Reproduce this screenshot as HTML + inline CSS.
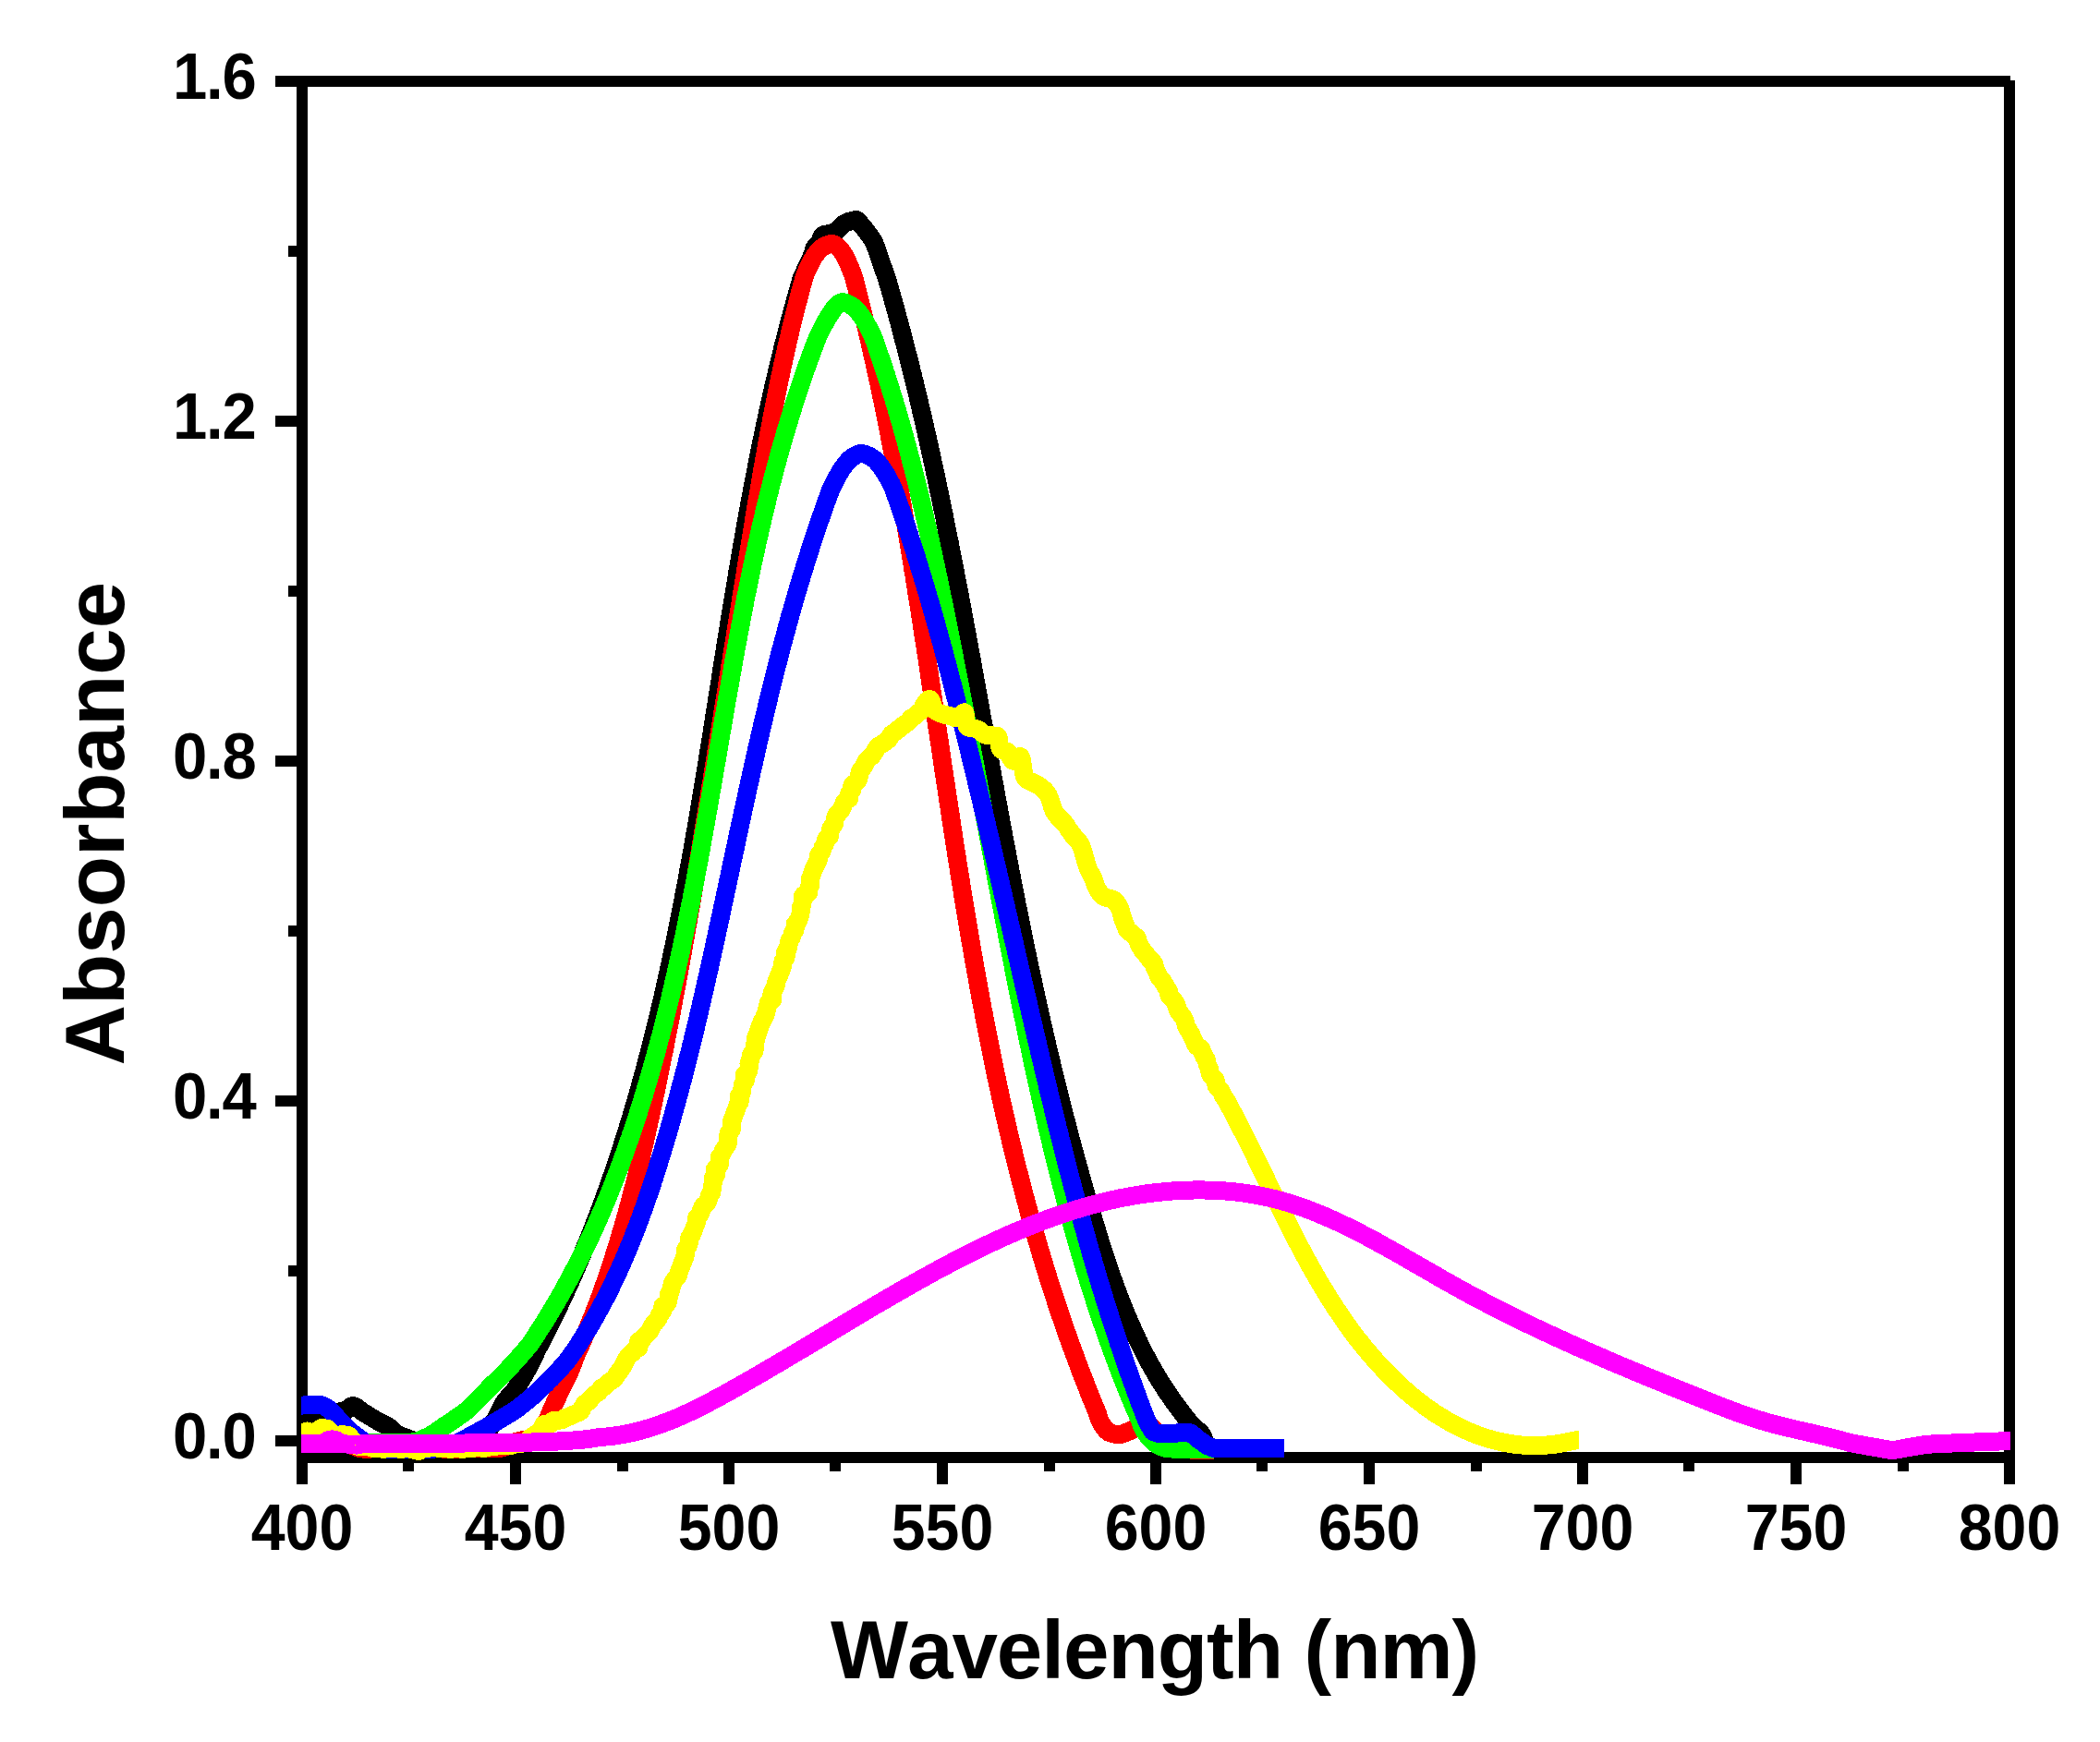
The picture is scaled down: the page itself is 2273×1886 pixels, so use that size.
<!DOCTYPE html>
<html><head><meta charset="utf-8"><title>Absorbance vs Wavelength</title>
<style>
html,body{margin:0;padding:0;background:#fff;}
body{width:2273px;height:1886px;overflow:hidden;}
svg{display:block;}
text{font-family:"Liberation Sans",Arial,Helvetica,sans-serif;font-weight:bold;fill:#000;}
</style></head><body>
<svg width="2273" height="1886" viewBox="0 0 2273 1886">
<rect width="2273" height="1886" fill="#fff"/>
<g fill="#000" shape-rendering="crispEdges">
<rect x="298.0" y="82.0" width="1878.0" height="12.0"/>
<rect x="321.0" y="82.0" width="12.0" height="1525.0"/>
<rect x="2169.0" y="87.0" width="12.0" height="1520.0"/>
<rect x="321.0" y="1572.0" width="1860.0" height="12.0"/>
<rect x="298.0" y="1554.0" width="23.0" height="12.0"/>
<rect x="312.0" y="1370.0" width="9.0" height="12.0"/>
<rect x="298.0" y="1186.0" width="23.0" height="12.0"/>
<rect x="312.0" y="1002.0" width="9.0" height="12.0"/>
<rect x="298.0" y="818.0" width="23.0" height="12.0"/>
<rect x="312.0" y="634.0" width="9.0" height="12.0"/>
<rect x="298.0" y="450.0" width="23.0" height="12.0"/>
<rect x="312.0" y="266.0" width="9.0" height="12.0"/>
<rect x="436.0" y="1584.0" width="12.0" height="9.0"/>
<rect x="552.0" y="1584.0" width="12.0" height="23.0"/>
<rect x="668.0" y="1584.0" width="12.0" height="9.0"/>
<rect x="783.0" y="1584.0" width="12.0" height="23.0"/>
<rect x="898.0" y="1584.0" width="12.0" height="9.0"/>
<rect x="1014.0" y="1584.0" width="12.0" height="23.0"/>
<rect x="1130.0" y="1584.0" width="12.0" height="9.0"/>
<rect x="1245.0" y="1584.0" width="12.0" height="23.0"/>
<rect x="1360.0" y="1584.0" width="12.0" height="9.0"/>
<rect x="1476.0" y="1584.0" width="12.0" height="23.0"/>
<rect x="1592.0" y="1584.0" width="12.0" height="9.0"/>
<rect x="1707.0" y="1584.0" width="12.0" height="23.0"/>
<rect x="1822.0" y="1584.0" width="12.0" height="9.0"/>
<rect x="1938.0" y="1584.0" width="12.0" height="23.0"/>
<rect x="2054.0" y="1584.0" width="12.0" height="9.0"/>
</g>
<clipPath id="plotclip"><rect x="326" y="80" width="1850" height="1505"/></clipPath>
<g shape-rendering="crispEdges" clip-path="url(#plotclip)">
<path d="M316.0,1534.0 L318.0,1534.0 L320.0,1534.0 L322.1,1534.0 L324.1,1534.0 L326.1,1534.0 L328.1,1534.0 L330.1,1533.9 L332.1,1533.7 L334.1,1533.5 L336.1,1533.2 L338.1,1532.9 L340.1,1532.6 L342.1,1532.3 L344.1,1531.9 L346.1,1531.6 L348.1,1531.3 L350.1,1531.0 L352.1,1530.7 L354.1,1530.3 L356.1,1530.0 L358.1,1529.6 L360.0,1529.3 L362.0,1529.0 L364.0,1528.7 L366.0,1528.5 L368.1,1528.4 L370.1,1528.2 L372.1,1528.0 L373.9,1527.3 L375.7,1526.1 L377.4,1524.7 L379.1,1523.3 L380.8,1522.4 L382.5,1522.1 L384.2,1522.6 L385.9,1523.6 L387.6,1524.9 L389.3,1526.3 L391.0,1527.7 L392.7,1528.8 L394.4,1529.9 L396.1,1530.9 L397.9,1532.0 L399.6,1533.0 L401.3,1534.1 L403.1,1535.1 L404.8,1536.1 L406.5,1537.2 L408.3,1538.2 L410.0,1539.2 L411.8,1540.1 L413.6,1541.0 L415.4,1541.9 L417.3,1542.8 L419.1,1543.7 L420.8,1544.8 L422.4,1546.0 L423.9,1547.3 L425.3,1548.8 L426.8,1550.2 L428.3,1551.6 L429.9,1552.7 L431.7,1553.6 L433.5,1554.4 L435.4,1555.1 L437.3,1555.8 L439.3,1556.5 L441.1,1557.2 L443.0,1557.9 L444.9,1558.7 L446.8,1559.4 L448.7,1560.0 L450.6,1560.7 L452.6,1561.2 L454.5,1561.8 L456.4,1562.3 L458.4,1562.8 L460.4,1563.3 L462.3,1563.8 L464.3,1564.2 L466.3,1564.6 L468.3,1564.8 L470.3,1565.0 L472.3,1565.2 L474.3,1565.3 L476.3,1565.4 L478.4,1565.5 L480.4,1565.6 L482.4,1565.7 L484.5,1565.8 L486.5,1565.9 L488.5,1565.9 L490.5,1566.0 L492.5,1566.0 L494.5,1566.0 L496.5,1566.0 L498.5,1565.7 L500.5,1565.4 L502.5,1564.9 L504.5,1564.3 L506.5,1563.7 L508.4,1562.9 L510.3,1562.1 L512.2,1561.3 L513.9,1560.5 L515.7,1559.7 L517.3,1558.7 L519.0,1557.5 L520.6,1556.3 L522.2,1554.9 L523.7,1553.5 L525.1,1552.0 L526.5,1550.5 L527.8,1549.0 L529.1,1547.5 L530.3,1545.9 L531.5,1544.2 L532.6,1542.5 L533.7,1540.8 L534.7,1539.1 L535.8,1537.3 L536.8,1535.6 L537.7,1533.8 L538.6,1532.0 L539.5,1530.2 L540.4,1528.3 L541.3,1526.5 L542.2,1524.7 L543.1,1522.9 L544.1,1521.1 L545.1,1519.4 L546.2,1517.7 L547.4,1516.2 L548.6,1514.6 L550.0,1513.1 L551.3,1511.6 L552.7,1510.1 L554.1,1508.6 L555.4,1507.0 L556.7,1505.5 L557.8,1503.8 L559.0,1502.2 L560.1,1500.5 L561.2,1498.8 L562.3,1497.1 L563.4,1495.4 L564.5,1493.7 L565.5,1492.0 L566.5,1490.2 L567.6,1488.5 L568.6,1486.7 L569.5,1485.0 L570.5,1483.2 L571.5,1481.5 L572.4,1479.7 L573.3,1477.9 L574.3,1476.1 L575.2,1474.3 L576.1,1472.5 L576.9,1470.7 L577.8,1468.8 L578.7,1467.0 L579.5,1465.2 L580.3,1463.3 L580.3,1463.3 L581.2,1461.5 L582.2,1459.7 L583.1,1457.9 L584.1,1456.1 L585.0,1454.3 L586.0,1452.5 L586.9,1450.7 L587.8,1448.9 L588.8,1447.1 L589.7,1445.3 L590.6,1443.5 L591.5,1441.7 L592.4,1439.9 L593.4,1438.1 L594.3,1436.3 L595.2,1434.5 L596.1,1432.6 L597.0,1430.8 L597.9,1429.0 L598.8,1427.2 L599.6,1425.4 L600.5,1423.6 L601.4,1421.8 L602.3,1419.9 L603.2,1418.1 L604.0,1416.3 L604.9,1414.5 L605.8,1412.7 L606.6,1410.8 L607.5,1409.0 L608.4,1407.2 L609.2,1405.4 L610.1,1403.5 L610.9,1401.7 L611.8,1399.9 L612.6,1398.0 L613.4,1396.2 L614.3,1394.4 L615.1,1392.5 L615.9,1390.7 L616.8,1388.9 L617.6,1387.0 L618.4,1385.2 L619.2,1383.4 L620.0,1381.5 L620.9,1379.7 L621.7,1377.8 L622.5,1376.0 L623.3,1374.2 L624.1,1372.3 L624.9,1370.5 L625.7,1368.6 L626.4,1366.8 L627.2,1364.9 L628.0,1363.1 L628.8,1361.2 L629.6,1359.4 L630.4,1357.5 L631.1,1355.7 L631.9,1353.8 L632.7,1352.0 L633.4,1350.1 L634.2,1348.3 L635.0,1346.4 L635.7,1344.6 L636.5,1342.7 L637.2,1340.8 L638.0,1339.0 L638.7,1337.1 L639.4,1335.3 L640.2,1333.4 L640.9,1331.5 L641.7,1329.7 L642.4,1327.8 L643.1,1325.9 L643.8,1324.1 L644.6,1322.2 L645.3,1320.3 L646.0,1318.5 L646.7,1316.6 L647.4,1314.7 L648.1,1312.9 L648.8,1311.0 L649.5,1309.1 L650.2,1307.3 L650.9,1305.4 L651.6,1303.5 L652.3,1301.6 L653.0,1299.7 L653.7,1297.9 L654.4,1296.0 L655.1,1294.1 L655.8,1292.2 L656.4,1290.4 L657.1,1288.5 L657.8,1286.6 L658.5,1284.7 L659.1,1282.8 L659.8,1280.9 L660.5,1279.1 L661.1,1277.2 L661.8,1275.3 L662.4,1273.4 L663.1,1271.5 L663.7,1269.6 L664.4,1267.7 L665.0,1265.8 L665.7,1263.9 L666.3,1262.1 L666.9,1260.2 L667.6,1258.3 L668.2,1256.4 L668.8,1254.5 L669.5,1252.6 L670.1,1250.7 L670.7,1248.8 L671.3,1246.9 L672.0,1245.0 L672.6,1243.1 L673.2,1241.2 L673.8,1239.3 L674.4,1237.4 L675.0,1235.5 L675.6,1233.6 L676.2,1231.7 L676.8,1229.8 L677.4,1227.9 L678.0,1226.0 L678.6,1224.1 L679.2,1222.2 L679.8,1220.2 L680.4,1218.3 L681.0,1216.4 L681.6,1214.5 L682.1,1212.6 L682.7,1210.7 L683.3,1208.8 L683.9,1206.9 L684.4,1205.0 L685.0,1203.0 L685.6,1201.1 L686.1,1199.2 L686.7,1197.3 L687.3,1195.4 L687.8,1193.5 L688.4,1191.5 L688.9,1189.6 L689.5,1187.7 L690.0,1185.8 L690.6,1183.9 L691.1,1182.0 L691.7,1180.0 L692.2,1178.1 L692.8,1176.2 L693.3,1174.3 L693.8,1172.3 L694.4,1170.4 L694.9,1168.5 L695.4,1166.6 L696.0,1164.6 L696.5,1162.7 L697.0,1160.8 L697.5,1158.9 L698.0,1156.9 L698.6,1155.0 L699.1,1153.1 L699.6,1151.1 L700.1,1149.2 L700.6,1147.3 L701.1,1145.3 L701.6,1143.4 L702.1,1141.5 L702.6,1139.5 L703.1,1137.6 L703.6,1135.7 L704.1,1133.7 L704.6,1131.8 L705.1,1129.9 L705.6,1127.9 L706.1,1126.0 L706.6,1124.1 L707.1,1122.1 L707.6,1120.2 L708.1,1118.2 L708.5,1116.3 L709.0,1114.4 L709.5,1112.4 L710.0,1110.5 L710.4,1108.5 L710.9,1106.6 L711.4,1104.7 L711.9,1102.7 L712.3,1100.8 L712.8,1098.8 L713.3,1096.9 L713.7,1094.9 L714.2,1093.0 L714.6,1091.0 L715.1,1089.1 L715.6,1087.1 L716.0,1085.2 L716.5,1083.3 L716.9,1081.3 L717.4,1079.4 L717.8,1077.4 L718.3,1075.5 L718.7,1073.5 L719.1,1071.6 L719.6,1069.6 L720.0,1067.7 L720.5,1065.7 L720.9,1063.7 L721.3,1061.8 L721.8,1059.8 L722.2,1057.9 L722.6,1055.9 L723.1,1054.0 L723.5,1052.0 L723.9,1050.1 L724.4,1048.1 L724.8,1046.2 L725.2,1044.2 L725.6,1042.2 L726.0,1040.3 L726.5,1038.3 L726.9,1036.4 L727.3,1034.4 L727.7,1032.4 L728.1,1030.5 L728.5,1028.5 L728.9,1026.6 L729.4,1024.6 L729.8,1022.6 L730.2,1020.7 L730.6,1018.7 L731.0,1016.8 L731.4,1014.8 L731.8,1012.8 L732.2,1010.9 L732.6,1008.9 L733.0,1006.9 L733.4,1005.0 L733.8,1003.0 L734.2,1001.0 L734.6,999.1 L734.9,997.1 L735.3,995.1 L735.7,993.2 L736.1,991.2 L736.5,989.2 L736.9,987.3 L737.3,985.3 L737.7,983.3 L738.0,981.4 L738.4,979.4 L738.8,977.4 L739.2,975.5 L739.5,973.5 L739.9,971.5 L740.3,969.6 L740.7,967.6 L741.0,965.6 L741.4,963.6 L741.8,961.7 L742.2,959.7 L742.5,957.7 L742.9,955.8 L743.3,953.8 L743.6,951.8 L744.0,949.8 L744.4,947.9 L744.7,945.9 L745.1,943.9 L745.4,941.9 L745.8,940.0 L746.2,938.0 L746.5,936.0 L746.9,934.0 L747.2,932.1 L747.6,930.1 L747.9,928.1 L748.3,926.1 L748.7,924.2 L749.0,922.2 L749.4,920.2 L749.7,918.2 L750.1,916.3 L750.4,914.3 L750.8,912.3 L751.1,910.3 L751.4,908.4 L751.8,906.4 L752.1,904.4 L752.5,902.4 L752.8,900.4 L753.2,898.5 L753.5,896.5 L753.8,894.5 L754.2,892.5 L754.5,890.5 L754.9,888.6 L755.2,886.6 L755.5,884.6 L755.9,882.6 L756.2,880.6 L756.5,878.7 L756.9,876.7 L757.2,874.7 L757.5,872.7 L757.9,870.7 L758.2,868.8 L758.5,866.8 L758.9,864.8 L759.2,862.8 L759.5,860.8 L759.9,858.8 L760.2,856.9 L760.5,854.9 L760.8,852.9 L761.2,850.9 L761.5,848.9 L761.8,846.9 L762.2,845.0 L762.5,843.0 L762.8,841.0 L763.1,839.0 L763.4,837.0 L763.8,835.0 L764.1,833.1 L764.4,831.1 L764.7,829.1 L765.1,827.1 L765.4,825.1 L765.7,823.1 L766.0,821.2 L766.3,819.2 L766.7,817.2 L767.0,815.2 L767.3,813.2 L767.6,811.2 L767.9,809.3 L768.3,807.3 L768.6,805.3 L768.9,803.3 L769.2,801.3 L769.5,799.3 L769.8,797.3 L770.2,795.4 L770.5,793.4 L770.8,791.4 L771.1,789.4 L771.4,787.4 L771.7,785.4 L772.0,783.4 L772.4,781.5 L772.7,779.5 L773.0,777.5 L773.3,775.5 L773.6,773.5 L773.9,771.5 L774.2,769.5 L774.6,767.6 L774.9,765.6 L775.2,763.6 L775.5,761.6 L775.8,759.6 L776.1,757.6 L776.4,755.6 L776.7,753.7 L777.1,751.7 L777.4,749.7 L777.7,747.7 L778.0,745.7 L778.3,743.7 L778.6,741.7 L778.9,739.8 L779.3,737.8 L779.6,735.8 L779.9,733.8 L780.2,731.8 L780.5,729.8 L780.8,727.8 L781.1,725.8 L781.4,723.9 L781.8,721.9 L782.1,719.9 L782.4,717.9 L782.7,715.9 L783.0,713.9 L783.3,712.0 L783.6,710.0 L784.0,708.0 L784.3,706.0 L784.6,704.0 L784.9,702.0 L785.2,700.0 L785.5,698.1 L785.8,696.1 L786.2,694.1 L786.5,692.1 L786.8,690.1 L787.1,688.1 L787.4,686.1 L787.7,684.2 L788.1,682.2 L788.4,680.2 L788.7,678.2 L789.0,676.2 L789.3,674.2 L789.7,672.3 L790.0,670.3 L790.3,668.3 L790.6,666.3 L790.9,664.3 L791.3,662.3 L791.6,660.4 L791.9,658.4 L792.2,656.4 L792.5,654.4 L792.9,652.4 L793.2,650.4 L793.5,648.5 L793.8,646.5 L794.2,644.5 L794.5,642.5 L794.8,640.5 L795.2,638.5 L795.5,636.6 L795.8,634.6 L796.1,632.6 L796.5,630.6 L796.8,628.6 L797.1,626.7 L797.5,624.7 L797.8,622.7 L798.1,620.7 L798.4,618.7 L798.8,616.7 L799.1,614.8 L799.5,612.8 L799.8,610.8 L800.1,608.8 L800.5,606.9 L800.8,604.9 L801.1,602.9 L801.5,600.9 L801.8,598.9 L802.2,597.0 L802.5,595.0 L802.8,593.0 L803.2,591.0 L803.5,589.0 L803.9,587.1 L804.2,585.1 L804.6,583.1 L804.9,581.1 L805.2,579.2 L805.6,577.2 L805.9,575.2 L806.3,573.2 L806.6,571.3 L807.0,569.3 L807.3,567.3 L807.7,565.3 L808.1,563.4 L808.4,561.4 L808.8,559.4 L809.1,557.4 L809.5,555.5 L809.8,553.5 L810.2,551.5 L810.6,549.5 L810.9,547.6 L811.3,545.6 L811.6,543.6 L812.0,541.6 L812.4,539.7 L812.7,537.7 L813.1,535.7 L813.5,533.8 L813.8,531.8 L814.2,529.8 L814.6,527.9 L815.0,525.9 L815.3,523.9 L815.7,521.9 L816.1,520.0 L816.5,518.0 L816.8,516.0 L817.2,514.1 L817.6,512.1 L818.0,510.1 L818.4,508.2 L818.7,506.2 L819.1,504.2 L819.5,502.3 L819.9,500.3 L820.3,498.3 L820.7,496.4 L821.1,494.4 L821.5,492.4 L821.9,490.5 L822.2,488.5 L822.6,486.6 L823.0,484.6 L823.4,482.6 L823.8,480.7 L824.2,478.7 L824.6,476.7 L825.0,474.8 L825.5,472.8 L825.9,470.9 L826.3,468.9 L826.7,466.9 L827.1,465.0 L827.5,463.0 L827.9,461.1 L828.3,459.1 L828.7,457.1 L829.2,455.2 L829.6,453.2 L830.0,451.3 L830.4,449.3 L830.8,447.4 L831.3,445.4 L831.7,443.4 L832.1,441.5 L832.6,439.5 L833.0,437.6 L833.4,435.6 L833.9,433.7 L834.3,431.7 L834.7,429.8 L835.2,427.8 L835.6,425.9 L836.0,423.9 L836.5,422.0 L836.9,420.0 L837.4,418.1 L837.8,416.1 L838.3,414.2 L838.7,412.2 L839.2,410.3 L839.6,408.3 L840.1,406.4 L840.6,404.4 L841.0,402.5 L841.5,400.5 L841.9,398.6 L842.4,396.6 L842.9,394.7 L843.3,392.7 L843.8,390.8 L844.3,388.9 L844.8,386.9 L845.2,385.0 L845.7,383.0 L846.2,381.1 L846.7,379.1 L847.1,377.2 L847.6,375.3 L848.1,373.3 L848.6,371.4 L849.1,369.4 L849.6,367.5 L850.1,365.6 L850.6,363.6 L851.1,361.7 L851.6,359.8 L852.1,357.8 L852.6,355.9 L853.1,354.0 L853.6,352.0 L854.1,350.1 L854.6,348.2 L855.1,346.2 L855.6,344.3 L856.2,342.4 L856.7,340.4 L857.2,338.5 L857.7,336.6 L858.2,334.6 L858.8,332.7 L859.3,330.8 L859.8,328.9 L860.4,326.9 L860.9,325.0 L861.4,323.1 L862.0,321.1 L862.5,319.2 L863.1,317.3 L863.6,315.4 L864.2,313.4 L864.7,311.5 L865.3,309.6 L865.8,307.7 L866.4,305.8 L866.9,303.8 L867.5,301.9 L868.1,300.0 L868.1,300.0 L868.9,298.2 L869.8,296.3 L870.7,294.5 L871.6,292.6 L872.4,290.8 L873.3,288.9 L874.1,287.1 L875.0,285.2 L875.8,283.4 L876.7,281.5 L877.6,279.7 L878.5,277.9 L879.3,276.0 L880.0,274.1 L880.5,272.1 L881.0,270.1 L881.7,268.3 L883.0,266.7 L884.6,265.3 L886.1,263.9 L887.2,262.2 L888.0,260.3 L888.6,258.3 L889.4,256.5 L890.7,254.9 L892.5,254.0 L894.4,253.5 L896.5,253.3 L898.6,253.0 L900.5,252.6 L902.4,251.8 L904.1,250.8 L905.8,249.5 L907.5,248.2 L909.0,246.9 L910.3,245.3 L911.7,243.7 L913.2,242.5 L915.0,241.5 L916.9,240.6 L918.8,239.9 L920.7,239.3 L922.8,238.7 L925.0,238.3 L926.9,238.0 L928.4,238.6 L929.7,240.5 L931.0,242.1 L932.3,243.7 L933.6,245.2 L935.0,246.8 L936.2,248.3 L937.5,249.9 L938.8,251.6 L940.0,253.2 L941.2,254.8 L942.4,256.5 L943.6,258.2 L944.6,259.9 L945.5,261.7 L946.4,263.5 L947.2,265.4 L947.9,267.3 L948.7,269.2 L949.4,271.2 L950.0,273.1 L950.7,275.0 L951.3,277.0 L951.9,278.9 L952.6,280.8 L953.2,282.8 L953.9,284.7 L954.6,286.6 L955.3,288.5 L956.0,290.4 L956.6,292.4 L957.3,294.3 L958.0,296.2 L958.8,298.1 L959.5,300.0 L960.0,301.9 L960.6,303.9 L961.1,305.8 L961.7,307.7 L962.3,309.6 L962.8,311.6 L963.4,313.5 L963.9,315.4 L964.5,317.4 L965.0,319.3 L965.5,321.2 L966.1,323.1 L966.6,325.1 L967.2,327.0 L967.7,328.9 L968.2,330.9 L968.8,332.8 L969.3,334.7 L969.8,336.7 L970.4,338.6 L970.9,340.5 L971.4,342.5 L971.9,344.4 L972.5,346.3 L973.0,348.3 L973.5,350.2 L974.0,352.2 L974.5,354.1 L975.1,356.0 L975.6,358.0 L976.1,359.9 L976.6,361.8 L977.1,363.8 L977.6,365.7 L978.1,367.7 L978.6,369.6 L979.1,371.5 L979.6,373.5 L980.1,375.4 L980.6,377.4 L981.1,379.3 L981.6,381.2 L982.1,383.2 L982.6,385.1 L983.1,387.1 L983.6,389.0 L984.1,390.9 L984.6,392.9 L985.1,394.8 L985.6,396.8 L986.0,398.7 L986.5,400.7 L987.0,402.6 L987.5,404.5 L988.0,406.5 L988.4,408.4 L988.9,410.4 L989.4,412.3 L989.9,414.3 L990.3,416.2 L990.8,418.2 L991.3,420.1 L991.8,422.1 L992.2,424.0 L992.7,425.9 L993.2,427.9 L993.6,429.8 L994.1,431.8 L994.6,433.7 L995.0,435.7 L995.5,437.6 L995.9,439.6 L996.4,441.5 L996.8,443.5 L997.3,445.4 L997.8,447.4 L998.2,449.3 L998.7,451.3 L999.1,453.2 L999.6,455.2 L1000.0,457.1 L1000.5,459.1 L1000.9,461.0 L1001.4,463.0 L1001.8,464.9 L1002.2,466.9 L1002.7,468.8 L1003.1,470.8 L1003.6,472.8 L1004.0,474.7 L1004.4,476.7 L1004.9,478.6 L1005.3,480.6 L1005.7,482.5 L1006.2,484.5 L1006.6,486.4 L1007.0,488.4 L1007.5,490.3 L1007.9,492.3 L1008.3,494.3 L1008.8,496.2 L1009.2,498.2 L1009.6,500.1 L1010.0,502.1 L1010.5,504.0 L1010.9,506.0 L1011.3,508.0 L1011.7,509.9 L1012.1,511.9 L1012.6,513.8 L1013.0,515.8 L1013.4,517.7 L1013.8,519.7 L1014.2,521.7 L1014.6,523.6 L1015.1,525.6 L1015.5,527.5 L1015.9,529.5 L1016.3,531.5 L1016.7,533.4 L1017.1,535.4 L1017.5,537.3 L1017.9,539.3 L1018.3,541.3 L1018.7,543.2 L1019.1,545.2 L1019.5,547.1 L1019.9,549.1 L1020.4,551.1 L1020.8,553.0 L1021.2,555.0 L1021.6,556.9 L1022.0,558.9 L1022.4,560.9 L1022.7,562.8 L1023.1,564.8 L1023.5,566.8 L1023.9,568.7 L1024.3,570.7 L1024.7,572.6 L1025.1,574.6 L1025.5,576.6 L1025.9,578.5 L1026.3,580.5 L1026.7,582.5 L1027.1,584.4 L1027.5,586.4 L1027.9,588.4 L1028.2,590.3 L1028.6,592.3 L1029.0,594.3 L1029.4,596.2 L1029.8,598.2 L1030.2,600.1 L1030.6,602.1 L1030.9,604.1 L1031.3,606.0 L1031.7,608.0 L1032.1,610.0 L1032.5,611.9 L1032.9,613.9 L1033.2,615.9 L1033.6,617.8 L1034.0,619.8 L1034.4,621.8 L1034.7,623.7 L1035.1,625.7 L1035.5,627.7 L1035.9,629.6 L1036.3,631.6 L1036.6,633.6 L1037.0,635.5 L1037.4,637.5 L1037.8,639.5 L1038.1,641.5 L1038.5,643.4 L1038.9,645.4 L1039.2,647.4 L1039.6,649.3 L1040.0,651.3 L1040.4,653.3 L1040.7,655.2 L1041.1,657.2 L1041.5,659.2 L1041.8,661.1 L1042.2,663.1 L1042.6,665.1 L1042.9,667.0 L1043.3,669.0 L1043.7,671.0 L1044.0,673.0 L1044.4,674.9 L1044.8,676.9 L1045.1,678.9 L1045.5,680.8 L1045.9,682.8 L1046.2,684.8 L1046.6,686.7 L1047.0,688.7 L1047.3,690.7 L1047.7,692.7 L1048.0,694.6 L1048.4,696.6 L1048.8,698.6 L1049.1,700.5 L1049.5,702.5 L1049.9,704.5 L1050.2,706.5 L1050.6,708.4 L1050.9,710.4 L1051.3,712.4 L1051.7,714.3 L1052.0,716.3 L1052.4,718.3 L1052.7,720.2 L1053.1,722.2 L1053.4,724.2 L1053.8,726.2 L1054.2,728.1 L1054.5,730.1 L1054.9,732.1 L1055.2,734.1 L1055.6,736.0 L1056.0,738.0 L1056.3,740.0 L1056.7,741.9 L1057.0,743.9 L1057.4,745.9 L1057.7,747.9 L1058.1,749.8 L1058.5,751.8 L1058.8,753.8 L1059.2,755.7 L1059.5,757.7 L1059.9,759.7 L1060.2,761.7 L1060.6,763.6 L1061.0,765.6 L1061.3,767.6 L1061.7,769.6 L1062.0,771.5 L1062.4,773.5 L1062.7,775.5 L1063.1,777.4 L1063.4,779.4 L1063.8,781.4 L1064.2,783.4 L1064.5,785.3 L1064.9,787.3 L1065.2,789.3 L1065.6,791.2 L1065.9,793.2 L1066.3,795.2 L1066.7,797.2 L1067.0,799.1 L1067.4,801.1 L1067.7,803.1 L1068.1,805.1 L1068.4,807.0 L1068.8,809.0 L1069.1,811.0 L1069.5,812.9 L1069.9,814.9 L1070.2,816.9 L1070.6,818.9 L1070.9,820.8 L1071.3,822.8 L1071.6,824.8 L1072.0,826.8 L1072.4,828.7 L1072.7,830.7 L1073.1,832.7 L1073.4,834.6 L1073.8,836.6 L1074.2,838.6 L1074.5,840.6 L1074.9,842.5 L1075.2,844.5 L1075.6,846.5 L1076.0,848.4 L1076.3,850.4 L1076.7,852.4 L1077.0,854.4 L1077.4,856.3 L1077.8,858.3 L1078.1,860.3 L1078.5,862.3 L1078.8,864.2 L1079.2,866.2 L1079.6,868.2 L1079.9,870.1 L1080.3,872.1 L1080.7,874.1 L1081.0,876.1 L1081.4,878.0 L1081.7,880.0 L1082.1,882.0 L1082.5,883.9 L1082.8,885.9 L1083.2,887.9 L1083.6,889.9 L1083.9,891.8 L1084.3,893.8 L1084.7,895.8 L1085.0,897.7 L1085.4,899.7 L1085.8,901.7 L1086.1,903.6 L1086.5,905.6 L1086.9,907.6 L1087.3,909.6 L1087.6,911.5 L1088.0,913.5 L1088.4,915.5 L1088.7,917.4 L1089.1,919.4 L1089.5,921.4 L1089.9,923.4 L1090.2,925.3 L1090.6,927.3 L1091.0,929.3 L1091.4,931.2 L1091.7,933.2 L1092.1,935.2 L1092.5,937.1 L1092.9,939.1 L1093.2,941.1 L1093.6,943.0 L1094.0,945.0 L1094.4,947.0 L1094.8,948.9 L1095.1,950.9 L1095.5,952.9 L1095.9,954.9 L1096.3,956.8 L1096.7,958.8 L1097.1,960.8 L1097.4,962.7 L1097.8,964.7 L1098.2,966.7 L1098.6,968.6 L1099.0,970.6 L1099.4,972.6 L1099.8,974.5 L1100.2,976.5 L1100.5,978.5 L1100.9,980.4 L1101.3,982.4 L1101.7,984.4 L1102.1,986.3 L1102.5,988.3 L1102.9,990.3 L1103.3,992.2 L1103.7,994.2 L1104.1,996.2 L1104.5,998.1 L1104.9,1000.1 L1105.3,1002.1 L1105.7,1004.0 L1106.1,1006.0 L1106.5,1007.9 L1106.9,1009.9 L1107.3,1011.9 L1107.7,1013.8 L1108.1,1015.8 L1108.5,1017.8 L1108.9,1019.7 L1109.3,1021.7 L1109.7,1023.7 L1110.1,1025.6 L1110.5,1027.6 L1110.9,1029.6 L1111.3,1031.5 L1111.8,1033.5 L1112.2,1035.4 L1112.6,1037.4 L1113.0,1039.4 L1113.4,1041.3 L1113.8,1043.3 L1114.2,1045.2 L1114.6,1047.2 L1115.1,1049.2 L1115.5,1051.1 L1115.9,1053.1 L1116.3,1055.1 L1116.7,1057.0 L1117.2,1059.0 L1117.6,1060.9 L1118.0,1062.9 L1118.4,1064.9 L1118.9,1066.8 L1119.3,1068.8 L1119.7,1070.7 L1120.1,1072.7 L1120.6,1074.7 L1121.0,1076.6 L1121.4,1078.6 L1121.9,1080.5 L1122.3,1082.5 L1122.7,1084.4 L1123.2,1086.4 L1123.6,1088.4 L1124.0,1090.3 L1124.5,1092.3 L1124.9,1094.2 L1125.3,1096.2 L1125.8,1098.1 L1126.2,1100.1 L1126.7,1102.1 L1127.1,1104.0 L1127.6,1106.0 L1128.0,1107.9 L1128.4,1109.9 L1128.9,1111.8 L1129.3,1113.8 L1129.8,1115.7 L1130.2,1117.7 L1130.7,1119.6 L1131.1,1121.6 L1131.6,1123.6 L1132.1,1125.5 L1132.5,1127.5 L1133.0,1129.4 L1133.4,1131.4 L1133.9,1133.3 L1134.3,1135.3 L1134.8,1137.2 L1135.3,1139.2 L1135.7,1141.1 L1136.2,1143.1 L1136.6,1145.0 L1137.1,1147.0 L1137.6,1148.9 L1138.0,1150.9 L1138.5,1152.8 L1139.0,1154.8 L1139.5,1156.7 L1139.9,1158.7 L1140.4,1160.6 L1140.9,1162.6 L1141.3,1164.5 L1141.8,1166.5 L1142.3,1168.4 L1142.8,1170.4 L1143.3,1172.3 L1143.7,1174.3 L1144.2,1176.2 L1144.7,1178.1 L1145.2,1180.1 L1145.7,1182.0 L1146.2,1184.0 L1146.6,1185.9 L1147.1,1187.9 L1147.6,1189.8 L1148.1,1191.8 L1148.6,1193.7 L1149.1,1195.7 L1149.6,1197.6 L1150.1,1199.5 L1150.6,1201.5 L1151.1,1203.4 L1151.6,1205.4 L1152.1,1207.3 L1152.6,1209.3 L1153.1,1211.2 L1153.6,1213.1 L1154.1,1215.1 L1154.6,1217.0 L1155.1,1219.0 L1155.6,1220.9 L1156.1,1222.8 L1156.6,1224.8 L1157.1,1226.7 L1157.7,1228.7 L1158.2,1230.6 L1158.7,1232.5 L1159.2,1234.5 L1159.7,1236.4 L1160.2,1238.3 L1160.8,1240.3 L1161.3,1242.2 L1161.8,1244.2 L1162.3,1246.1 L1162.9,1248.0 L1163.4,1250.0 L1163.9,1251.9 L1164.5,1253.8 L1165.0,1255.8 L1165.5,1257.7 L1166.1,1259.6 L1166.6,1261.6 L1167.1,1263.5 L1167.7,1265.4 L1168.2,1267.4 L1168.7,1269.3 L1169.3,1271.2 L1169.8,1273.2 L1170.4,1275.1 L1170.9,1277.0 L1171.5,1278.9 L1172.0,1280.9 L1172.6,1282.8 L1173.1,1284.7 L1173.7,1286.7 L1174.2,1288.6 L1174.8,1290.5 L1175.3,1292.4 L1175.9,1294.4 L1176.5,1296.3 L1177.0,1298.2 L1177.6,1300.2 L1178.1,1302.1 L1178.7,1304.0 L1179.3,1305.9 L1179.8,1307.9 L1180.4,1309.8 L1181.0,1311.7 L1181.6,1313.6 L1182.1,1315.6 L1182.7,1317.5 L1183.3,1319.4 L1183.9,1321.3 L1184.4,1323.2 L1185.0,1325.2 L1185.6,1327.1 L1186.2,1329.0 L1186.8,1330.9 L1187.4,1332.8 L1187.9,1334.8 L1188.5,1336.7 L1189.1,1338.6 L1189.7,1340.5 L1190.3,1342.4 L1190.9,1344.3 L1191.5,1346.3 L1192.1,1348.2 L1192.8,1350.1 L1193.4,1352.0 L1194.0,1353.9 L1194.6,1355.8 L1195.2,1357.7 L1195.8,1359.6 L1196.5,1361.5 L1197.1,1363.4 L1197.7,1365.3 L1198.4,1367.2 L1199.0,1369.1 L1199.6,1371.0 L1200.3,1372.9 L1200.9,1374.8 L1201.6,1376.7 L1202.2,1378.6 L1202.9,1380.5 L1203.6,1382.4 L1204.2,1384.3 L1204.9,1386.1 L1205.6,1388.0 L1206.3,1389.9 L1206.9,1391.8 L1207.6,1393.7 L1208.3,1395.5 L1209.0,1397.4 L1209.7,1399.3 L1210.4,1401.2 L1211.1,1403.0 L1211.8,1404.9 L1212.6,1406.7 L1213.3,1408.6 L1214.0,1410.5 L1214.7,1412.3 L1215.5,1414.2 L1216.2,1416.0 L1217.0,1417.9 L1217.7,1419.7 L1218.5,1421.6 L1219.3,1423.4 L1220.0,1425.2 L1220.8,1427.1 L1221.6,1428.9 L1222.4,1430.7 L1223.2,1432.6 L1224.0,1434.4 L1224.8,1436.2 L1225.6,1438.0 L1226.4,1439.8 L1227.2,1441.6 L1228.1,1443.4 L1228.9,1445.3 L1229.7,1447.1 L1230.6,1448.9 L1231.4,1450.7 L1232.3,1452.4 L1233.2,1454.2 L1234.0,1456.0 L1234.9,1457.8 L1235.8,1459.6 L1236.7,1461.4 L1237.6,1463.1 L1238.5,1464.9 L1239.4,1466.7 L1240.3,1468.4 L1241.3,1470.2 L1242.2,1471.9 L1243.2,1473.7 L1244.1,1475.4 L1245.1,1477.2 L1246.0,1478.9 L1247.0,1480.6 L1248.0,1482.4 L1249.0,1484.1 L1250.0,1485.8 L1251.0,1487.5 L1252.0,1489.3 L1253.0,1491.0 L1254.1,1492.7 L1255.1,1494.4 L1256.2,1496.1 L1257.2,1497.8 L1258.3,1499.5 L1259.4,1501.1 L1260.4,1502.8 L1261.5,1504.5 L1262.6,1506.2 L1263.7,1507.8 L1264.9,1509.5 L1266.0,1511.2 L1267.1,1512.8 L1268.3,1514.5 L1269.4,1516.1 L1270.6,1517.7 L1271.8,1519.4 L1272.9,1521.0 L1274.1,1522.6 L1275.3,1524.2 L1276.5,1525.9 L1277.8,1527.5 L1279.0,1529.1 L1280.2,1530.7 L1281.5,1532.3 L1282.7,1533.8 L1284.0,1535.4 L1285.3,1537.0 L1286.6,1538.8 L1287.9,1540.5 L1289.3,1542.1 L1290.8,1543.7 L1292.3,1545.3 L1293.9,1546.7 L1295.7,1548.0 L1297.5,1549.3 L1299.0,1550.8 L1300.3,1552.4 L1301.4,1554.3 L1302.3,1556.3 L1303.1,1558.3 L1303.7,1560.4 L1304.3,1562.5 L1305.1,1564.8 L1305.9,1567.0 L1307.1,1567.6 L1308.9,1567.8 L1311.3,1568.0 L1314.0,1568.0" fill="none" stroke="#000" stroke-width="20.0" stroke-linejoin="round" stroke-linecap="butt"/>
<path d="M316.0,1562.0 L318.0,1562.0 L320.0,1562.0 L322.0,1562.0 L324.1,1562.0 L326.1,1562.0 L328.1,1562.0 L330.1,1562.0 L332.1,1562.0 L334.2,1562.0 L336.2,1562.0 L338.2,1562.0 L340.3,1562.0 L342.3,1562.0 L344.3,1562.0 L346.4,1562.0 L348.4,1562.0 L350.4,1562.0 L352.5,1562.0 L354.5,1562.0 L356.5,1562.0 L358.5,1562.0 L360.5,1562.0 L362.5,1562.0 L364.5,1562.0 L366.5,1562.0 L368.5,1562.0 L370.4,1562.0 L372.4,1562.0 L374.3,1562.3 L376.2,1562.8 L378.2,1563.5 L380.1,1564.4 L382.0,1565.2 L383.9,1565.9 L385.7,1566.7 L387.6,1567.6 L389.5,1568.3 L391.5,1568.5 L393.4,1568.5 L395.5,1568.5 L397.5,1568.5 L399.5,1568.5 L401.5,1568.5 L403.5,1568.4 L405.5,1567.8 L407.4,1567.1 L409.4,1566.5 L411.3,1566.1 L413.3,1566.0 L415.3,1565.9 L417.3,1565.8 L419.3,1565.8 L421.3,1565.7 L423.3,1565.7 L425.3,1565.6 L427.4,1565.6 L429.4,1565.6 L431.4,1565.5 L433.4,1565.5 L435.5,1565.5 L437.5,1565.5 L439.5,1565.5 L441.5,1565.5 L443.5,1565.5 L445.6,1565.5 L447.6,1565.5 L449.6,1565.6 L451.6,1565.6 L453.7,1565.6 L455.7,1565.6 L457.7,1565.7 L459.7,1565.7 L461.7,1565.8 L463.7,1565.8 L465.7,1565.9 L467.7,1566.0 L469.7,1566.2 L471.6,1566.8 L473.6,1567.5 L475.5,1568.1 L477.5,1568.5 L479.5,1568.5 L481.4,1568.5 L483.4,1568.5 L485.4,1568.5 L487.5,1568.5 L489.5,1568.5 L491.5,1568.5 L493.5,1568.5 L495.6,1568.5 L497.6,1568.5 L499.6,1568.5 L501.7,1568.4 L503.7,1568.4 L505.8,1568.4 L507.8,1568.4 L509.8,1568.4 L511.9,1568.4 L513.9,1568.4 L516.0,1568.3 L518.0,1568.3 L520.0,1568.3 L522.0,1568.3 L524.1,1568.2 L526.1,1568.2 L528.1,1568.2 L530.1,1568.2 L532.1,1568.1 L534.0,1568.1 L536.0,1568.1 L538.0,1568.0 L539.9,1568.0 L541.8,1567.8 L543.7,1567.5 L545.6,1566.9 L547.5,1566.1 L549.4,1565.3 L551.2,1564.4 L553.1,1563.5 L555.0,1562.5 L556.9,1561.7 L558.8,1560.9 L560.7,1560.3 L562.6,1559.8 L564.7,1559.4 L566.7,1559.1 L568.7,1558.7 L570.7,1558.3 L572.5,1557.8 L574.3,1557.1 L576.0,1556.3 L577.8,1555.2 L579.5,1554.0 L581.1,1552.6 L582.7,1551.2 L584.2,1549.7 L585.6,1548.1 L586.8,1546.6 L588.0,1545.1 L589.1,1543.5 L590.1,1541.9 L591.1,1540.2 L592.0,1538.4 L592.8,1536.5 L593.7,1534.7 L594.5,1532.8 L595.3,1530.9 L596.1,1528.9 L596.8,1527.0 L597.6,1525.1 L598.5,1523.2 L599.3,1521.4 L600.2,1519.6 L601.0,1517.7 L601.8,1515.9 L602.6,1514.1 L603.5,1512.2 L604.3,1510.4 L605.1,1508.6 L606.0,1506.7 L606.8,1504.9 L607.7,1503.1 L608.7,1501.3 L609.6,1499.5 L610.6,1497.8 L611.5,1496.0 L612.4,1494.2 L613.3,1492.4 L614.1,1490.6 L615.0,1488.7 L615.8,1486.9 L616.6,1485.0 L617.4,1483.2 L618.1,1481.3 L618.9,1479.5 L619.6,1477.6 L620.4,1475.7 L621.1,1473.8 L621.8,1471.9 L622.4,1470.0 L623.1,1468.1 L623.1,1468.1 L623.9,1466.3 L624.8,1464.4 L625.6,1462.6 L626.4,1460.8 L627.2,1459.0 L628.1,1457.1 L628.9,1455.3 L629.7,1453.4 L630.5,1451.6 L631.3,1449.8 L632.1,1447.9 L632.9,1446.1 L633.6,1444.2 L634.4,1442.4 L635.2,1440.5 L636.0,1438.7 L636.7,1436.8 L637.5,1435.0 L638.2,1433.1 L639.0,1431.3 L639.7,1429.4 L640.5,1427.5 L641.2,1425.7 L642.0,1423.8 L642.7,1422.0 L643.4,1420.1 L644.1,1418.2 L644.9,1416.4 L645.6,1414.5 L646.3,1412.6 L647.0,1410.8 L647.7,1408.9 L648.4,1407.0 L649.1,1405.1 L649.8,1403.3 L650.5,1401.4 L651.1,1399.5 L651.8,1397.6 L652.5,1395.7 L653.2,1393.9 L653.8,1392.0 L654.5,1390.1 L655.2,1388.2 L655.8,1386.3 L656.5,1384.4 L657.1,1382.5 L657.8,1380.6 L658.4,1378.8 L659.0,1376.9 L659.7,1375.0 L660.3,1373.1 L660.9,1371.2 L661.6,1369.3 L662.2,1367.4 L662.8,1365.5 L663.4,1363.6 L664.0,1361.7 L664.6,1359.8 L665.2,1357.9 L665.8,1356.0 L666.4,1354.1 L667.0,1352.1 L667.6,1350.2 L668.2,1348.3 L668.8,1346.4 L669.4,1344.5 L670.0,1342.6 L670.5,1340.7 L671.1,1338.8 L671.7,1336.9 L672.2,1334.9 L672.8,1333.0 L673.4,1331.1 L673.9,1329.2 L674.5,1327.3 L675.0,1325.3 L675.6,1323.4 L676.1,1321.5 L676.7,1319.6 L677.2,1317.6 L677.8,1315.7 L678.3,1313.8 L678.8,1311.9 L679.4,1309.9 L679.9,1308.0 L680.4,1306.1 L680.9,1304.1 L681.5,1302.2 L682.0,1300.3 L682.5,1298.3 L683.0,1296.4 L683.5,1294.5 L684.0,1292.5 L684.5,1290.6 L685.0,1288.7 L685.5,1286.7 L686.0,1284.8 L686.5,1282.9 L687.0,1280.9 L687.5,1279.0 L688.0,1277.0 L688.5,1275.1 L689.0,1273.2 L689.4,1271.2 L689.9,1269.3 L690.4,1267.3 L690.9,1265.4 L691.4,1263.4 L691.8,1261.5 L692.3,1259.5 L692.8,1257.6 L693.2,1255.6 L693.7,1253.7 L694.2,1251.7 L694.6,1249.8 L695.1,1247.8 L695.5,1245.9 L696.0,1243.9 L696.4,1242.0 L696.9,1240.0 L697.3,1238.1 L697.8,1236.1 L698.2,1234.2 L698.7,1232.2 L699.1,1230.3 L699.6,1228.3 L700.0,1226.4 L700.4,1224.4 L700.9,1222.5 L701.3,1220.5 L701.8,1218.5 L702.2,1216.6 L702.6,1214.6 L703.1,1212.7 L703.5,1210.7 L703.9,1208.7 L704.3,1206.8 L704.8,1204.8 L705.2,1202.9 L705.6,1200.9 L706.0,1199.0 L706.4,1197.0 L706.9,1195.0 L707.3,1193.1 L707.7,1191.1 L708.1,1189.1 L708.5,1187.2 L708.9,1185.2 L709.4,1183.3 L709.8,1181.3 L710.2,1179.3 L710.6,1177.4 L711.0,1175.4 L711.4,1173.4 L711.8,1171.5 L712.2,1169.5 L712.6,1167.5 L713.0,1165.6 L713.4,1163.6 L713.8,1161.7 L714.2,1159.7 L714.6,1157.7 L715.0,1155.8 L715.4,1153.8 L715.8,1151.8 L716.2,1149.9 L716.6,1147.9 L717.0,1145.9 L717.4,1144.0 L717.8,1142.0 L718.2,1140.0 L718.6,1138.1 L719.0,1136.1 L719.4,1134.1 L719.8,1132.2 L720.2,1130.2 L720.5,1128.2 L720.9,1126.3 L721.3,1124.3 L721.7,1122.3 L722.1,1120.3 L722.5,1118.4 L722.9,1116.4 L723.2,1114.4 L723.6,1112.5 L724.0,1110.5 L724.4,1108.5 L724.8,1106.6 L725.1,1104.6 L725.5,1102.6 L725.9,1100.7 L726.3,1098.7 L726.7,1096.7 L727.0,1094.7 L727.4,1092.8 L727.8,1090.8 L728.2,1088.8 L728.5,1086.9 L728.9,1084.9 L729.3,1082.9 L729.6,1080.9 L730.0,1079.0 L730.4,1077.0 L730.8,1075.0 L731.1,1073.1 L731.5,1071.1 L731.9,1069.1 L732.2,1067.1 L732.6,1065.2 L732.9,1063.2 L733.3,1061.2 L733.7,1059.2 L734.0,1057.3 L734.4,1055.3 L734.8,1053.3 L735.1,1051.3 L735.5,1049.4 L735.8,1047.4 L736.2,1045.4 L736.6,1043.5 L736.9,1041.5 L737.3,1039.5 L737.6,1037.5 L738.0,1035.6 L738.3,1033.6 L738.7,1031.6 L739.1,1029.6 L739.4,1027.7 L739.8,1025.7 L740.1,1023.7 L740.5,1021.7 L740.8,1019.8 L741.2,1017.8 L741.5,1015.8 L741.9,1013.8 L742.2,1011.9 L742.6,1009.9 L742.9,1007.9 L743.3,1005.9 L743.6,1003.9 L744.0,1002.0 L744.3,1000.0 L744.7,998.0 L745.0,996.0 L745.4,994.1 L745.7,992.1 L746.0,990.1 L746.4,988.1 L746.7,986.2 L747.1,984.2 L747.4,982.2 L747.8,980.2 L748.1,978.3 L748.4,976.3 L748.8,974.3 L749.1,972.3 L749.5,970.3 L749.8,968.4 L750.1,966.4 L750.5,964.4 L750.8,962.4 L751.2,960.5 L751.5,958.5 L751.8,956.5 L752.2,954.5 L752.5,952.5 L752.8,950.6 L753.2,948.6 L753.5,946.6 L753.8,944.6 L754.2,942.7 L754.5,940.7 L754.9,938.7 L755.2,936.7 L755.5,934.7 L755.9,932.8 L756.2,930.8 L756.5,928.8 L756.8,926.8 L757.2,924.9 L757.5,922.9 L757.8,920.9 L758.2,918.9 L758.5,916.9 L758.8,915.0 L759.2,913.0 L759.5,911.0 L759.8,909.0 L760.2,907.0 L760.5,905.1 L760.8,903.1 L761.1,901.1 L761.5,899.1 L761.8,897.2 L762.1,895.2 L762.5,893.2 L762.8,891.2 L763.1,889.2 L763.4,887.3 L763.8,885.3 L764.1,883.3 L764.4,881.3 L764.7,879.3 L765.1,877.4 L765.4,875.4 L765.7,873.4 L766.1,871.4 L766.4,869.5 L766.7,867.5 L767.0,865.5 L767.4,863.5 L767.7,861.5 L768.0,859.6 L768.3,857.6 L768.6,855.6 L769.0,853.6 L769.3,851.6 L769.6,849.7 L769.9,847.7 L770.3,845.7 L770.6,843.7 L770.9,841.8 L771.2,839.8 L771.6,837.8 L771.9,835.8 L772.2,833.8 L772.5,831.9 L772.8,829.9 L773.2,827.9 L773.5,825.9 L773.8,823.9 L774.1,822.0 L774.5,820.0 L774.8,818.0 L775.1,816.0 L775.4,814.0 L775.7,812.1 L776.1,810.1 L776.4,808.1 L776.7,806.1 L777.0,804.2 L777.3,802.2 L777.7,800.2 L778.0,798.2 L778.3,796.2 L778.6,794.3 L778.9,792.3 L779.3,790.3 L779.6,788.3 L779.9,786.3 L780.2,784.4 L780.5,782.4 L780.9,780.4 L781.2,778.4 L781.5,776.5 L781.8,774.5 L782.1,772.5 L782.5,770.5 L782.8,768.5 L783.1,766.6 L783.4,764.6 L783.7,762.6 L784.0,760.6 L784.4,758.6 L784.7,756.7 L785.0,754.7 L785.3,752.7 L785.6,750.7 L786.0,748.7 L786.3,746.8 L786.6,744.8 L786.9,742.8 L787.2,740.8 L787.6,738.9 L787.9,736.9 L788.2,734.9 L788.5,732.9 L788.8,730.9 L789.1,729.0 L789.5,727.0 L789.8,725.0 L790.1,723.0 L790.4,721.0 L790.7,719.1 L791.1,717.1 L791.4,715.1 L791.7,713.1 L792.0,711.2 L792.3,709.2 L792.6,707.2 L793.0,705.2 L793.3,703.2 L793.6,701.3 L793.9,699.3 L794.2,697.3 L794.6,695.3 L794.9,693.3 L795.2,691.4 L795.5,689.4 L795.8,687.4 L796.1,685.4 L796.5,683.5 L796.8,681.5 L797.1,679.5 L797.4,677.5 L797.7,675.5 L798.1,673.6 L798.4,671.6 L798.7,669.6 L799.0,667.6 L799.3,665.6 L799.7,663.7 L800.0,661.7 L800.3,659.7 L800.6,657.7 L800.9,655.8 L801.3,653.8 L801.6,651.8 L801.9,649.8 L802.2,647.8 L802.5,645.9 L802.9,643.9 L803.2,641.9 L803.5,639.9 L803.8,637.9 L804.1,636.0 L804.5,634.0 L804.8,632.0 L805.1,630.0 L805.4,628.1 L805.7,626.1 L806.1,624.1 L806.4,622.1 L806.7,620.1 L807.0,618.2 L807.3,616.2 L807.7,614.2 L808.0,612.2 L808.3,610.3 L808.6,608.3 L809.0,606.3 L809.3,604.3 L809.6,602.3 L809.9,600.4 L810.3,598.4 L810.6,596.4 L810.9,594.4 L811.2,592.4 L811.5,590.5 L811.9,588.5 L812.2,586.5 L812.5,584.5 L812.8,582.6 L813.2,580.6 L813.5,578.6 L813.8,576.6 L814.1,574.6 L814.5,572.7 L814.8,570.7 L815.1,568.7 L815.5,566.7 L815.8,564.8 L816.1,562.8 L816.4,560.8 L816.8,558.8 L817.1,556.8 L817.4,554.9 L817.7,552.9 L818.1,550.9 L818.4,548.9 L818.7,547.0 L819.1,545.0 L819.4,543.0 L819.7,541.0 L820.1,539.1 L820.4,537.1 L820.7,535.1 L821.1,533.1 L821.4,531.1 L821.7,529.2 L822.1,527.2 L822.4,525.2 L822.8,523.2 L823.1,521.3 L823.4,519.3 L823.8,517.3 L824.1,515.3 L824.5,513.4 L824.8,511.4 L825.1,509.4 L825.5,507.4 L825.8,505.5 L826.2,503.5 L826.5,501.5 L826.9,499.5 L827.2,497.6 L827.6,495.6 L827.9,493.6 L828.3,491.7 L828.6,489.7 L829.0,487.7 L829.3,485.7 L829.7,483.8 L830.0,481.8 L830.4,479.8 L830.8,477.8 L831.1,475.9 L831.5,473.9 L831.8,471.9 L832.2,470.0 L832.6,468.0 L832.9,466.0 L833.3,464.1 L833.7,462.1 L834.0,460.1 L834.4,458.1 L834.8,456.2 L835.2,454.2 L835.5,452.2 L835.9,450.3 L836.3,448.3 L836.7,446.3 L837.1,444.4 L837.4,442.4 L837.8,440.4 L838.2,438.5 L838.6,436.5 L839.0,434.5 L839.4,432.6 L839.8,430.6 L840.2,428.7 L840.6,426.7 L840.9,424.7 L841.3,422.8 L841.7,420.8 L842.1,418.8 L842.5,416.9 L843.0,414.9 L843.4,413.0 L843.8,411.0 L844.2,409.0 L844.6,407.1 L845.0,405.1 L845.4,403.1 L845.8,401.2 L846.3,399.2 L846.7,397.3 L847.1,395.3 L847.5,393.4 L848.0,391.4 L848.4,389.4 L848.8,387.5 L849.2,385.5 L849.7,383.6 L850.1,381.6 L850.6,379.7 L851.0,377.7 L851.4,375.8 L851.9,373.8 L852.3,371.9 L852.8,369.9 L853.2,368.0 L853.7,366.0 L854.2,364.1 L854.6,362.1 L855.1,360.2 L855.5,358.2 L856.0,356.3 L856.5,354.3 L856.9,352.4 L857.4,350.4 L857.9,348.5 L858.4,346.5 L858.8,344.6 L859.3,342.6 L859.8,340.7 L860.3,338.7 L860.8,336.8 L861.3,334.9 L861.8,332.9 L862.3,331.0 L862.8,329.0 L863.3,327.1 L863.8,325.2 L864.3,323.2 L864.8,321.3 L865.3,319.3 L865.8,317.4 L866.3,315.5 L866.8,313.5 L867.4,311.6 L867.9,309.7 L868.4,307.7 L869.0,305.8 L869.5,303.9 L870.0,301.9 L870.6,300.0 L871.3,298.1 L872.1,296.1 L872.9,294.2 L873.7,292.3 L874.5,290.4 L875.4,288.5 L876.3,286.6 L877.2,284.8 L878.2,282.9 L879.2,281.1 L880.3,279.3 L881.4,277.6 L882.5,275.9 L883.8,274.2 L885.1,272.5 L886.4,270.9 L887.9,269.5 L889.5,268.3 L891.4,267.2 L893.3,266.2 L895.3,265.2 L897.3,264.5 L899.3,264.1 L901.2,264.1 L903.1,264.7 L904.9,265.8 L906.7,267.2 L908.3,268.6 L909.7,270.1 L911.0,271.8 L912.1,273.6 L913.2,275.3 L914.2,277.1 L915.2,279.0 L916.1,280.8 L917.0,282.7 L917.9,284.6 L918.8,286.5 L919.6,288.4 L920.4,290.3 L921.2,292.2 L921.9,294.2 L922.6,296.1 L923.4,298.0 L924.1,300.0 L924.1,300.0 L924.6,301.9 L925.1,303.9 L925.6,305.8 L926.1,307.7 L926.6,309.7 L927.1,311.6 L927.6,313.6 L928.1,315.5 L928.6,317.4 L929.0,319.4 L929.5,321.3 L930.0,323.3 L930.5,325.2 L931.0,327.1 L931.5,329.1 L931.9,331.0 L932.4,333.0 L932.9,334.9 L933.4,336.8 L933.8,338.8 L934.3,340.7 L934.8,342.7 L935.3,344.6 L935.7,346.6 L936.2,348.5 L936.7,350.4 L937.1,352.4 L937.6,354.3 L938.0,356.3 L938.5,358.2 L939.0,360.2 L939.4,362.1 L939.9,364.1 L940.3,366.0 L940.8,368.0 L941.2,369.9 L941.7,371.9 L942.1,373.8 L942.6,375.8 L943.0,377.7 L943.4,379.7 L943.9,381.6 L944.3,383.6 L944.8,385.5 L945.2,387.5 L945.6,389.4 L946.1,391.4 L946.5,393.3 L946.9,395.3 L947.4,397.2 L947.8,399.2 L948.2,401.2 L948.6,403.1 L949.1,405.1 L949.5,407.0 L949.9,409.0 L950.3,410.9 L950.7,412.9 L951.2,414.8 L951.6,416.8 L952.0,418.8 L952.4,420.7 L952.8,422.7 L953.2,424.6 L953.6,426.6 L954.1,428.5 L954.5,430.5 L954.9,432.5 L955.3,434.4 L955.7,436.4 L956.1,438.3 L956.5,440.3 L956.9,442.3 L957.3,444.2 L957.7,446.2 L958.1,448.1 L958.5,450.1 L958.9,452.1 L959.3,454.0 L959.6,456.0 L960.0,458.0 L960.4,459.9 L960.8,461.9 L961.2,463.9 L961.6,465.8 L962.0,467.8 L962.4,469.7 L962.7,471.7 L963.1,473.7 L963.5,475.6 L963.9,477.6 L964.3,479.6 L964.6,481.5 L965.0,483.5 L965.4,485.5 L965.8,487.4 L966.1,489.4 L966.5,491.4 L966.9,493.3 L967.3,495.3 L967.6,497.3 L968.0,499.3 L968.4,501.2 L968.7,503.2 L969.1,505.2 L969.5,507.1 L969.8,509.1 L970.2,511.1 L970.6,513.0 L970.9,515.0 L971.3,517.0 L971.6,519.0 L972.0,520.9 L972.3,522.9 L972.7,524.9 L973.1,526.8 L973.4,528.8 L973.8,530.8 L974.1,532.8 L974.5,534.7 L974.8,536.7 L975.2,538.7 L975.5,540.7 L975.9,542.6 L976.2,544.6 L976.6,546.6 L976.9,548.5 L977.3,550.5 L977.6,552.5 L977.9,554.5 L978.3,556.4 L978.6,558.4 L979.0,560.4 L979.3,562.4 L979.6,564.3 L980.0,566.3 L980.3,568.3 L980.7,570.3 L981.0,572.3 L981.3,574.2 L981.7,576.2 L982.0,578.2 L982.3,580.2 L982.7,582.1 L983.0,584.1 L983.3,586.1 L983.7,588.1 L984.0,590.1 L984.3,592.0 L984.6,594.0 L985.0,596.0 L985.3,598.0 L985.6,599.9 L986.0,601.9 L986.3,603.9 L986.6,605.9 L986.9,607.9 L987.3,609.8 L987.6,611.8 L987.9,613.8 L988.2,615.8 L988.5,617.8 L988.9,619.7 L989.2,621.7 L989.5,623.7 L989.8,625.7 L990.1,627.7 L990.5,629.7 L990.8,631.6 L991.1,633.6 L991.4,635.6 L991.7,637.6 L992.0,639.6 L992.3,641.5 L992.7,643.5 L993.0,645.5 L993.3,647.5 L993.6,649.5 L993.9,651.5 L994.2,653.4 L994.5,655.4 L994.8,657.4 L995.1,659.4 L995.5,661.4 L995.8,663.4 L996.1,665.3 L996.4,667.3 L996.7,669.3 L997.0,671.3 L997.3,673.3 L997.6,675.3 L997.9,677.2 L998.2,679.2 L998.5,681.2 L998.8,683.2 L999.1,685.2 L999.4,687.2 L999.7,689.1 L1000.0,691.1 L1000.4,693.1 L1000.7,695.1 L1001.0,697.1 L1001.3,699.1 L1001.6,701.1 L1001.9,703.0 L1002.2,705.0 L1002.5,707.0 L1002.8,709.0 L1003.1,711.0 L1003.4,713.0 L1003.7,715.0 L1004.0,716.9 L1004.3,718.9 L1004.6,720.9 L1004.9,722.9 L1005.2,724.9 L1005.5,726.9 L1005.8,728.9 L1006.1,730.8 L1006.3,732.8 L1006.6,734.8 L1006.9,736.8 L1007.2,738.8 L1007.5,740.8 L1007.8,742.8 L1008.1,744.7 L1008.4,746.7 L1008.7,748.7 L1009.0,750.7 L1009.3,752.7 L1009.6,754.7 L1009.9,756.7 L1010.2,758.7 L1010.5,760.6 L1010.8,762.6 L1011.1,764.6 L1011.4,766.6 L1011.7,768.6 L1012.0,770.6 L1012.3,772.6 L1012.6,774.5 L1012.9,776.5 L1013.2,778.5 L1013.4,780.5 L1013.7,782.5 L1014.0,784.5 L1014.3,786.5 L1014.6,788.5 L1014.9,790.4 L1015.2,792.4 L1015.5,794.4 L1015.8,796.4 L1016.1,798.4 L1016.4,800.4 L1016.7,802.4 L1017.0,804.4 L1017.3,806.3 L1017.6,808.3 L1017.9,810.3 L1018.2,812.3 L1018.5,814.3 L1018.7,816.3 L1019.0,818.3 L1019.3,820.2 L1019.6,822.2 L1019.9,824.2 L1020.2,826.2 L1020.5,828.2 L1020.8,830.2 L1021.1,832.2 L1021.4,834.2 L1021.7,836.1 L1022.0,838.1 L1022.3,840.1 L1022.6,842.1 L1022.9,844.1 L1023.2,846.1 L1023.5,848.1 L1023.8,850.0 L1024.1,852.0 L1024.4,854.0 L1024.7,856.0 L1025.0,858.0 L1025.3,860.0 L1025.6,862.0 L1025.9,863.9 L1026.2,865.9 L1026.5,867.9 L1026.8,869.9 L1027.1,871.9 L1027.4,873.9 L1027.7,875.9 L1028.0,877.8 L1028.3,879.8 L1028.6,881.8 L1028.9,883.8 L1029.2,885.8 L1029.5,887.8 L1029.8,889.8 L1030.1,891.7 L1030.4,893.7 L1030.7,895.7 L1031.0,897.7 L1031.3,899.7 L1031.6,901.7 L1031.9,903.6 L1032.2,905.6 L1032.5,907.6 L1032.8,909.6 L1033.1,911.6 L1033.4,913.6 L1033.7,915.5 L1034.0,917.5 L1034.4,919.5 L1034.7,921.5 L1035.0,923.5 L1035.3,925.5 L1035.6,927.4 L1035.9,929.4 L1036.2,931.4 L1036.5,933.4 L1036.8,935.4 L1037.1,937.4 L1037.5,939.3 L1037.8,941.3 L1038.1,943.3 L1038.4,945.3 L1038.7,947.3 L1039.0,949.2 L1039.3,951.2 L1039.7,953.2 L1040.0,955.2 L1040.3,957.2 L1040.6,959.2 L1040.9,961.1 L1041.3,963.1 L1041.6,965.1 L1041.9,967.1 L1042.2,969.1 L1042.5,971.0 L1042.9,973.0 L1043.2,975.0 L1043.5,977.0 L1043.8,979.0 L1044.1,980.9 L1044.5,982.9 L1044.8,984.9 L1045.1,986.9 L1045.5,988.8 L1045.8,990.8 L1046.1,992.8 L1046.4,994.8 L1046.8,996.8 L1047.1,998.7 L1047.4,1000.7 L1047.8,1002.7 L1048.1,1004.7 L1048.4,1006.6 L1048.8,1008.6 L1049.1,1010.6 L1049.4,1012.6 L1049.8,1014.6 L1050.1,1016.5 L1050.4,1018.5 L1050.8,1020.5 L1051.1,1022.5 L1051.5,1024.4 L1051.8,1026.4 L1052.1,1028.4 L1052.5,1030.4 L1052.8,1032.3 L1053.2,1034.3 L1053.5,1036.3 L1053.9,1038.3 L1054.2,1040.2 L1054.6,1042.2 L1054.9,1044.2 L1055.3,1046.1 L1055.6,1048.1 L1056.0,1050.1 L1056.3,1052.1 L1056.7,1054.0 L1057.0,1056.0 L1057.4,1058.0 L1057.7,1060.0 L1058.1,1061.9 L1058.4,1063.9 L1058.8,1065.9 L1059.2,1067.8 L1059.5,1069.8 L1059.9,1071.8 L1060.2,1073.7 L1060.6,1075.7 L1061.0,1077.7 L1061.3,1079.7 L1061.7,1081.6 L1062.1,1083.6 L1062.4,1085.6 L1062.8,1087.5 L1063.2,1089.5 L1063.5,1091.5 L1063.9,1093.4 L1064.3,1095.4 L1064.7,1097.4 L1065.0,1099.3 L1065.4,1101.3 L1065.8,1103.3 L1066.2,1105.2 L1066.5,1107.2 L1066.9,1109.2 L1067.3,1111.1 L1067.7,1113.1 L1068.1,1115.1 L1068.5,1117.0 L1068.8,1119.0 L1069.2,1120.9 L1069.6,1122.9 L1070.0,1124.9 L1070.4,1126.8 L1070.8,1128.8 L1071.2,1130.8 L1071.6,1132.7 L1072.0,1134.7 L1072.4,1136.6 L1072.8,1138.6 L1073.2,1140.6 L1073.6,1142.5 L1074.0,1144.5 L1074.4,1146.4 L1074.8,1148.4 L1075.2,1150.4 L1075.6,1152.3 L1076.0,1154.3 L1076.4,1156.2 L1076.8,1158.2 L1077.2,1160.2 L1077.6,1162.1 L1078.0,1164.1 L1078.4,1166.0 L1078.9,1168.0 L1079.3,1169.9 L1079.7,1171.9 L1080.1,1173.8 L1080.5,1175.8 L1081.0,1177.8 L1081.4,1179.7 L1081.8,1181.7 L1082.2,1183.6 L1082.7,1185.6 L1083.1,1187.5 L1083.5,1189.5 L1083.9,1191.4 L1084.4,1193.4 L1084.8,1195.3 L1085.2,1197.3 L1085.7,1199.2 L1086.1,1201.2 L1086.6,1203.1 L1087.0,1205.1 L1087.4,1207.0 L1087.9,1209.0 L1088.3,1210.9 L1088.8,1212.9 L1089.2,1214.8 L1089.7,1216.8 L1090.1,1218.7 L1090.6,1220.7 L1091.0,1222.6 L1091.5,1224.6 L1091.9,1226.5 L1092.4,1228.5 L1092.9,1230.4 L1093.3,1232.4 L1093.8,1234.3 L1094.2,1236.2 L1094.7,1238.2 L1095.2,1240.1 L1095.7,1242.1 L1096.1,1244.0 L1096.6,1246.0 L1097.1,1247.9 L1097.5,1249.8 L1098.0,1251.8 L1098.5,1253.7 L1099.0,1255.7 L1099.5,1257.6 L1099.9,1259.5 L1100.4,1261.5 L1100.9,1263.4 L1101.4,1265.4 L1101.9,1267.3 L1102.4,1269.2 L1102.9,1271.2 L1103.4,1273.1 L1103.9,1275.0 L1104.4,1277.0 L1104.9,1278.9 L1105.4,1280.9 L1105.9,1282.8 L1106.4,1284.7 L1106.9,1286.7 L1107.4,1288.6 L1107.9,1290.5 L1108.4,1292.5 L1108.9,1294.4 L1109.4,1296.3 L1109.9,1298.2 L1110.5,1300.2 L1111.0,1302.1 L1111.5,1304.0 L1112.0,1306.0 L1112.5,1307.9 L1113.1,1309.8 L1113.6,1311.8 L1114.1,1313.7 L1114.7,1315.6 L1115.2,1317.5 L1115.7,1319.5 L1116.3,1321.4 L1116.8,1323.3 L1117.3,1325.2 L1117.9,1327.2 L1118.4,1329.1 L1119.0,1331.0 L1119.5,1332.9 L1120.1,1334.9 L1120.6,1336.8 L1121.2,1338.7 L1121.7,1340.6 L1122.3,1342.5 L1122.9,1344.5 L1123.4,1346.4 L1124.0,1348.3 L1124.5,1350.2 L1125.1,1352.1 L1125.7,1354.1 L1126.3,1356.0 L1126.8,1357.9 L1127.4,1359.8 L1128.0,1361.7 L1128.6,1363.6 L1129.1,1365.6 L1129.7,1367.5 L1130.3,1369.4 L1130.9,1371.3 L1131.5,1373.2 L1132.1,1375.1 L1132.7,1377.0 L1133.3,1378.9 L1133.8,1380.9 L1134.4,1382.8 L1135.0,1384.7 L1135.6,1386.6 L1136.3,1388.5 L1136.9,1390.4 L1137.5,1392.3 L1138.1,1394.2 L1138.7,1396.1 L1139.3,1398.0 L1139.9,1399.9 L1140.5,1401.8 L1141.2,1403.8 L1141.8,1405.7 L1142.4,1407.6 L1143.0,1409.5 L1143.7,1411.4 L1144.3,1413.3 L1144.9,1415.2 L1145.6,1417.1 L1146.2,1419.0 L1146.8,1420.9 L1147.5,1422.8 L1148.1,1424.7 L1148.8,1426.6 L1149.4,1428.5 L1150.1,1430.4 L1150.7,1432.3 L1151.4,1434.2 L1152.0,1436.1 L1152.7,1437.9 L1153.4,1439.8 L1154.0,1441.7 L1154.7,1443.6 L1155.4,1445.5 L1156.0,1447.4 L1156.7,1449.3 L1157.4,1451.2 L1158.1,1453.1 L1158.7,1455.0 L1159.4,1456.9 L1160.1,1458.8 L1160.8,1460.6 L1161.5,1462.5 L1162.2,1464.4 L1162.9,1466.3 L1163.6,1468.2 L1164.3,1470.1 L1165.0,1472.0 L1165.7,1473.9 L1166.4,1475.7 L1167.1,1477.6 L1167.8,1479.5 L1168.5,1481.4 L1169.2,1483.3 L1169.9,1485.1 L1170.7,1487.0 L1171.4,1488.9 L1172.1,1490.8 L1172.8,1492.7 L1173.6,1494.5 L1174.3,1496.4 L1175.0,1498.3 L1175.8,1500.2 L1176.5,1502.0 L1177.3,1503.9 L1178.0,1505.8 L1178.7,1507.7 L1179.5,1509.5 L1180.2,1511.4 L1181.0,1513.3 L1181.8,1515.2 L1182.5,1517.0 L1183.3,1518.9 L1184.0,1520.8 L1184.8,1522.6 L1185.6,1524.5 L1186.3,1526.4 L1187.1,1528.2 L1187.9,1530.1 L1188.4,1532.2 L1189.0,1534.3 L1189.7,1536.2 L1190.5,1538.1 L1191.4,1539.9 L1192.4,1541.7 L1193.5,1543.3 L1194.5,1544.9 L1195.7,1546.5 L1197.2,1548.1 L1198.7,1549.6 L1200.4,1550.8 L1202.1,1551.5 L1204.0,1552.1 L1206.0,1552.6 L1208.1,1552.9 L1210.2,1553.1 L1212.1,1553.0 L1214.1,1552.7 L1216.0,1552.1 L1218.0,1551.3 L1219.9,1550.5 L1221.8,1549.7 L1223.7,1548.9 L1225.5,1547.9 L1227.3,1546.7 L1229.0,1545.4 L1230.7,1544.1 L1232.5,1543.0 L1234.3,1542.3 L1236.1,1542.0 L1238.0,1542.2 L1240.1,1542.6 L1242.1,1543.3 L1244.1,1544.1 L1245.9,1544.9 L1247.4,1546.0 L1248.8,1547.5 L1250.2,1549.1 L1251.6,1550.5 L1253.0,1552.0 L1254.4,1553.5 L1255.8,1555.0 L1257.2,1556.5 L1258.6,1557.9 L1260.1,1559.3 L1261.6,1560.7 L1263.2,1562.0 L1264.7,1563.4 L1266.4,1564.9 L1268.0,1566.2 L1269.7,1567.2 L1271.5,1567.9 L1273.3,1568.2 L1275.3,1568.5 L1277.2,1568.7 L1279.3,1569.0 L1281.3,1569.1 L1283.4,1569.3 L1285.5,1569.4 L1287.6,1569.5 L1289.6,1569.5 L1291.7,1569.5 L1293.7,1569.5 L1295.7,1569.5 L1297.8,1569.5 L1299.8,1569.5 L1301.8,1569.5 L1303.8,1569.5 L1305.9,1569.5 L1307.9,1569.5 L1309.9,1569.5 L1312.0,1569.5 L1314.0,1569.5" fill="none" stroke="#f00" stroke-width="20.0" stroke-linejoin="round" stroke-linecap="butt"/>
<path d="M316.0,1561.5 L318.0,1561.5 L320.1,1561.5 L322.1,1561.5 L324.1,1561.5 L326.1,1561.5 L328.2,1561.5 L330.2,1561.5 L332.2,1561.5 L334.2,1561.5 L336.3,1561.5 L338.3,1561.5 L340.3,1561.5 L342.3,1561.5 L344.4,1561.5 L346.4,1561.5 L348.4,1561.5 L350.4,1561.5 L352.5,1561.5 L354.5,1561.5 L356.5,1561.5 L358.6,1561.5 L360.6,1561.5 L362.6,1561.5 L364.6,1561.5 L366.7,1561.5 L368.7,1561.5 L370.7,1561.5 L372.7,1561.5 L374.8,1561.5 L376.8,1561.5 L378.8,1561.5 L380.8,1561.5 L382.9,1561.5 L384.9,1561.5 L386.9,1561.5 L389.0,1561.5 L391.0,1561.5 L393.0,1561.5 L395.0,1561.5 L397.1,1561.5 L399.1,1561.5 L401.1,1561.5 L403.1,1561.5 L405.2,1561.5 L407.2,1561.5 L409.3,1561.5 L411.3,1561.5 L413.4,1561.5 L415.4,1561.5 L417.4,1561.5 L419.5,1561.5 L421.5,1561.5 L423.6,1561.5 L425.6,1561.5 L427.7,1561.5 L429.7,1561.5 L431.7,1561.5 L433.7,1561.5 L435.7,1561.5 L437.7,1561.5 L439.7,1561.5 L441.7,1561.5 L443.7,1561.5 L445.7,1561.5 L447.6,1561.3 L449.6,1560.9 L451.6,1560.4 L453.5,1559.7 L455.5,1559.0 L457.4,1558.1 L459.3,1557.2 L461.1,1556.4 L463.0,1555.5 L464.8,1554.6 L466.5,1553.7 L468.3,1552.7 L470.0,1551.6 L471.7,1550.5 L473.3,1549.3 L475.0,1548.1 L476.6,1546.9 L478.3,1545.7 L480.0,1544.5 L481.7,1543.4 L483.4,1542.3 L485.1,1541.1 L486.8,1540.0 L488.5,1538.9 L490.2,1537.8 L491.9,1536.7 L493.5,1535.5 L495.2,1534.4 L496.9,1533.2 L498.5,1532.1 L500.2,1530.9 L501.8,1529.6 L503.4,1528.4 L504.9,1527.2 L506.5,1525.9 L508.0,1524.6 L509.5,1523.2 L510.9,1521.8 L512.4,1520.4 L513.8,1519.0 L515.3,1517.5 L516.7,1516.1 L518.1,1514.6 L519.5,1513.1 L520.9,1511.6 L522.3,1510.2 L523.7,1508.7 L525.1,1507.2 L526.5,1505.7 L527.9,1504.3 L529.3,1502.8 L530.7,1501.4 L532.2,1499.9 L533.6,1498.5 L535.1,1497.1 L536.5,1495.7 L538.0,1494.3 L539.4,1492.8 L540.8,1491.4 L542.3,1490.0 L543.7,1488.6 L545.2,1487.1 L546.6,1485.7 L548.0,1484.2 L549.4,1482.8 L550.8,1481.3 L552.2,1479.9 L553.6,1478.4 L554.9,1476.9 L556.3,1475.4 L557.7,1473.9 L559.0,1472.4 L560.4,1470.9 L561.7,1469.4 L563.1,1467.9 L564.4,1466.3 L565.7,1464.8 L567.1,1463.3 L568.4,1461.7 L569.7,1460.2 L571.0,1458.6 L572.3,1457.1 L573.6,1455.5 L574.7,1453.8 L575.9,1452.2 L577.0,1450.5 L578.1,1448.8 L579.2,1447.1 L580.3,1445.4 L581.4,1443.7 L582.5,1442.0 L583.6,1440.3 L584.7,1438.6 L585.8,1436.9 L586.9,1435.2 L587.9,1433.5 L589.0,1431.8 L590.1,1430.1 L591.1,1428.4 L592.2,1426.7 L593.2,1425.0 L594.3,1423.3 L595.3,1421.5 L596.4,1419.8 L597.4,1418.1 L598.4,1416.4 L599.5,1414.6 L600.5,1412.9 L601.5,1411.2 L602.5,1409.4 L603.5,1407.7 L604.5,1406.0 L605.5,1404.2 L606.5,1402.5 L607.5,1400.7 L608.5,1399.0 L609.4,1397.2 L610.4,1395.5 L611.4,1393.7 L612.3,1392.0 L613.3,1390.2 L614.3,1388.5 L615.2,1386.7 L616.2,1384.9 L617.1,1383.2 L618.1,1381.4 L619.0,1379.6 L619.9,1377.9 L620.8,1376.1 L621.8,1374.3 L622.7,1372.5 L623.6,1370.8 L624.5,1369.0 L625.4,1367.2 L626.3,1365.4 L627.2,1363.6 L628.1,1361.8 L629.0,1360.0 L629.9,1358.2 L630.8,1356.4 L631.7,1354.7 L632.5,1352.9 L633.4,1351.1 L634.3,1349.3 L635.1,1347.4 L636.0,1345.6 L636.8,1343.8 L637.7,1342.0 L638.5,1340.2 L639.4,1338.4 L640.2,1336.6 L641.1,1334.8 L641.9,1333.0 L642.7,1331.1 L643.5,1329.3 L644.4,1327.5 L645.2,1325.7 L646.0,1323.9 L646.8,1322.0 L647.6,1320.2 L648.4,1318.4 L649.2,1316.5 L650.0,1314.7 L650.8,1312.9 L651.6,1311.0 L652.4,1309.2 L653.2,1307.4 L653.9,1305.5 L654.7,1303.7 L655.5,1301.8 L656.2,1300.0 L657.0,1298.1 L657.8,1296.3 L658.5,1294.4 L659.3,1292.6 L660.0,1290.7 L660.8,1288.9 L661.5,1287.0 L662.2,1285.2 L663.0,1283.3 L663.7,1281.5 L664.4,1279.6 L665.2,1277.7 L665.9,1275.9 L666.6,1274.0 L667.3,1272.1 L668.0,1270.3 L668.8,1268.4 L669.5,1266.5 L670.2,1264.7 L670.9,1262.8 L671.6,1260.9 L672.3,1259.0 L672.9,1257.2 L673.6,1255.3 L674.3,1253.4 L675.0,1251.5 L675.7,1249.6 L676.4,1247.8 L677.0,1245.9 L677.7,1244.0 L678.4,1242.1 L679.0,1240.2 L679.7,1238.3 L680.3,1236.4 L681.0,1234.6 L681.7,1232.7 L682.3,1230.8 L682.9,1228.9 L683.6,1227.0 L684.2,1225.1 L684.9,1223.2 L685.5,1221.3 L686.1,1219.4 L686.8,1217.5 L687.4,1215.6 L688.0,1213.7 L688.6,1211.8 L689.3,1209.9 L689.9,1208.0 L690.5,1206.1 L691.1,1204.2 L691.7,1202.3 L692.3,1200.4 L692.9,1198.5 L693.5,1196.5 L694.1,1194.6 L694.7,1192.7 L695.3,1190.8 L695.9,1188.9 L696.5,1187.0 L697.1,1185.1 L697.6,1183.2 L698.2,1181.2 L698.8,1179.3 L699.4,1177.4 L699.9,1175.5 L700.5,1173.6 L701.1,1171.6 L701.7,1169.7 L702.2,1167.8 L702.8,1165.9 L703.3,1164.0 L703.9,1162.0 L704.4,1160.1 L705.0,1158.2 L705.5,1156.3 L706.1,1154.3 L706.6,1152.4 L707.2,1150.5 L707.7,1148.5 L708.3,1146.6 L708.8,1144.7 L709.3,1142.8 L709.9,1140.8 L710.4,1138.9 L710.9,1137.0 L711.4,1135.0 L712.0,1133.1 L712.5,1131.2 L713.0,1129.2 L713.5,1127.3 L714.0,1125.3 L714.5,1123.4 L715.1,1121.5 L715.6,1119.5 L716.1,1117.6 L716.6,1115.7 L717.1,1113.7 L717.6,1111.8 L718.1,1109.8 L718.6,1107.9 L719.1,1105.9 L719.6,1104.0 L720.0,1102.1 L720.5,1100.1 L721.0,1098.2 L721.5,1096.2 L722.0,1094.3 L722.5,1092.3 L722.9,1090.4 L723.4,1088.4 L723.9,1086.5 L724.4,1084.5 L724.8,1082.6 L725.3,1080.6 L725.8,1078.7 L726.2,1076.7 L726.7,1074.8 L727.2,1072.8 L727.6,1070.9 L728.1,1068.9 L728.5,1067.0 L729.0,1065.0 L729.4,1063.0 L729.9,1061.1 L730.3,1059.1 L730.8,1057.2 L731.2,1055.2 L731.7,1053.3 L732.1,1051.3 L732.6,1049.3 L733.0,1047.4 L733.5,1045.4 L733.9,1043.5 L734.3,1041.5 L734.8,1039.5 L735.2,1037.6 L735.6,1035.6 L736.0,1033.7 L736.5,1031.7 L736.9,1029.7 L737.3,1027.8 L737.8,1025.8 L738.2,1023.8 L738.6,1021.9 L739.0,1019.9 L739.4,1017.9 L739.8,1016.0 L740.3,1014.0 L740.7,1012.0 L741.1,1010.1 L741.5,1008.1 L741.9,1006.1 L742.3,1004.2 L742.7,1002.2 L743.1,1000.2 L743.5,998.3 L743.9,996.3 L744.3,994.3 L744.7,992.4 L745.1,990.4 L745.5,988.4 L745.9,986.4 L746.3,984.5 L746.7,982.5 L747.1,980.5 L747.5,978.6 L747.9,976.6 L748.3,974.6 L748.7,972.6 L749.1,970.7 L749.4,968.7 L749.8,966.7 L750.2,964.7 L750.6,962.8 L751.0,960.8 L751.3,958.8 L751.7,956.8 L752.1,954.9 L752.5,952.9 L752.9,950.9 L753.2,948.9 L753.6,947.0 L754.0,945.0 L754.4,943.0 L754.7,941.0 L755.1,939.1 L755.5,937.1 L755.8,935.1 L756.2,933.1 L756.6,931.2 L756.9,929.2 L757.3,927.2 L757.7,925.2 L758.0,923.2 L758.4,921.3 L758.8,919.3 L759.1,917.3 L759.5,915.3 L759.8,913.3 L760.2,911.4 L760.5,909.4 L760.9,907.4 L761.3,905.4 L761.6,903.5 L762.0,901.5 L762.3,899.5 L762.7,897.5 L763.0,895.5 L763.4,893.6 L763.7,891.6 L764.1,889.6 L764.4,887.6 L764.8,885.6 L765.1,883.7 L765.5,881.7 L765.8,879.7 L766.2,877.7 L766.5,875.7 L766.9,873.8 L767.2,871.8 L767.6,869.8 L767.9,867.8 L768.3,865.8 L768.6,863.9 L768.9,861.9 L769.3,859.9 L769.6,857.9 L770.0,855.9 L770.3,854.0 L770.7,852.0 L771.0,850.0 L771.3,848.0 L771.7,846.0 L772.0,844.0 L772.4,842.1 L772.7,840.1 L773.1,838.1 L773.4,836.1 L773.7,834.1 L774.1,832.2 L774.4,830.2 L774.7,828.2 L775.1,826.2 L775.4,824.2 L775.8,822.3 L776.1,820.3 L776.4,818.3 L776.8,816.3 L777.1,814.3 L777.5,812.4 L777.8,810.4 L778.1,808.4 L778.5,806.4 L778.8,804.4 L779.2,802.5 L779.5,800.5 L779.8,798.5 L780.2,796.5 L780.5,794.5 L780.9,792.6 L781.2,790.6 L781.5,788.6 L781.9,786.6 L782.2,784.7 L782.5,782.7 L782.9,780.7 L783.2,778.7 L783.6,776.7 L783.9,774.8 L784.3,772.8 L784.6,770.8 L784.9,768.8 L785.3,766.9 L785.6,764.9 L786.0,762.9 L786.3,760.9 L786.6,758.9 L787.0,757.0 L787.3,755.0 L787.7,753.0 L788.0,751.0 L788.4,749.1 L788.7,747.1 L789.1,745.1 L789.4,743.1 L789.8,741.2 L790.1,739.2 L790.5,737.2 L790.8,735.2 L791.2,733.3 L791.5,731.3 L791.9,729.3 L792.2,727.3 L792.6,725.4 L792.9,723.4 L793.3,721.4 L793.6,719.4 L794.0,717.5 L794.3,715.5 L794.7,713.5 L795.0,711.5 L795.4,709.6 L795.8,707.6 L796.1,705.6 L796.5,703.6 L796.8,701.7 L797.2,699.7 L797.6,697.7 L797.9,695.8 L798.3,693.8 L798.7,691.8 L799.0,689.9 L799.4,687.9 L799.8,685.9 L800.1,683.9 L800.5,682.0 L800.9,680.0 L801.2,678.0 L801.6,676.1 L802.0,674.1 L802.4,672.1 L802.7,670.2 L803.1,668.2 L803.5,666.2 L803.9,664.3 L804.2,662.3 L804.6,660.3 L805.0,658.4 L805.4,656.4 L805.8,654.4 L806.2,652.5 L806.5,650.5 L806.9,648.5 L807.3,646.6 L807.7,644.6 L808.1,642.7 L808.5,640.7 L808.9,638.7 L809.3,636.8 L809.7,634.8 L810.1,632.8 L810.5,630.9 L810.9,628.9 L811.3,627.0 L811.7,625.0 L812.1,623.0 L812.5,621.1 L812.9,619.1 L813.3,617.2 L813.7,615.2 L814.1,613.2 L814.5,611.3 L815.0,609.3 L815.4,607.4 L815.8,605.4 L816.2,603.5 L816.6,601.5 L817.1,599.5 L817.5,597.6 L817.9,595.6 L818.3,593.7 L818.8,591.7 L819.2,589.8 L819.6,587.8 L820.1,585.9 L820.5,583.9 L820.9,582.0 L821.4,580.0 L821.8,578.1 L822.3,576.1 L822.7,574.2 L823.1,572.2 L823.6,570.3 L824.0,568.3 L824.5,566.4 L825.0,564.4 L825.4,562.5 L825.9,560.5 L826.3,558.6 L826.8,556.6 L827.2,554.7 L827.7,552.8 L828.2,550.8 L828.6,548.9 L829.1,546.9 L829.6,545.0 L830.1,543.0 L830.5,541.1 L831.0,539.2 L831.5,537.2 L832.0,535.3 L832.5,533.3 L833.0,531.4 L833.4,529.5 L833.9,527.5 L834.4,525.6 L834.9,523.6 L835.4,521.7 L835.9,519.8 L836.4,517.8 L836.9,515.9 L837.4,514.0 L838.0,512.0 L838.5,510.1 L839.0,508.2 L839.5,506.2 L840.0,504.3 L840.5,502.4 L841.1,500.4 L841.6,498.5 L842.1,496.6 L842.6,494.7 L843.2,492.7 L843.7,490.8 L844.2,488.9 L844.8,486.9 L845.3,485.0 L845.9,483.1 L846.4,481.2 L847.0,479.2 L847.5,477.3 L848.1,475.4 L848.6,473.5 L849.2,471.6 L849.7,469.6 L850.3,467.7 L850.9,465.8 L851.4,463.9 L852.0,462.0 L852.6,460.0 L853.2,458.1 L853.8,456.2 L854.3,454.3 L854.9,452.4 L855.5,450.5 L856.1,448.5 L856.7,446.6 L857.3,444.7 L857.9,442.8 L858.5,440.9 L859.1,439.0 L859.7,437.1 L860.3,435.2 L860.9,433.2 L861.6,431.3 L862.2,429.4 L862.8,427.5 L863.4,425.6 L864.0,423.7 L864.7,421.8 L865.3,419.9 L865.9,418.0 L866.6,416.1 L867.2,414.2 L867.9,412.3 L868.5,410.4 L869.2,408.5 L869.8,406.6 L870.5,404.7 L871.2,402.8 L871.8,400.9 L872.5,399.0 L873.2,397.1 L873.8,395.2 L874.5,393.3 L875.2,391.4 L875.9,389.5 L876.6,387.6 L877.3,385.7 L877.9,383.9 L878.6,382.0 L879.3,380.1 L880.0,378.2 L880.7,376.3 L881.5,374.4 L882.2,372.5 L882.9,370.6 L883.6,368.8 L884.3,366.9 L885.1,365.0 L885.9,363.1 L886.8,361.3 L887.8,359.4 L888.7,357.5 L889.6,355.7 L890.6,353.8 L891.5,352.0 L892.5,350.2 L893.5,348.4 L894.6,346.6 L895.6,344.8 L896.7,343.0 L897.8,341.3 L898.9,339.5 L900.1,337.8 L901.3,336.1 L902.5,334.4 L903.8,332.8 L905.3,331.3 L906.9,329.7 L908.6,328.2 L910.4,327.3 L912.2,327.1 L914.1,327.5 L916.0,328.1 L918.0,329.0 L920.0,330.1 L921.9,331.2 L923.7,332.3 L925.2,333.6 L926.7,335.0 L928.1,336.6 L929.4,338.2 L930.7,339.9 L932.0,341.5 L933.2,343.2 L934.3,345.0 L935.4,346.7 L936.5,348.5 L937.6,350.3 L938.6,352.1 L939.6,353.9 L940.6,355.7 L941.5,357.5 L942.5,359.4 L943.4,361.3 L944.3,363.1 L945.1,365.0 L945.8,366.9 L946.5,368.8 L947.2,370.7 L947.8,372.6 L948.5,374.5 L949.2,376.4 L949.8,378.3 L950.5,380.2 L951.1,382.1 L951.8,384.0 L952.4,385.9 L953.1,387.8 L953.7,389.7 L954.4,391.6 L955.0,393.5 L955.6,395.4 L956.3,397.3 L956.9,399.2 L957.5,401.1 L958.1,403.0 L958.8,404.9 L959.4,406.8 L960.0,408.7 L960.6,410.6 L961.2,412.5 L961.8,414.4 L962.4,416.4 L963.0,418.3 L963.6,420.2 L964.2,422.1 L964.8,424.0 L965.4,425.9 L966.0,427.8 L966.6,429.8 L967.2,431.7 L967.8,433.6 L968.3,435.5 L968.9,437.4 L969.5,439.4 L970.1,441.3 L970.6,443.2 L971.2,445.1 L971.8,447.0 L972.3,449.0 L972.9,450.9 L973.4,452.8 L974.0,454.7 L974.5,456.7 L975.1,458.6 L975.6,460.5 L976.2,462.4 L976.7,464.4 L977.3,466.3 L977.8,468.2 L978.4,470.2 L978.9,472.1 L979.4,474.0 L980.0,476.0 L980.5,477.9 L981.0,479.8 L981.5,481.8 L982.1,483.7 L982.6,485.6 L983.1,487.6 L983.6,489.5 L984.1,491.4 L984.6,493.4 L985.2,495.3 L985.7,497.2 L986.2,499.2 L986.7,501.1 L987.2,503.1 L987.7,505.0 L988.2,506.9 L988.7,508.9 L989.2,510.8 L989.7,512.8 L990.2,514.7 L990.6,516.7 L991.1,518.6 L991.6,520.5 L992.1,522.5 L992.6,524.4 L993.1,526.4 L993.5,528.3 L994.0,530.3 L994.5,532.2 L995.0,534.2 L995.4,536.1 L995.9,538.1 L996.4,540.0 L996.9,542.0 L997.3,543.9 L997.8,545.8 L998.2,547.8 L998.7,549.7 L999.2,551.7 L999.6,553.7 L1000.1,555.6 L1000.5,557.6 L1001.0,559.5 L1001.4,561.5 L1001.9,563.4 L1002.3,565.4 L1002.8,567.3 L1003.2,569.3 L1003.7,571.2 L1004.1,573.2 L1004.6,575.1 L1005.0,577.1 L1005.5,579.1 L1005.9,581.0 L1006.3,583.0 L1006.8,584.9 L1007.2,586.9 L1007.6,588.8 L1008.1,590.8 L1008.5,592.8 L1008.9,594.7 L1009.4,596.7 L1009.8,598.6 L1010.2,600.6 L1010.6,602.5 L1011.1,604.5 L1011.5,606.5 L1011.9,608.4 L1012.3,610.4 L1012.7,612.3 L1013.2,614.3 L1013.6,616.3 L1014.0,618.2 L1014.4,620.2 L1014.8,622.2 L1015.2,624.1 L1015.7,626.1 L1016.1,628.0 L1016.5,630.0 L1016.9,632.0 L1017.3,633.9 L1017.7,635.9 L1018.1,637.9 L1018.5,639.8 L1018.9,641.8 L1019.3,643.8 L1019.7,645.7 L1020.1,647.7 L1020.5,649.6 L1021.0,651.6 L1021.4,653.6 L1021.8,655.5 L1022.2,657.5 L1022.6,659.5 L1023.0,661.4 L1023.3,663.4 L1023.7,665.4 L1024.1,667.3 L1024.5,669.3 L1024.9,671.3 L1025.3,673.2 L1025.7,675.2 L1026.1,677.2 L1026.5,679.1 L1026.9,681.1 L1027.3,683.1 L1027.7,685.0 L1028.1,687.0 L1028.5,689.0 L1028.9,690.9 L1029.3,692.9 L1029.6,694.9 L1030.0,696.9 L1030.4,698.8 L1030.8,700.8 L1031.2,702.8 L1031.6,704.7 L1032.0,706.7 L1032.4,708.7 L1032.8,710.6 L1033.1,712.6 L1033.5,714.6 L1033.9,716.5 L1034.3,718.5 L1034.7,720.5 L1035.1,722.4 L1035.4,724.4 L1035.8,726.4 L1036.2,728.3 L1036.6,730.3 L1037.0,732.3 L1037.4,734.3 L1037.7,736.2 L1038.1,738.2 L1038.5,740.2 L1038.9,742.1 L1039.3,744.1 L1039.7,746.1 L1040.0,748.0 L1040.4,750.0 L1040.8,752.0 L1041.2,753.9 L1041.6,755.9 L1041.9,757.9 L1042.3,759.9 L1042.7,761.8 L1043.1,763.8 L1043.4,765.8 L1043.8,767.7 L1044.2,769.7 L1044.6,771.7 L1045.0,773.7 L1045.3,775.6 L1045.7,777.6 L1046.1,779.6 L1046.5,781.5 L1046.8,783.5 L1047.2,785.5 L1047.6,787.4 L1048.0,789.4 L1048.3,791.4 L1048.7,793.4 L1049.1,795.3 L1049.5,797.3 L1049.8,799.3 L1050.2,801.2 L1050.6,803.2 L1051.0,805.2 L1051.3,807.2 L1051.7,809.1 L1052.1,811.1 L1052.4,813.1 L1052.8,815.0 L1053.2,817.0 L1053.6,819.0 L1053.9,821.0 L1054.3,822.9 L1054.7,824.9 L1055.0,826.9 L1055.4,828.8 L1055.8,830.8 L1056.2,832.8 L1056.5,834.8 L1056.9,836.7 L1057.3,838.7 L1057.6,840.7 L1058.0,842.6 L1058.4,844.6 L1058.8,846.6 L1059.1,848.6 L1059.5,850.5 L1059.9,852.5 L1060.2,854.5 L1060.6,856.4 L1061.0,858.4 L1061.4,860.4 L1061.7,862.4 L1062.1,864.3 L1062.5,866.3 L1062.8,868.3 L1063.2,870.3 L1063.6,872.2 L1063.9,874.2 L1064.3,876.2 L1064.7,878.1 L1065.1,880.1 L1065.4,882.1 L1065.8,884.1 L1066.2,886.0 L1066.5,888.0 L1066.9,890.0 L1067.3,891.9 L1067.6,893.9 L1068.0,895.9 L1068.4,897.9 L1068.8,899.8 L1069.1,901.8 L1069.5,903.8 L1069.9,905.8 L1070.2,907.7 L1070.6,909.7 L1071.0,911.7 L1071.4,913.6 L1071.7,915.6 L1072.1,917.6 L1072.5,919.6 L1072.8,921.5 L1073.2,923.5 L1073.6,925.5 L1073.9,927.5 L1074.3,929.4 L1074.7,931.4 L1075.1,933.4 L1075.4,935.3 L1075.8,937.3 L1076.2,939.3 L1076.5,941.3 L1076.9,943.2 L1077.3,945.2 L1077.7,947.2 L1078.0,949.2 L1078.4,951.1 L1078.8,953.1 L1079.2,955.1 L1079.5,957.0 L1079.9,959.0 L1080.3,961.0 L1080.7,963.0 L1081.0,964.9 L1081.4,966.9 L1081.8,968.9 L1082.1,970.8 L1082.5,972.8 L1082.9,974.8 L1083.3,976.8 L1083.6,978.7 L1084.0,980.7 L1084.4,982.7 L1084.8,984.7 L1085.2,986.6 L1085.5,988.6 L1085.9,990.6 L1086.3,992.5 L1086.7,994.5 L1087.0,996.5 L1087.4,998.5 L1087.8,1000.4 L1088.2,1002.4 L1088.5,1004.4 L1088.9,1006.4 L1089.3,1008.3 L1089.7,1010.3 L1090.1,1012.3 L1090.4,1014.2 L1090.8,1016.2 L1091.2,1018.2 L1091.6,1020.2 L1092.0,1022.1 L1092.3,1024.1 L1092.7,1026.1 L1093.1,1028.0 L1093.5,1030.0 L1093.9,1032.0 L1094.3,1034.0 L1094.6,1035.9 L1095.0,1037.9 L1095.4,1039.9 L1095.8,1041.8 L1096.2,1043.8 L1096.6,1045.8 L1096.9,1047.8 L1097.3,1049.7 L1097.7,1051.7 L1098.1,1053.7 L1098.5,1055.6 L1098.9,1057.6 L1099.3,1059.6 L1099.7,1061.6 L1100.1,1063.5 L1100.4,1065.5 L1100.8,1067.5 L1101.2,1069.4 L1101.6,1071.4 L1102.0,1073.4 L1102.4,1075.4 L1102.8,1077.3 L1103.2,1079.3 L1103.6,1081.3 L1104.0,1083.2 L1104.4,1085.2 L1104.8,1087.2 L1105.2,1089.1 L1105.6,1091.1 L1106.0,1093.1 L1106.4,1095.0 L1106.8,1097.0 L1107.2,1099.0 L1107.6,1101.0 L1108.0,1102.9 L1108.4,1104.9 L1108.8,1106.9 L1109.2,1108.8 L1109.6,1110.8 L1110.0,1112.8 L1110.4,1114.7 L1110.8,1116.7 L1111.2,1118.7 L1111.6,1120.6 L1112.0,1122.6 L1112.4,1124.6 L1112.8,1126.5 L1113.2,1128.5 L1113.7,1130.5 L1114.1,1132.4 L1114.5,1134.4 L1114.9,1136.4 L1115.3,1138.3 L1115.7,1140.3 L1116.1,1142.2 L1116.6,1144.2 L1117.0,1146.2 L1117.4,1148.1 L1117.8,1150.1 L1118.2,1152.1 L1118.7,1154.0 L1119.1,1156.0 L1119.5,1158.0 L1119.9,1159.9 L1120.4,1161.9 L1120.8,1163.8 L1121.2,1165.8 L1121.6,1167.8 L1122.1,1169.7 L1122.5,1171.7 L1122.9,1173.6 L1123.4,1175.6 L1123.8,1177.6 L1124.2,1179.5 L1124.7,1181.5 L1125.1,1183.4 L1125.5,1185.4 L1126.0,1187.4 L1126.4,1189.3 L1126.8,1191.3 L1127.3,1193.2 L1127.7,1195.2 L1128.2,1197.2 L1128.6,1199.1 L1129.1,1201.1 L1129.5,1203.0 L1130.0,1205.0 L1130.4,1206.9 L1130.9,1208.9 L1131.3,1210.8 L1131.8,1212.8 L1132.2,1214.8 L1132.7,1216.7 L1133.1,1218.7 L1133.6,1220.6 L1134.0,1222.6 L1134.5,1224.5 L1135.0,1226.5 L1135.4,1228.4 L1135.9,1230.4 L1136.3,1232.3 L1136.8,1234.3 L1137.3,1236.2 L1137.7,1238.2 L1138.2,1240.1 L1138.7,1242.1 L1139.2,1244.0 L1139.6,1246.0 L1140.1,1247.9 L1140.6,1249.9 L1141.1,1251.8 L1141.5,1253.8 L1142.0,1255.7 L1142.5,1257.7 L1143.0,1259.6 L1143.5,1261.6 L1143.9,1263.5 L1144.4,1265.5 L1144.9,1267.4 L1145.4,1269.3 L1145.9,1271.3 L1146.4,1273.2 L1146.9,1275.2 L1147.4,1277.1 L1147.9,1279.1 L1148.4,1281.0 L1148.9,1282.9 L1149.4,1284.9 L1149.9,1286.8 L1150.4,1288.8 L1150.9,1290.7 L1151.4,1292.6 L1151.9,1294.6 L1152.4,1296.5 L1152.9,1298.5 L1153.4,1300.4 L1153.9,1302.3 L1154.5,1304.3 L1155.0,1306.2 L1155.5,1308.1 L1156.0,1310.1 L1156.5,1312.0 L1157.1,1313.9 L1157.6,1315.9 L1158.1,1317.8 L1158.6,1319.7 L1159.2,1321.7 L1159.7,1323.6 L1160.2,1325.5 L1160.8,1327.5 L1161.3,1329.4 L1161.9,1331.3 L1162.4,1333.3 L1162.9,1335.2 L1163.5,1337.1 L1164.0,1339.1 L1164.6,1341.0 L1165.1,1342.9 L1165.7,1344.8 L1166.2,1346.8 L1166.8,1348.7 L1167.3,1350.6 L1167.9,1352.5 L1168.4,1354.5 L1169.0,1356.4 L1169.6,1358.3 L1170.1,1360.2 L1170.7,1362.1 L1171.3,1364.1 L1171.8,1366.0 L1172.4,1367.9 L1173.0,1369.8 L1173.6,1371.7 L1174.1,1373.7 L1174.7,1375.6 L1175.3,1377.5 L1175.9,1379.4 L1176.5,1381.3 L1177.1,1383.2 L1177.6,1385.2 L1178.2,1387.1 L1178.8,1389.0 L1179.4,1390.9 L1180.0,1392.8 L1180.6,1394.7 L1181.2,1396.6 L1181.8,1398.5 L1182.4,1400.4 L1183.1,1402.3 L1183.7,1404.3 L1184.3,1406.2 L1184.9,1408.1 L1185.5,1410.0 L1186.1,1411.9 L1186.8,1413.8 L1187.4,1415.7 L1188.0,1417.6 L1188.6,1419.5 L1189.3,1421.4 L1189.9,1423.3 L1190.5,1425.2 L1191.2,1427.1 L1191.8,1429.0 L1192.5,1430.9 L1193.1,1432.8 L1193.8,1434.7 L1194.4,1436.6 L1195.1,1438.5 L1195.7,1440.3 L1196.4,1442.2 L1197.0,1444.1 L1197.7,1446.0 L1198.4,1447.9 L1199.0,1449.8 L1199.7,1451.7 L1200.4,1453.6 L1201.1,1455.5 L1201.8,1457.3 L1202.4,1459.2 L1203.1,1461.1 L1203.8,1463.0 L1204.5,1464.9 L1205.2,1466.8 L1205.9,1468.6 L1206.6,1470.5 L1207.3,1472.4 L1208.0,1474.3 L1208.7,1476.1 L1209.4,1478.0 L1210.1,1479.9 L1210.8,1481.8 L1211.5,1483.6 L1212.3,1485.5 L1213.0,1487.4 L1213.7,1489.2 L1214.5,1491.1 L1215.2,1493.0 L1215.9,1494.8 L1216.7,1496.7 L1217.4,1498.6 L1218.1,1500.4 L1218.9,1502.3 L1219.6,1504.2 L1220.4,1506.0 L1221.2,1507.9 L1221.9,1509.7 L1222.7,1511.6 L1223.4,1513.4 L1224.2,1515.3 L1225.0,1517.2 L1225.8,1519.0 L1226.5,1520.9 L1227.3,1522.7 L1228.1,1524.6 L1228.9,1526.4 L1229.7,1528.2 L1230.5,1530.1 L1231.3,1531.9 L1232.1,1533.8 L1232.9,1535.6 L1233.7,1537.5 L1234.5,1539.3 L1235.2,1541.4 L1236.0,1543.4 L1236.9,1545.3 L1237.8,1547.2 L1238.8,1549.0 L1239.9,1550.8 L1241.0,1552.5 L1242.2,1554.1 L1243.4,1555.7 L1244.7,1557.2 L1246.1,1558.7 L1247.7,1560.2 L1249.3,1561.6 L1251.0,1562.9 L1252.7,1564.0 L1254.5,1565.0 L1256.3,1565.9 L1258.3,1566.8 L1260.3,1567.5 L1262.3,1568.1 L1264.3,1568.3 L1266.3,1568.4 L1268.3,1568.5 L1270.4,1568.6 L1272.5,1568.6 L1274.5,1568.7 L1276.6,1568.8 L1278.7,1568.8 L1280.8,1568.8 L1282.9,1568.9 L1285.0,1568.9 L1287.1,1568.9 L1289.1,1568.9 L1291.2,1568.9 L1293.3,1568.9 L1295.4,1568.9 L1297.4,1568.9 L1299.5,1568.9 L1301.6,1568.9 L1303.6,1568.9 L1305.7,1568.9 L1307.8,1568.9 L1309.9,1568.9 L1311.9,1568.9 L1314.0,1568.9" fill="none" stroke="#0f0" stroke-width="20.0" stroke-linejoin="round" stroke-linecap="butt"/>
<path d="M316.0,1521.5 L318.0,1521.5 L320.0,1521.5 L322.0,1521.5 L324.1,1521.5 L326.1,1521.5 L328.1,1521.5 L330.1,1521.4 L332.1,1521.3 L334.1,1521.1 L336.1,1521.0 L338.2,1521.0 L340.2,1521.0 L342.2,1521.0 L344.2,1521.0 L346.2,1521.0 L348.1,1521.3 L350.1,1522.1 L351.9,1523.0 L353.7,1524.2 L355.4,1525.2 L356.9,1526.5 L358.3,1527.9 L359.7,1529.4 L361.1,1530.9 L362.4,1532.4 L363.8,1533.9 L365.2,1535.4 L366.5,1536.9 L367.9,1538.4 L369.2,1539.9 L370.6,1541.4 L371.9,1542.9 L373.3,1544.4 L374.7,1545.8 L376.2,1547.1 L377.7,1548.5 L379.2,1549.8 L380.8,1551.1 L382.4,1552.3 L384.0,1553.6 L385.6,1554.8 L387.2,1556.0 L388.8,1557.2 L390.4,1558.4 L392.0,1559.7 L393.7,1560.9 L395.3,1562.2 L396.9,1563.3 L398.7,1564.4 L400.4,1565.2 L402.3,1566.0 L404.2,1566.7 L406.1,1567.4 L408.1,1568.0 L410.1,1568.4 L412.1,1568.5 L414.0,1568.5 L416.0,1568.5 L418.0,1568.5 L420.0,1568.5 L422.0,1568.5 L424.0,1568.5 L426.0,1568.5 L428.0,1568.5 L430.0,1568.5 L432.0,1568.5 L434.1,1568.5 L436.1,1568.5 L438.1,1568.5 L440.2,1568.5 L442.2,1568.5 L444.2,1568.5 L446.2,1568.5 L448.3,1568.5 L450.3,1568.5 L452.3,1568.5 L454.4,1568.5 L456.4,1568.5 L458.4,1568.5 L460.5,1568.5 L462.5,1568.5 L464.5,1568.5 L466.5,1568.5 L468.5,1568.5 L470.5,1568.5 L472.5,1568.4 L474.5,1568.2 L476.5,1567.9 L478.5,1567.5 L480.5,1567.1 L482.5,1566.6 L484.4,1566.1 L486.4,1565.6 L488.2,1565.0 L490.1,1564.3 L492.0,1563.4 L493.8,1562.6 L495.7,1561.7 L497.5,1560.9 L499.3,1560.0 L501.1,1559.1 L502.9,1558.2 L504.7,1557.3 L506.5,1556.3 L508.2,1555.3 L510.0,1554.4 L511.8,1553.4 L513.5,1552.4 L515.3,1551.5 L517.1,1550.5 L518.9,1549.5 L520.6,1548.5 L522.4,1547.6 L524.1,1546.6 L525.9,1545.6 L527.7,1544.6 L529.4,1543.6 L531.2,1542.6 L532.9,1541.6 L534.6,1540.6 L536.4,1539.6 L538.1,1538.5 L539.8,1537.5 L541.6,1536.5 L543.3,1535.5 L545.1,1534.4 L546.8,1533.4 L548.5,1532.3 L550.3,1531.3 L552.0,1530.2 L553.7,1529.2 L555.4,1528.1 L557.0,1526.9 L558.7,1525.8 L560.3,1524.7 L561.9,1523.5 L563.5,1522.3 L565.1,1521.0 L566.7,1519.8 L568.3,1518.5 L569.8,1517.2 L571.4,1515.9 L572.9,1514.6 L574.5,1513.3 L576.0,1512.0 L577.5,1510.6 L579.0,1509.2 L580.5,1507.9 L581.9,1506.5 L583.4,1505.1 L584.9,1503.7 L586.3,1502.4 L587.8,1501.0 L589.2,1499.6 L590.7,1498.2 L592.1,1496.8 L593.5,1495.3 L594.9,1493.9 L596.4,1492.5 L597.8,1491.0 L599.2,1489.6 L600.5,1488.1 L601.9,1486.7 L603.3,1485.2 L604.7,1483.7 L606.0,1482.2 L607.4,1480.7 L608.7,1479.2 L610.0,1477.7 L611.4,1476.1 L612.7,1474.6 L614.0,1473.1 L615.3,1471.5 L616.5,1469.8 L617.6,1468.2 L618.8,1466.5 L619.9,1464.9 L621.1,1463.2 L622.2,1461.5 L623.3,1459.9 L624.4,1458.2 L625.6,1456.5 L626.7,1454.8 L627.8,1453.1 L628.8,1451.4 L629.9,1449.7 L631.0,1448.0 L632.1,1446.3 L633.1,1444.6 L634.2,1442.9 L635.2,1441.2 L636.3,1439.5 L637.3,1437.8 L638.3,1436.1 L639.4,1434.3 L640.4,1432.6 L641.4,1430.9 L642.4,1429.1 L643.4,1427.4 L644.4,1425.7 L645.4,1423.9 L646.3,1422.2 L647.3,1420.4 L648.3,1418.7 L649.2,1416.9 L650.2,1415.2 L651.1,1413.4 L652.1,1411.6 L653.0,1409.9 L653.9,1408.1 L654.9,1406.3 L655.8,1404.6 L656.7,1402.8 L657.6,1401.0 L658.5,1399.2 L659.4,1397.4 L660.3,1395.7 L661.2,1393.9 L662.0,1392.1 L662.9,1390.3 L663.8,1388.5 L664.6,1386.7 L665.5,1384.9 L666.3,1383.1 L667.2,1381.3 L668.0,1379.5 L668.9,1377.7 L669.7,1375.8 L670.5,1374.0 L671.3,1372.2 L672.1,1370.4 L673.0,1368.6 L673.8,1366.7 L674.6,1364.9 L675.3,1363.1 L676.1,1361.2 L676.9,1359.4 L677.7,1357.6 L678.5,1355.7 L679.3,1353.9 L680.0,1352.1 L680.8,1350.2 L681.5,1348.4 L682.3,1346.5 L683.0,1344.7 L683.8,1342.8 L684.5,1341.0 L685.3,1339.1 L686.0,1337.2 L686.7,1335.4 L687.4,1333.5 L688.2,1331.7 L688.9,1329.8 L689.6,1327.9 L690.3,1326.1 L691.0,1324.2 L691.7,1322.3 L692.4,1320.4 L693.1,1318.6 L693.8,1316.7 L694.5,1314.8 L695.1,1312.9 L695.8,1311.1 L696.5,1309.2 L697.2,1307.3 L697.8,1305.4 L698.5,1303.5 L699.2,1301.6 L699.8,1299.7 L700.5,1297.9 L701.1,1296.0 L701.8,1294.1 L702.4,1292.2 L703.1,1290.3 L703.7,1288.4 L704.3,1286.5 L705.0,1284.6 L705.6,1282.7 L706.2,1280.8 L706.8,1278.9 L707.5,1277.0 L708.1,1275.1 L708.7,1273.2 L709.3,1271.3 L709.9,1269.4 L710.5,1267.4 L711.1,1265.5 L711.7,1263.6 L712.3,1261.7 L712.9,1259.8 L713.5,1257.9 L714.1,1256.0 L714.7,1254.1 L715.3,1252.1 L715.9,1250.2 L716.5,1248.3 L717.1,1246.4 L717.6,1244.5 L718.2,1242.6 L718.8,1240.6 L719.4,1238.7 L719.9,1236.8 L720.5,1234.9 L721.1,1233.0 L721.6,1231.0 L722.2,1229.1 L722.8,1227.2 L723.3,1225.3 L723.9,1223.3 L724.4,1221.4 L725.0,1219.5 L725.5,1217.6 L726.1,1215.6 L726.6,1213.7 L727.2,1211.8 L727.7,1209.9 L728.3,1207.9 L728.8,1206.0 L729.4,1204.1 L729.9,1202.1 L730.4,1200.2 L731.0,1198.3 L731.5,1196.3 L732.0,1194.4 L732.5,1192.5 L733.1,1190.5 L733.6,1188.6 L734.1,1186.7 L734.6,1184.7 L735.2,1182.8 L735.7,1180.8 L736.2,1178.9 L736.7,1177.0 L737.2,1175.0 L737.7,1173.1 L738.2,1171.2 L738.8,1169.2 L739.3,1167.3 L739.8,1165.3 L740.3,1163.4 L740.8,1161.4 L741.3,1159.5 L741.8,1157.6 L742.3,1155.6 L742.8,1153.7 L743.3,1151.7 L743.8,1149.8 L744.2,1147.8 L744.7,1145.9 L745.2,1143.9 L745.7,1142.0 L746.2,1140.1 L746.7,1138.1 L747.2,1136.2 L747.7,1134.2 L748.1,1132.3 L748.6,1130.3 L749.1,1128.4 L749.6,1126.4 L750.0,1124.5 L750.5,1122.5 L751.0,1120.6 L751.5,1118.6 L751.9,1116.7 L752.4,1114.7 L752.9,1112.8 L753.3,1110.8 L753.8,1108.8 L754.3,1106.9 L754.7,1104.9 L755.2,1103.0 L755.7,1101.0 L756.1,1099.1 L756.6,1097.1 L757.0,1095.2 L757.5,1093.2 L758.0,1091.3 L758.4,1089.3 L758.9,1087.4 L759.3,1085.4 L759.8,1083.4 L760.2,1081.5 L760.7,1079.5 L761.1,1077.6 L761.6,1075.6 L762.0,1073.7 L762.5,1071.7 L762.9,1069.7 L763.4,1067.8 L763.8,1065.8 L764.2,1063.9 L764.7,1061.9 L765.1,1059.9 L765.6,1058.0 L766.0,1056.0 L766.5,1054.1 L766.9,1052.1 L767.3,1050.1 L767.8,1048.2 L768.2,1046.2 L768.6,1044.3 L769.1,1042.3 L769.5,1040.3 L769.9,1038.4 L770.4,1036.4 L770.8,1034.5 L771.2,1032.5 L771.7,1030.5 L772.1,1028.6 L772.5,1026.6 L773.0,1024.7 L773.4,1022.7 L773.8,1020.7 L774.2,1018.8 L774.7,1016.8 L775.1,1014.8 L775.5,1012.9 L776.0,1010.9 L776.4,1009.0 L776.8,1007.0 L777.2,1005.0 L777.6,1003.1 L778.1,1001.1 L778.5,999.1 L778.9,997.2 L779.3,995.2 L779.8,993.3 L780.2,991.3 L780.6,989.3 L781.0,987.4 L781.4,985.4 L781.9,983.4 L782.3,981.5 L782.7,979.5 L783.1,977.6 L783.6,975.6 L784.0,973.6 L784.4,971.7 L784.8,969.7 L785.2,967.7 L785.6,965.8 L786.1,963.8 L786.5,961.9 L786.9,959.9 L787.3,957.9 L787.7,956.0 L788.2,954.0 L788.6,952.0 L789.0,950.1 L789.4,948.1 L789.8,946.2 L790.2,944.2 L790.7,942.2 L791.1,940.3 L791.5,938.3 L791.9,936.3 L792.3,934.4 L792.7,932.4 L793.2,930.5 L793.6,928.5 L794.0,926.5 L794.4,924.6 L794.8,922.6 L795.2,920.6 L795.7,918.7 L796.1,916.7 L796.5,914.8 L796.9,912.8 L797.3,910.8 L797.8,908.9 L798.2,906.9 L798.6,904.9 L799.0,903.0 L799.4,901.0 L799.9,899.1 L800.3,897.1 L800.7,895.1 L801.1,893.2 L801.5,891.2 L802.0,889.3 L802.4,887.3 L802.8,885.3 L803.2,883.4 L803.6,881.4 L804.1,879.5 L804.5,877.5 L804.9,875.5 L805.3,873.6 L805.8,871.6 L806.2,869.7 L806.6,867.7 L807.0,865.8 L807.5,863.8 L807.9,861.8 L808.3,859.9 L808.7,857.9 L809.2,856.0 L809.6,854.0 L810.0,852.0 L810.5,850.1 L810.9,848.1 L811.3,846.2 L811.8,844.2 L812.2,842.3 L812.6,840.3 L813.1,838.4 L813.5,836.4 L813.9,834.4 L814.4,832.5 L814.8,830.5 L815.2,828.6 L815.7,826.6 L816.1,824.7 L816.5,822.7 L817.0,820.8 L817.4,818.8 L817.9,816.8 L818.3,814.9 L818.8,812.9 L819.2,811.0 L819.6,809.0 L820.1,807.1 L820.5,805.1 L821.0,803.2 L821.4,801.2 L821.9,799.3 L822.3,797.3 L822.8,795.4 L823.2,793.4 L823.7,791.5 L824.1,789.5 L824.6,787.6 L825.0,785.6 L825.5,783.7 L826.0,781.7 L826.4,779.8 L826.9,777.8 L827.3,775.9 L827.8,773.9 L828.3,772.0 L828.7,770.0 L829.2,768.1 L829.6,766.1 L830.1,764.2 L830.6,762.3 L831.1,760.3 L831.5,758.4 L832.0,756.4 L832.5,754.5 L832.9,752.5 L833.4,750.6 L833.9,748.6 L834.4,746.7 L834.8,744.8 L835.3,742.8 L835.8,740.9 L836.3,738.9 L836.8,737.0 L837.3,735.0 L837.7,733.1 L838.2,731.2 L838.7,729.2 L839.2,727.3 L839.7,725.3 L840.2,723.4 L840.7,721.5 L841.2,719.5 L841.7,717.6 L842.2,715.6 L842.7,713.7 L843.2,711.8 L843.7,709.8 L844.2,707.9 L844.7,706.0 L845.2,704.0 L845.7,702.1 L846.2,700.2 L846.7,698.2 L847.2,696.3 L847.8,694.4 L848.3,692.4 L848.8,690.5 L849.3,688.6 L849.8,686.6 L850.4,684.7 L850.9,682.8 L851.4,680.8 L851.9,678.9 L852.5,677.0 L853.0,675.1 L853.5,673.1 L854.1,671.2 L854.6,669.3 L855.1,667.3 L855.7,665.4 L856.2,663.5 L856.8,661.6 L857.3,659.6 L857.9,657.7 L858.4,655.8 L859.0,653.9 L859.5,651.9 L860.1,650.0 L860.6,648.1 L861.2,646.2 L861.7,644.3 L862.3,642.3 L862.9,640.4 L863.4,638.5 L864.0,636.6 L864.6,634.7 L865.1,632.7 L865.7,630.8 L866.3,628.9 L866.9,627.0 L867.4,625.1 L868.0,623.2 L868.6,621.2 L869.2,619.3 L869.8,617.4 L870.4,615.5 L871.0,613.6 L871.5,611.7 L872.1,609.8 L872.7,607.9 L873.3,605.9 L873.9,604.0 L874.5,602.1 L875.2,600.2 L875.8,598.3 L876.4,596.4 L877.0,594.5 L877.6,592.6 L878.2,590.7 L878.8,588.8 L879.5,586.9 L880.1,585.0 L880.7,583.1 L881.3,581.2 L882.0,579.2 L882.6,577.3 L883.2,575.4 L883.9,573.5 L884.5,571.6 L885.2,569.7 L885.8,567.8 L886.5,565.9 L887.1,564.0 L887.8,562.2 L888.4,560.3 L889.1,558.4 L889.7,556.5 L890.4,554.6 L891.1,552.7 L891.7,550.8 L892.4,548.9 L893.1,547.0 L893.7,545.1 L894.4,543.2 L895.1,541.3 L895.8,539.4 L896.5,537.5 L897.2,535.7 L897.9,533.8 L898.5,531.9 L899.2,530.0 L900.1,528.1 L901.0,526.3 L901.9,524.4 L902.9,522.6 L903.8,520.7 L904.8,518.9 L905.7,517.1 L906.8,515.3 L907.8,513.5 L908.8,511.7 L909.9,509.9 L911.0,508.2 L912.2,506.5 L913.4,504.8 L914.6,503.1 L915.9,501.5 L917.2,499.9 L918.6,498.3 L920.1,496.9 L921.7,495.7 L923.5,494.5 L925.3,493.3 L927.3,492.3 L929.2,491.5 L931.1,491.0 L933.1,491.1 L935.0,491.4 L937.0,492.0 L939.0,492.9 L941.0,493.8 L942.9,494.9 L944.7,496.0 L946.3,497.1 L947.8,498.5 L949.2,500.0 L950.6,501.6 L951.9,503.2 L953.2,504.9 L954.4,506.5 L955.6,508.2 L956.7,510.0 L957.8,511.7 L958.9,513.5 L959.9,515.3 L961.0,517.1 L961.9,518.9 L962.9,520.7 L963.8,522.5 L964.8,524.4 L965.7,526.3 L966.6,528.1 L967.4,530.0 L968.1,531.9 L968.8,533.8 L969.4,535.7 L970.1,537.6 L970.8,539.5 L971.4,541.4 L972.1,543.3 L972.8,545.1 L973.4,547.0 L974.1,548.9 L974.7,550.8 L975.4,552.7 L976.0,554.6 L976.7,556.5 L977.3,558.4 L977.9,560.3 L978.6,562.2 L979.2,564.1 L979.9,566.0 L980.5,567.9 L981.1,569.9 L981.8,571.8 L982.4,573.7 L983.0,575.6 L983.6,577.5 L984.3,579.4 L984.9,581.3 L985.5,583.2 L986.1,585.1 L986.7,587.0 L987.3,588.9 L988.0,590.8 L988.6,592.7 L989.2,594.7 L989.8,596.6 L990.4,598.5 L991.0,600.4 L991.6,602.3 L992.2,604.2 L992.8,606.1 L993.4,608.0 L994.0,610.0 L994.6,611.9 L995.1,613.8 L995.7,615.7 L996.3,617.6 L996.9,619.5 L997.5,621.5 L998.1,623.4 L998.7,625.3 L999.2,627.2 L999.8,629.1 L1000.4,631.1 L1001.0,633.0 L1001.5,634.9 L1002.1,636.8 L1002.7,638.7 L1003.2,640.7 L1003.8,642.6 L1004.4,644.5 L1004.9,646.4 L1005.5,648.4 L1006.1,650.3 L1006.6,652.2 L1007.2,654.1 L1007.7,656.1 L1008.3,658.0 L1008.8,659.9 L1009.4,661.9 L1009.9,663.8 L1010.5,665.7 L1011.0,667.6 L1011.6,669.6 L1012.1,671.5 L1012.7,673.4 L1013.2,675.4 L1013.7,677.3 L1014.3,679.2 L1014.8,681.2 L1015.4,683.1 L1015.9,685.0 L1016.4,686.9 L1017.0,688.9 L1017.5,690.8 L1018.0,692.7 L1018.5,694.7 L1019.1,696.6 L1019.6,698.6 L1020.1,700.5 L1020.7,702.4 L1021.2,704.4 L1021.7,706.3 L1022.2,708.2 L1022.7,710.2 L1023.3,712.1 L1023.8,714.0 L1024.3,716.0 L1024.8,717.9 L1025.3,719.9 L1025.8,721.8 L1026.3,723.7 L1026.9,725.7 L1027.4,727.6 L1027.9,729.6 L1028.4,731.5 L1028.9,733.4 L1029.4,735.4 L1029.9,737.3 L1030.4,739.3 L1030.9,741.2 L1031.4,743.1 L1031.9,745.1 L1032.4,747.0 L1032.9,749.0 L1033.4,750.9 L1033.9,752.9 L1034.4,754.8 L1034.9,756.7 L1035.4,758.7 L1035.9,760.6 L1036.4,762.6 L1036.9,764.5 L1037.4,766.5 L1037.9,768.4 L1038.4,770.3 L1038.9,772.3 L1039.3,774.2 L1039.8,776.2 L1040.3,778.1 L1040.8,780.1 L1041.3,782.0 L1041.8,784.0 L1042.3,785.9 L1042.8,787.9 L1043.2,789.8 L1043.7,791.8 L1044.2,793.7 L1044.7,795.7 L1045.2,797.6 L1045.6,799.5 L1046.1,801.5 L1046.6,803.4 L1047.1,805.4 L1047.6,807.3 L1048.0,809.3 L1048.5,811.2 L1049.0,813.2 L1049.5,815.1 L1049.9,817.1 L1050.4,819.0 L1050.9,821.0 L1051.4,822.9 L1051.8,824.9 L1052.3,826.8 L1052.8,828.8 L1053.3,830.7 L1053.7,832.7 L1054.2,834.6 L1054.7,836.6 L1055.2,838.5 L1055.6,840.5 L1056.1,842.4 L1056.6,844.4 L1057.0,846.3 L1057.5,848.3 L1058.0,850.2 L1058.4,852.2 L1058.9,854.1 L1059.4,856.1 L1059.8,858.1 L1060.3,860.0 L1060.8,862.0 L1061.2,863.9 L1061.7,865.9 L1062.2,867.8 L1062.6,869.8 L1063.1,871.7 L1063.6,873.7 L1064.0,875.6 L1064.5,877.6 L1065.0,879.5 L1065.4,881.5 L1065.9,883.4 L1066.3,885.4 L1066.8,887.3 L1067.3,889.3 L1067.7,891.2 L1068.2,893.2 L1068.6,895.2 L1069.1,897.1 L1069.6,899.1 L1070.0,901.0 L1070.5,903.0 L1070.9,904.9 L1071.4,906.9 L1071.9,908.8 L1072.3,910.8 L1072.8,912.7 L1073.2,914.7 L1073.7,916.7 L1074.1,918.6 L1074.6,920.6 L1075.1,922.5 L1075.5,924.5 L1076.0,926.4 L1076.4,928.4 L1076.9,930.3 L1077.3,932.3 L1077.8,934.2 L1078.2,936.2 L1078.7,938.2 L1079.2,940.1 L1079.6,942.1 L1080.1,944.0 L1080.5,946.0 L1081.0,947.9 L1081.4,949.9 L1081.9,951.8 L1082.3,953.8 L1082.8,955.8 L1083.2,957.7 L1083.7,959.7 L1084.1,961.6 L1084.6,963.6 L1085.0,965.5 L1085.5,967.5 L1086.0,969.5 L1086.4,971.4 L1086.9,973.4 L1087.3,975.3 L1087.8,977.3 L1088.2,979.2 L1088.7,981.2 L1089.1,983.1 L1089.6,985.1 L1090.0,987.1 L1090.5,989.0 L1090.9,991.0 L1091.4,992.9 L1091.8,994.9 L1092.3,996.8 L1092.7,998.8 L1093.2,1000.8 L1093.6,1002.7 L1094.1,1004.7 L1094.5,1006.6 L1095.0,1008.6 L1095.4,1010.5 L1095.9,1012.5 L1096.3,1014.5 L1096.8,1016.4 L1097.2,1018.4 L1097.7,1020.3 L1098.1,1022.3 L1098.6,1024.2 L1099.0,1026.2 L1099.5,1028.2 L1099.9,1030.1 L1100.4,1032.1 L1100.8,1034.0 L1101.3,1036.0 L1101.7,1037.9 L1102.2,1039.9 L1102.6,1041.9 L1103.1,1043.8 L1103.5,1045.8 L1104.0,1047.7 L1104.4,1049.7 L1104.9,1051.6 L1105.3,1053.6 L1105.8,1055.5 L1106.2,1057.5 L1106.7,1059.5 L1107.1,1061.4 L1107.6,1063.4 L1108.0,1065.3 L1108.5,1067.3 L1108.9,1069.2 L1109.4,1071.2 L1109.8,1073.2 L1110.3,1075.1 L1110.7,1077.1 L1111.2,1079.0 L1111.7,1081.0 L1112.1,1082.9 L1112.6,1084.9 L1113.0,1086.9 L1113.5,1088.8 L1113.9,1090.8 L1114.4,1092.7 L1114.8,1094.7 L1115.3,1096.6 L1115.7,1098.6 L1116.2,1100.6 L1116.6,1102.5 L1117.1,1104.5 L1117.5,1106.4 L1118.0,1108.4 L1118.5,1110.3 L1118.9,1112.3 L1119.4,1114.2 L1119.8,1116.2 L1120.3,1118.2 L1120.7,1120.1 L1121.2,1122.1 L1121.6,1124.0 L1122.1,1126.0 L1122.6,1127.9 L1123.0,1129.9 L1123.5,1131.8 L1123.9,1133.8 L1124.4,1135.8 L1124.8,1137.7 L1125.3,1139.7 L1125.8,1141.6 L1126.2,1143.6 L1126.7,1145.5 L1127.1,1147.5 L1127.6,1149.4 L1128.1,1151.4 L1128.5,1153.4 L1129.0,1155.3 L1129.5,1157.3 L1129.9,1159.2 L1130.4,1161.2 L1130.8,1163.1 L1131.3,1165.1 L1131.8,1167.0 L1132.2,1169.0 L1132.7,1170.9 L1133.2,1172.9 L1133.6,1174.8 L1134.1,1176.8 L1134.6,1178.7 L1135.0,1180.7 L1135.5,1182.7 L1136.0,1184.6 L1136.5,1186.6 L1136.9,1188.5 L1137.4,1190.5 L1137.9,1192.4 L1138.3,1194.4 L1138.8,1196.3 L1139.3,1198.3 L1139.8,1200.2 L1140.2,1202.2 L1140.7,1204.1 L1141.2,1206.1 L1141.7,1208.0 L1142.1,1210.0 L1142.6,1211.9 L1143.1,1213.9 L1143.6,1215.8 L1144.1,1217.8 L1144.5,1219.7 L1145.0,1221.7 L1145.5,1223.6 L1146.0,1225.6 L1146.5,1227.5 L1147.0,1229.5 L1147.4,1231.4 L1147.9,1233.4 L1148.4,1235.3 L1148.9,1237.2 L1149.4,1239.2 L1149.9,1241.1 L1150.4,1243.1 L1150.9,1245.0 L1151.4,1247.0 L1151.9,1248.9 L1152.3,1250.9 L1152.8,1252.8 L1153.3,1254.8 L1153.8,1256.7 L1154.3,1258.6 L1154.8,1260.6 L1155.3,1262.5 L1155.8,1264.5 L1156.3,1266.4 L1156.8,1268.4 L1157.3,1270.3 L1157.8,1272.2 L1158.3,1274.2 L1158.8,1276.1 L1159.4,1278.1 L1159.9,1280.0 L1160.4,1282.0 L1160.9,1283.9 L1161.4,1285.8 L1161.9,1287.8 L1162.4,1289.7 L1162.9,1291.7 L1163.4,1293.6 L1164.0,1295.5 L1164.5,1297.5 L1165.0,1299.4 L1165.5,1301.3 L1166.0,1303.3 L1166.5,1305.2 L1167.1,1307.2 L1167.6,1309.1 L1168.1,1311.0 L1168.6,1313.0 L1169.2,1314.9 L1169.7,1316.8 L1170.2,1318.8 L1170.8,1320.7 L1171.3,1322.6 L1171.8,1324.6 L1172.3,1326.5 L1172.9,1328.4 L1173.4,1330.4 L1174.0,1332.3 L1174.5,1334.2 L1175.0,1336.2 L1175.6,1338.1 L1176.1,1340.0 L1176.7,1342.0 L1177.2,1343.9 L1177.7,1345.8 L1178.3,1347.7 L1178.8,1349.7 L1179.4,1351.6 L1179.9,1353.5 L1180.5,1355.5 L1181.0,1357.4 L1181.6,1359.3 L1182.2,1361.2 L1182.7,1363.2 L1183.3,1365.1 L1183.8,1367.0 L1184.4,1368.9 L1185.0,1370.9 L1185.5,1372.8 L1186.1,1374.7 L1186.7,1376.6 L1187.2,1378.6 L1187.8,1380.5 L1188.4,1382.4 L1188.9,1384.3 L1189.5,1386.2 L1190.1,1388.2 L1190.7,1390.1 L1191.2,1392.0 L1191.8,1393.9 L1192.4,1395.8 L1193.0,1397.8 L1193.6,1399.7 L1194.2,1401.6 L1194.7,1403.5 L1195.3,1405.4 L1195.9,1407.3 L1196.5,1409.3 L1197.1,1411.2 L1197.7,1413.1 L1198.3,1415.0 L1198.9,1416.9 L1199.5,1418.8 L1200.1,1420.7 L1200.7,1422.6 L1201.3,1424.6 L1201.9,1426.5 L1202.5,1428.4 L1203.1,1430.3 L1203.8,1432.2 L1204.4,1434.1 L1205.0,1436.0 L1205.6,1437.9 L1206.2,1439.8 L1206.8,1441.7 L1207.5,1443.6 L1208.1,1445.5 L1208.7,1447.4 L1209.4,1449.4 L1210.0,1451.3 L1210.6,1453.2 L1211.2,1455.1 L1211.9,1457.0 L1212.5,1458.9 L1213.2,1460.8 L1213.8,1462.7 L1214.4,1464.6 L1215.1,1466.5 L1215.7,1468.4 L1216.4,1470.3 L1217.0,1472.2 L1217.7,1474.0 L1218.4,1475.9 L1219.0,1477.8 L1219.7,1479.7 L1220.3,1481.6 L1221.0,1483.5 L1221.7,1485.4 L1222.3,1487.3 L1223.0,1489.2 L1223.7,1491.1 L1224.3,1493.0 L1225.0,1494.9 L1225.7,1496.7 L1226.4,1498.6 L1227.1,1500.5 L1227.8,1502.4 L1228.4,1504.3 L1229.1,1506.2 L1229.8,1508.1 L1230.5,1509.9 L1231.2,1511.8 L1231.9,1513.7 L1232.6,1515.6 L1233.3,1517.5 L1234.0,1519.3 L1234.7,1521.2 L1235.4,1523.1 L1236.1,1525.0 L1236.9,1526.9 L1237.6,1528.7 L1238.3,1530.6 L1239.0,1532.5 L1239.7,1534.4 L1240.5,1536.2 L1241.2,1538.1 L1247.5,1549.6 L1249.5,1550.4 L1251.4,1551.1 L1253.4,1551.7 L1255.4,1552.2 L1257.4,1552.4 L1259.4,1552.4 L1261.5,1552.4 L1263.5,1552.3 L1265.6,1552.3 L1267.7,1552.2 L1269.7,1552.2 L1271.7,1552.0 L1273.8,1551.6 L1275.8,1551.1 L1277.8,1550.8 L1279.9,1550.5 L1281.9,1550.5 L1284.0,1550.6 L1286.0,1550.8 L1287.8,1551.3 L1289.6,1552.2 L1291.3,1553.4 L1292.9,1554.8 L1294.5,1556.2 L1296.2,1557.7 L1297.9,1558.9 L1299.6,1560.1 L1301.3,1561.3 L1303.0,1562.5 L1304.7,1563.7 L1306.4,1564.8 L1308.2,1565.7 L1310.0,1566.5 L1312.0,1567.2 L1314.0,1567.9 L1316.0,1568.1 L1318.0,1568.1 L1320.0,1568.1 L1322.0,1568.1 L1324.0,1568.1 L1326.1,1568.1 L1328.1,1568.1 L1330.1,1568.1 L1332.1,1568.1 L1334.1,1568.1 L1336.1,1568.1 L1338.2,1568.1 L1340.2,1568.1 L1342.2,1568.1 L1344.3,1568.1 L1346.3,1568.1 L1348.3,1568.1 L1350.4,1568.1 L1352.4,1568.1 L1354.5,1568.1 L1356.5,1568.1 L1358.6,1568.1 L1360.6,1568.1 L1362.7,1568.1 L1364.8,1568.1 L1366.8,1568.1 L1368.9,1568.1 L1371.0,1568.1 L1373.1,1568.1 L1375.2,1568.1 L1377.3,1568.1 L1379.4,1568.1 L1381.5,1568.1 L1383.6,1568.1 L1385.7,1568.1 L1387.8,1568.1 L1389.9,1568.1" fill="none" stroke="#00f" stroke-width="20.0" stroke-linejoin="round" stroke-linecap="butt"/>
<path d="M316.0,1552.0 L327.0,1551.4 L332.2,1549.5 L337.0,1551.5 L340.3,1555.0 L344.0,1548.5 L348.4,1545.9 L354.1,1546.7 L358.0,1551.0 L361.7,1558.0 L366.0,1554.0 L370.3,1553.0 L377.9,1554.3 L382.0,1560.0 L386.5,1565.7 L388.5,1565.6 L390.6,1565.5 L392.6,1565.6 L394.6,1566.1 L396.6,1566.3 L398.6,1566.5 L400.6,1566.6 L402.6,1567.3 L404.4,1568.2 L406.3,1568.2 L408.1,1567.0 L409.9,1565.9 L411.6,1566.4 L413.2,1568.1 L414.9,1569.0 L416.7,1568.3 L418.6,1567.3 L420.6,1567.1 L422.6,1567.7 L424.6,1568.0 L426.6,1567.9 L428.6,1567.7 L430.6,1567.9 L432.6,1568.8 L434.4,1569.1 L436.3,1568.0 L438.0,1566.8 L439.9,1566.8 L441.7,1567.8 L443.6,1568.7 L445.5,1569.1 L447.6,1569.4 L449.5,1570.0 L451.5,1570.7 L453.4,1570.9 L455.2,1570.0 L457.0,1568.8 L458.9,1568.3 L460.9,1568.1 L462.9,1567.9 L464.9,1567.2 L466.8,1566.6 L468.8,1566.6 L470.8,1567.0 L472.8,1567.5 L474.8,1568.0 L476.8,1568.4 L478.7,1568.1 L480.7,1567.5 L482.7,1567.5 L484.6,1568.3 L486.5,1568.8 L488.5,1568.7 L490.6,1568.4 L492.6,1568.3 L494.6,1568.2 L496.7,1568.2 L498.7,1568.6 L500.7,1569.0 L502.6,1568.7 L504.6,1568.2 L506.7,1568.2 L508.7,1568.3 L510.7,1568.4 L512.7,1567.9 L514.6,1567.3 L516.7,1567.3 L518.7,1567.4 L520.7,1567.5 L522.8,1567.7 L524.8,1567.8 L526.7,1567.3 L528.7,1566.6 L530.7,1566.4 L532.7,1566.3 L534.7,1566.1 L536.7,1565.7 L538.7,1565.3 L540.7,1565.0 L542.7,1564.7 L544.8,1564.6 L546.8,1564.5 L548.8,1564.5 L550.9,1564.7 L552.9,1564.9 L554.8,1564.5 L556.7,1563.7 L558.7,1563.4 L560.8,1563.3 L562.8,1563.1 L564.8,1562.8 L566.8,1562.3 L568.5,1561.5 L570.1,1560.1 L571.7,1558.8 L573.2,1557.5 L574.8,1556.2 L576.5,1555.0 L578.2,1554.0 L579.9,1552.9 L581.7,1551.8 L583.4,1550.8 L584.7,1549.3 L585.9,1547.7 L587.0,1545.9 L587.8,1543.6 L588.8,1542.1 L590.4,1542.1 L592.6,1542.3 L594.7,1542.4 L596.0,1541.3 L597.2,1539.2 L598.6,1538.1 L600.6,1537.8 L602.7,1537.6 L604.7,1537.5 L606.7,1537.5 L608.6,1537.3 L610.2,1536.1 L611.9,1534.9 L613.8,1534.3 L615.8,1533.7 L617.6,1532.9 L619.4,1532.1 L621.2,1531.2 L623.1,1530.5 L624.9,1529.6 L626.9,1528.8 L628.6,1527.8 L629.6,1526.3 L630.3,1524.3 L631.2,1522.5 L632.3,1520.7 L633.5,1519.2 L635.2,1518.2 L637.1,1517.3 L638.5,1516.1 L639.5,1514.3 L640.6,1512.6 L642.1,1511.2 L643.7,1509.9 L645.3,1508.8 L647.1,1507.8 L648.5,1506.5 L649.5,1504.7 L650.6,1503.0 L652.3,1502.0 L654.2,1501.2 L655.7,1500.0 L657.1,1498.5 L658.5,1497.1 L660.2,1496.0 L661.9,1494.9 L663.5,1493.7 L665.0,1492.3 L666.2,1490.8 L667.1,1488.9 L668.1,1487.2 L669.4,1485.7 L670.8,1484.3 L672.0,1482.7 L673.1,1481.0 L674.1,1479.3 L675.0,1477.5 L675.9,1475.7 L676.8,1473.9 L677.7,1472.1 L678.7,1470.3 L679.8,1468.6 L681.1,1467.2 L682.7,1466.0 L684.3,1464.8 L685.6,1463.2 L686.8,1461.6 L688.6,1460.4 L690.8,1459.5 L691.6,1458.4 L691.5,1456.4 L691.3,1454.1 L691.2,1452.3 L692.5,1451.2 L694.6,1450.2 L696.1,1448.8 L697.3,1447.2 L698.6,1445.7 L700.2,1444.4 L701.7,1443.1 L702.9,1441.5 L703.9,1439.8 L704.8,1438.0 L705.6,1436.1 L706.6,1434.4 L707.9,1432.9 L709.4,1431.5 L710.7,1430.0 L711.9,1428.4 L712.8,1426.6 L713.5,1424.7 L714.3,1422.9 L715.8,1421.3 L717.0,1419.8 L717.2,1417.8 L717.2,1415.7 L717.4,1414.0 L719.1,1413.0 L721.2,1412.0 L722.4,1410.6 L723.2,1408.6 L723.5,1406.6 L723.6,1404.6 L723.6,1402.6 L724.1,1400.7 L725.2,1399.0 L726.0,1397.1 L726.5,1395.2 L726.9,1393.2 L727.4,1391.2 L727.9,1389.3 L728.7,1387.6 L730.0,1386.0 L731.3,1384.4 L732.7,1382.9 L733.8,1381.3 L734.4,1379.4 L734.8,1377.4 L735.4,1375.5 L736.2,1373.7 L737.0,1371.8 L737.7,1369.9 L738.5,1368.1 L739.1,1366.2 L739.8,1364.3 L740.5,1362.4 L741.5,1360.6 L741.8,1358.7 L741.7,1356.6 L741.7,1354.6 L742.1,1352.8 L743.4,1351.1 L744.4,1349.4 L745.2,1347.5 L745.7,1345.6 L745.9,1343.6 L745.9,1341.5 L746.4,1339.7 L747.7,1338.1 L748.9,1336.5 L749.7,1334.6 L750.3,1332.7 L751.0,1330.8 L751.6,1328.9 L752.4,1327.1 L753.4,1325.2 L753.8,1323.4 L753.8,1321.3 L753.8,1319.3 L754.4,1317.7 L756.2,1316.3 L757.5,1314.8 L758.2,1312.9 L758.8,1311.0 L759.5,1309.0 L760.2,1307.2 L761.2,1305.6 L762.9,1304.3 L764.4,1303.0 L765.6,1301.4 L766.6,1299.6 L767.2,1297.7 L767.5,1295.7 L768.0,1293.8 L769.4,1292.2 L770.5,1290.5 L770.6,1288.6 L770.6,1286.6 L770.8,1284.6 L771.4,1282.6 L771.8,1280.7 L771.8,1278.6 L771.8,1276.6 L772.2,1274.9 L774.1,1273.5 L775.1,1271.9 L774.7,1270.0 L773.9,1268.0 L773.6,1266.2 L774.9,1264.8 L776.8,1263.5 L778.0,1261.9 L779.1,1260.1 L779.4,1258.2 L779.0,1256.2 L778.6,1254.2 L778.9,1252.4 L780.3,1250.8 L781.5,1249.2 L782.3,1247.3 L783.0,1245.4 L784.1,1243.7 L785.2,1242.1 L786.3,1240.4 L787.5,1238.6 L788.1,1236.8 L788.2,1234.9 L788.2,1232.8 L788.3,1230.8 L788.4,1228.7 L788.6,1226.9 L789.9,1225.3 L791.4,1223.7 L791.9,1221.9 L792.3,1219.9 L792.3,1217.9 L792.2,1215.8 L792.1,1213.9 L792.6,1212.0 L793.6,1210.2 L794.3,1208.3 L794.9,1206.4 L795.6,1204.5 L796.4,1202.6 L797.1,1200.8 L797.7,1198.9 L798.3,1196.9 L799.2,1195.1 L800.5,1193.4 L800.9,1191.6 L800.3,1189.6 L799.7,1187.7 L800.0,1186.0 L801.6,1184.5 L802.8,1182.9 L803.1,1180.9 L803.3,1178.9 L803.6,1176.9 L803.9,1174.9 L804.5,1173.0 L805.8,1171.4 L806.8,1169.7 L806.4,1167.7 L805.8,1165.6 L805.7,1163.9 L807.3,1162.7 L809.3,1161.4 L810.1,1159.8 L810.5,1157.8 L810.6,1155.7 L810.6,1153.7 L810.5,1151.7 L810.9,1149.9 L812.1,1148.1 L812.6,1146.2 L812.7,1144.1 L812.8,1142.2 L813.9,1140.6 L815.6,1139.2 L816.4,1137.5 L816.8,1135.5 L817.0,1133.5 L817.2,1131.5 L817.4,1129.5 L817.6,1127.5 L817.8,1125.5 L818.2,1123.5 L818.9,1121.7 L819.6,1119.8 L820.4,1117.9 L821.1,1116.0 L821.7,1114.1 L822.3,1112.2 L823.0,1110.3 L823.7,1108.5 L824.5,1106.6 L825.5,1104.9 L826.4,1103.1 L827.3,1101.3 L828.2,1099.5 L828.8,1097.6 L829.3,1095.7 L829.8,1093.7 L830.3,1091.8 L830.8,1089.8 L831.3,1087.8 L831.8,1085.8 L832.7,1084.2 L834.7,1083.1 L836.4,1081.9 L836.5,1080.3 L835.9,1078.3 L835.4,1076.3 L835.8,1074.4 L836.8,1072.6 L837.8,1070.8 L839.0,1069.1 L839.7,1067.3 L840.0,1065.4 L840.3,1063.3 L840.8,1061.5 L841.7,1059.6 L842.5,1057.8 L843.2,1055.9 L843.9,1054.0 L844.7,1052.2 L845.5,1050.4 L846.2,1048.5 L846.8,1046.5 L847.1,1044.5 L847.2,1042.5 L847.5,1040.6 L848.8,1039.0 L850.4,1037.6 L850.6,1035.8 L850.2,1033.7 L849.9,1031.7 L850.7,1030.0 L852.2,1028.4 L852.9,1026.6 L853.3,1024.6 L853.6,1022.6 L854.0,1020.6 L854.3,1018.7 L855.2,1016.9 L856.5,1015.3 L857.3,1013.5 L857.6,1011.5 L858.1,1009.6 L859.5,1007.9 L860.7,1006.3 L860.7,1004.4 L860.7,1002.3 L860.7,1000.4 L862.1,999.0 L863.8,997.6 L864.6,995.8 L865.1,993.9 L865.6,991.9 L866.3,990.0 L866.6,988.0 L866.6,986.0 L866.6,984.0 L866.9,982.1 L868.0,980.3 L868.5,978.4 L868.5,976.4 L868.5,974.4 L868.7,972.3 L869.1,970.2 L870.0,968.8 L872.2,968.0 L874.4,967.2 L875.2,966.1 L875.2,964.1 L875.3,961.9 L875.9,960.1 L877.1,958.3 L877.3,956.4 L877.0,954.4 L876.8,952.4 L877.2,950.5 L878.2,948.7 L878.8,946.8 L879.3,944.9 L879.9,943.0 L880.7,941.1 L881.6,939.3 L882.4,937.5 L883.3,935.7 L884.2,933.9 L885.3,932.1 L885.8,930.2 L885.9,928.2 L886.0,926.2 L886.8,924.6 L888.5,923.2 L889.6,921.6 L890.1,919.6 L890.6,917.6 L891.5,915.9 L892.6,914.1 L893.2,912.3 L893.7,910.2 L894.4,908.5 L896.2,907.3 L897.8,906.0 L898.2,904.3 L898.4,902.2 L898.7,900.2 L899.1,898.2 L899.7,896.3 L900.9,894.7 L902.5,893.3 L903.1,891.6 L903.4,889.6 L903.6,887.5 L904.1,885.5 L904.8,883.6 L905.8,882.0 L907.3,880.6 L908.7,879.1 L909.9,877.5 L911.0,875.8 L911.8,874.0 L912.5,872.1 L913.3,870.3 L914.2,868.4 L915.3,866.9 L917.4,865.8 L919.2,864.8 L919.4,863.3 L919.3,861.1 L919.2,859.1 L920.2,857.5 L921.9,856.0 L922.3,854.2 L922.3,852.0 L922.4,850.1 L923.5,848.9 L925.6,847.8 L927.1,846.5 L928.3,844.8 L929.2,843.0 L929.6,841.1 L930.0,839.1 L930.5,837.1 L931.1,835.2 L931.9,833.4 L933.2,831.9 L934.5,830.4 L935.5,828.6 L936.3,826.8 L937.2,825.0 L938.3,823.2 L939.5,821.7 L941.1,820.5 L942.7,819.3 L944.1,817.9 L945.3,816.2 L946.4,814.6 L947.4,812.8 L948.4,811.1 L949.5,809.4 L950.8,807.9 L952.4,806.8 L954.3,805.8 L956.0,804.8 L957.6,803.6 L959.2,802.4 L960.8,801.2 L962.2,799.8 L963.2,798.0 L964.0,796.1 L965.3,794.7 L967.0,793.7 L968.7,792.6 L970.3,791.3 L971.9,790.1 L973.4,788.7 L974.9,787.4 L976.5,786.2 L978.1,785.1 L979.8,783.9 L981.5,782.8 L983.0,781.6 L984.3,780.0 L985.5,778.4 L987.0,777.1 L988.8,776.2 L990.5,775.0 L991.8,773.6 L993.2,772.1 L994.9,771.0 L996.7,770.0 L997.9,768.7 L998.8,766.9 L999.4,764.8 L1000.9,762.1 L1002.4,759.9 L1003.8,758.3 L1005.0,757.4 L1006.2,757.0 L1007.2,757.5 L1008.0,759.0 L1008.8,761.1 L1009.5,763.6 L1010.3,766.0 L1011.3,768.1 L1012.5,769.5 L1014.2,770.6 L1016.1,771.6 L1018.1,772.4 L1020.0,773.0 L1021.9,773.6 L1023.9,774.0 L1025.9,774.5 L1027.9,775.0 L1029.9,775.6 L1031.9,776.5 L1033.8,777.2 L1035.6,777.3 L1037.6,776.3 L1039.5,774.7 L1041.3,773.0 L1042.7,771.7 L1043.7,771.3 L1044.3,772.2 L1044.8,774.0 L1045.2,776.5 L1045.5,779.2 L1045.9,782.0 L1046.3,784.5 L1046.9,786.4 L1047.7,787.3 L1049.2,787.8 L1051.3,788.2 L1053.7,788.5 L1055.9,788.9 L1057.8,789.5 L1059.6,790.5 L1061.3,791.8 L1063.0,793.2 L1064.7,794.4 L1066.5,795.4 L1068.3,796.0 L1070.4,796.2 L1072.8,796.4 L1075.3,796.5 L1077.4,796.6 L1079.1,796.8 L1080.1,797.2 L1080.6,798.4 L1081.0,800.4 L1081.3,802.9 L1081.6,805.6 L1082.0,808.1 L1082.5,810.1 L1083.3,811.3 L1085.0,812.1 L1087.3,812.7 L1089.4,813.4 L1090.9,814.5 L1092.2,816.3 L1093.2,818.6 L1094.2,820.8 L1095.3,822.7 L1096.5,823.8 L1097.9,823.6 L1099.8,822.3 L1101.7,820.6 L1103.3,819.2 L1104.3,819.1 L1104.9,819.8 L1105.5,821.1 L1106.0,822.9 L1106.3,825.2 L1106.7,827.7 L1107.0,830.3 L1107.4,833.0 L1107.8,835.6 L1108.3,838.0 L1108.8,840.1 L1109.6,841.8 L1110.6,843.1 L1112.0,844.3 L1113.7,845.3 L1115.7,846.3 L1117.8,847.2 L1120.0,848.0 L1121.9,849.1 L1123.7,850.2 L1125.5,851.4 L1127.2,852.6 L1128.8,854.0 L1130.3,855.3 L1131.6,856.7 L1132.8,858.2 L1133.9,859.7 L1134.8,861.4 L1135.6,863.2 L1136.3,865.1 L1137.0,867.1 L1137.7,869.1 L1138.3,871.1 L1138.9,873.2 L1139.6,875.1 L1140.4,877.0 L1141.3,878.9 L1142.2,880.5 L1143.4,882.1 L1144.7,883.7 L1146.1,885.1 L1147.6,886.6 L1149.1,888.0 L1150.6,889.5 L1151.9,891.0 L1153.2,892.6 L1154.4,894.3 L1155.5,896.0 L1156.6,897.7 L1157.8,899.4 L1158.9,901.0 L1160.1,902.7 L1161.3,904.3 L1162.7,905.9 L1164.1,907.4 L1165.5,908.9 L1166.8,910.5 L1168.1,912.1 L1169.1,913.8 L1170.0,915.5 L1170.7,917.4 L1171.4,919.3 L1172.0,921.2 L1172.6,923.2 L1173.2,925.2 L1173.8,927.2 L1174.4,929.1 L1174.9,931.1 L1175.5,933.0 L1176.0,935.0 L1176.6,937.0 L1177.2,938.9 L1177.9,940.8 L1178.8,942.6 L1179.7,944.4 L1180.7,946.2 L1181.7,948.0 L1182.7,949.8 L1183.5,951.6 L1184.2,953.6 L1184.8,955.5 L1185.5,957.5 L1186.2,959.3 L1187.1,961.1 L1188.1,963.0 L1189.2,964.8 L1190.4,966.6 L1191.8,968.2 L1193.2,969.6 L1194.7,970.7 L1196.4,971.5 L1198.4,972.1 L1200.6,972.6 L1202.6,973.2 L1204.5,973.9 L1206.0,974.8 L1207.4,976.2 L1208.8,977.8 L1210.0,979.6 L1211.1,981.5 L1212.0,983.3 L1212.7,985.1 L1213.3,987.0 L1213.8,989.0 L1214.3,991.0 L1214.8,993.0 L1215.5,995.0 L1216.1,996.9 L1216.8,998.8 L1217.6,1000.7 L1218.4,1002.6 L1219.2,1004.4 L1220.0,1006.3 L1221.5,1007.7 L1223.0,1009.1 L1224.5,1010.4 L1226.1,1011.8 L1227.6,1013.1 L1229.4,1014.3 L1230.8,1015.7 L1231.4,1017.5 L1231.9,1019.6 L1232.5,1021.5 L1233.5,1023.3 L1234.5,1025.1 L1235.5,1026.9 L1236.5,1028.6 L1237.8,1030.2 L1239.2,1031.7 L1240.5,1033.2 L1241.7,1034.9 L1242.8,1036.6 L1244.2,1038.1 L1245.6,1039.6 L1247.0,1041.1 L1248.5,1042.6 L1249.4,1044.2 L1249.8,1046.2 L1250.2,1048.3 L1251.0,1050.1 L1252.0,1051.9 L1252.9,1053.8 L1253.5,1055.7 L1254.4,1057.5 L1255.7,1059.1 L1257.2,1060.5 L1258.4,1062.2 L1259.4,1063.9 L1260.4,1065.7 L1261.4,1067.5 L1262.4,1069.3 L1263.7,1070.9 L1264.8,1072.6 L1265.1,1074.6 L1265.3,1076.7 L1265.7,1078.5 L1267.1,1079.9 L1268.9,1081.2 L1270.2,1082.7 L1271.3,1084.5 L1272.3,1086.3 L1273.2,1088.1 L1273.9,1090.0 L1274.4,1092.0 L1275.0,1094.0 L1276.0,1095.6 L1277.4,1097.2 L1278.7,1098.8 L1280.0,1100.4 L1281.1,1102.1 L1282.0,1103.9 L1282.7,1105.8 L1283.3,1107.8 L1283.7,1109.8 L1284.3,1111.7 L1285.3,1113.4 L1286.5,1115.2 L1287.5,1116.9 L1288.5,1118.7 L1289.4,1120.5 L1290.2,1122.4 L1291.1,1124.2 L1292.0,1126.1 L1292.9,1127.9 L1293.8,1129.8 L1294.7,1131.6 L1296.0,1133.0 L1298.0,1133.9 L1299.7,1135.0 L1300.6,1136.7 L1301.2,1138.7 L1302.0,1140.6 L1302.8,1142.5 L1303.6,1144.4 L1304.9,1146.0 L1306.0,1147.7 L1306.4,1149.6 L1306.7,1151.7 L1307.3,1153.6 L1308.3,1155.5 L1309.0,1157.3 L1309.3,1159.4 L1309.5,1161.4 L1310.2,1163.2 L1311.6,1164.8 L1313.0,1166.3 L1314.6,1167.8 L1315.7,1169.4 L1316.0,1171.4 L1316.2,1173.5 L1316.6,1175.4 L1317.8,1177.1 L1319.1,1178.7 L1320.5,1180.2 L1321.8,1181.8 L1322.8,1183.5 L1323.6,1185.4 L1324.5,1187.2 L1325.6,1188.9 L1326.8,1190.6 L1327.8,1192.3 L1328.7,1194.1 L1329.7,1195.9 L1330.6,1197.6 L1331.6,1199.4 L1332.5,1201.1 L1333.5,1202.9 L1334.4,1204.6 L1335.3,1206.4 L1336.3,1208.2 L1337.2,1210.0 L1338.1,1211.7 L1339.0,1213.5 L1340.0,1215.3 L1340.9,1217.1 L1341.8,1218.8 L1342.7,1220.6 L1343.6,1222.4 L1344.5,1224.2 L1345.5,1226.0 L1346.4,1227.8 L1347.3,1229.6 L1348.2,1231.3 L1349.1,1233.1 L1350.0,1234.9 L1350.9,1236.7 L1351.8,1238.5 L1352.7,1240.3 L1353.6,1242.1 L1354.4,1243.9 L1355.3,1245.7 L1356.2,1247.5 L1357.1,1249.3 L1358.0,1251.1 L1358.9,1252.9 L1359.8,1254.8 L1360.7,1256.6 L1361.5,1258.4 L1362.4,1260.2 L1363.3,1262.0 L1364.2,1263.8 L1365.1,1265.6 L1366.0,1267.4 L1366.8,1269.2 L1367.7,1271.0 L1368.6,1272.9 L1369.5,1274.7 L1370.4,1276.5 L1371.2,1278.3 L1372.1,1280.1 L1373.0,1281.9 L1373.9,1283.7 L1374.8,1285.5 L1375.6,1287.4 L1376.5,1289.2 L1377.4,1291.0 L1378.3,1292.8 L1379.2,1294.6 L1380.0,1296.4 L1380.9,1298.2 L1381.8,1300.1 L1382.7,1301.9 L1383.6,1303.7 L1384.5,1305.5 L1385.4,1307.3 L1386.3,1309.1 L1387.1,1310.9 L1388.0,1312.7 L1388.9,1314.5 L1389.8,1316.3 L1390.7,1318.1 L1391.6,1319.9 L1392.5,1321.7 L1393.4,1323.5 L1394.3,1325.3 L1395.2,1327.1 L1396.2,1328.9 L1397.1,1330.7 L1398.0,1332.5 L1398.9,1334.3 L1399.8,1336.1 L1400.7,1337.9 L1401.6,1339.7 L1402.6,1341.5 L1403.5,1343.3 L1404.4,1345.1 L1405.4,1346.8 L1406.3,1348.6 L1407.2,1350.4 L1408.2,1352.2 L1409.1,1354.0 L1410.1,1355.7 L1411.0,1357.5 L1412.0,1359.3 L1412.9,1361.0 L1413.9,1362.8 L1414.8,1364.6 L1415.8,1366.3 L1416.8,1368.1 L1417.7,1369.9 L1418.7,1371.6 L1419.7,1373.4 L1420.7,1375.1 L1421.7,1376.9 L1422.7,1378.6 L1423.7,1380.3 L1424.7,1382.1 L1425.7,1383.8 L1426.7,1385.6 L1427.7,1387.3 L1428.7,1389.0 L1429.7,1390.7 L1430.8,1392.5 L1431.8,1394.2 L1432.8,1395.9 L1433.9,1397.6 L1434.9,1399.3 L1436.0,1401.0 L1437.0,1402.7 L1438.1,1404.4 L1439.1,1406.1 L1440.2,1407.8 L1441.3,1409.5 L1442.4,1411.2 L1443.5,1412.9 L1444.5,1414.6 L1445.6,1416.2 L1446.7,1417.9 L1447.9,1419.6 L1449.0,1421.2 L1450.1,1422.9 L1451.2,1424.5 L1452.3,1426.2 L1453.5,1427.8 L1454.6,1429.5 L1455.8,1431.1 L1456.9,1432.8 L1458.1,1434.4 L1459.3,1436.0 L1460.4,1437.6 L1461.6,1439.3 L1462.8,1440.9 L1464.0,1442.5 L1465.2,1444.1 L1466.4,1445.7 L1467.6,1447.3 L1468.8,1448.9 L1470.1,1450.5 L1471.3,1452.0 L1472.6,1453.6 L1473.8,1455.2 L1475.1,1456.7 L1476.3,1458.3 L1477.6,1459.9 L1478.9,1461.4 L1480.2,1463.0 L1481.5,1464.5 L1482.8,1466.0 L1484.1,1467.6 L1485.4,1469.1 L1486.7,1470.6 L1488.1,1472.1 L1489.4,1473.6 L1490.8,1475.1 L1492.1,1476.6 L1493.5,1478.1 L1494.9,1479.6 L1496.2,1481.1 L1497.6,1482.6 L1499.0,1484.0 L1500.4,1485.5 L1501.9,1486.9 L1503.3,1488.4 L1504.7,1489.8 L1506.2,1491.3 L1507.6,1492.7 L1509.1,1494.1 L1510.5,1495.5 L1512.0,1496.9 L1513.5,1498.3 L1515.0,1499.7 L1516.5,1501.1 L1518.0,1502.4 L1519.5,1503.8 L1521.0,1505.1 L1522.5,1506.5 L1524.1,1507.8 L1525.6,1509.1 L1527.1,1510.4 L1528.7,1511.7 L1530.3,1513.0 L1531.8,1514.3 L1533.4,1515.5 L1535.0,1516.8 L1536.6,1518.0 L1538.2,1519.2 L1539.8,1520.5 L1541.4,1521.7 L1543.0,1522.9 L1544.7,1524.0 L1546.3,1525.2 L1548.0,1526.4 L1549.6,1527.5 L1551.3,1528.6 L1552.9,1529.8 L1554.6,1530.9 L1556.3,1532.0 L1558.0,1533.0 L1559.7,1534.1 L1561.4,1535.1 L1563.1,1536.2 L1564.8,1537.2 L1566.5,1538.2 L1568.3,1539.2 L1570.0,1540.1 L1571.7,1541.1 L1573.5,1542.0 L1575.2,1543.0 L1577.0,1543.9 L1578.8,1544.8 L1580.6,1545.7 L1582.3,1546.5 L1584.1,1547.4 L1585.9,1548.2 L1587.7,1549.0 L1589.6,1549.8 L1591.4,1550.6 L1593.2,1551.3 L1595.0,1552.0 L1596.9,1552.8 L1598.7,1553.5 L1600.6,1554.2 L1602.4,1554.8 L1604.3,1555.5 L1606.1,1556.1 L1608.0,1556.7 L1609.9,1557.3 L1611.8,1557.8 L1613.7,1558.4 L1615.6,1558.9 L1617.5,1559.4 L1619.4,1559.9 L1621.3,1560.4 L1623.2,1560.8 L1625.2,1561.2 L1627.1,1561.7 L1629.1,1562.0 L1631.0,1562.4 L1632.9,1562.7 L1634.9,1563.0 L1636.9,1563.3 L1638.8,1563.6 L1640.8,1563.9 L1642.8,1564.1 L1644.8,1564.3 L1646.8,1564.5 L1648.7,1564.6 L1650.7,1564.8 L1652.7,1564.9 L1654.7,1565.0 L1656.7,1565.0 L1658.8,1565.1 L1660.8,1565.1 L1662.8,1565.1 L1664.8,1565.0 L1666.8,1565.0 L1668.9,1564.9 L1670.9,1564.8 L1672.9,1564.6 L1675.0,1564.5 L1677.0,1564.3 L1679.1,1564.1 L1681.1,1563.9 L1683.2,1563.6 L1685.2,1563.3 L1687.3,1563.0 L1689.3,1562.6 L1691.4,1562.3 L1693.5,1561.9 L1695.5,1561.4 L1697.6,1561.0 L1706.0,1559.3 L1709.0,1559.3" fill="none" stroke="#ff0" stroke-width="20.0" stroke-linejoin="round" stroke-linecap="butt"/>
<path d="M316.0,1563.3 L318.0,1563.3 L320.0,1563.3 L322.0,1563.3 L324.1,1563.3 L326.1,1563.3 L328.1,1563.3 L330.1,1563.3 L332.1,1563.3 L334.1,1563.3 L336.1,1563.3 L338.2,1563.3 L340.2,1563.3 L342.2,1563.3 L344.2,1563.3 L346.2,1563.3 L348.2,1563.3 L350.3,1563.3 L352.3,1563.3 L354.3,1563.3 L356.3,1563.3 L358.3,1563.3 L360.3,1563.3 L362.3,1563.3 L364.4,1563.3 L366.4,1563.3 L368.4,1563.3 L370.4,1563.3 L372.4,1563.3 L374.4,1563.4 L376.4,1563.6 L378.5,1563.8 L380.5,1564.1 L382.5,1564.3 L384.5,1564.5 L386.5,1564.5 L388.4,1564.1 L390.4,1563.5 L392.4,1563.3 L394.4,1563.3 L396.4,1563.3 L398.4,1563.2 L400.4,1563.2 L402.4,1563.2 L404.5,1563.2 L406.5,1563.2 L408.5,1563.2 L410.5,1563.2 L412.5,1563.2 L414.6,1563.2 L416.6,1563.2 L418.6,1563.1 L420.6,1563.1 L422.6,1563.1 L424.6,1563.1 L426.6,1563.1 L428.7,1563.1 L430.7,1563.1 L432.7,1563.1 L434.7,1563.0 L436.7,1563.0 L438.7,1563.0 L440.7,1563.0 L442.8,1563.0 L444.8,1563.0 L446.8,1563.0 L448.8,1562.9 L450.8,1562.9 L452.8,1562.9 L454.8,1562.9 L456.9,1562.9 L458.9,1562.9 L460.9,1562.9 L462.9,1562.8 L464.9,1562.8 L466.9,1562.8 L469.0,1562.8 L471.0,1562.8 L473.0,1562.8 L475.0,1562.7 L477.0,1562.7 L479.0,1562.7 L481.0,1562.7 L483.1,1562.7 L485.1,1562.7 L487.1,1562.6 L489.1,1562.6 L491.1,1562.6 L493.1,1562.6 L495.1,1562.6 L497.2,1562.5 L499.2,1562.5 L501.2,1562.5 L503.2,1562.5 L505.2,1562.4 L507.2,1562.4 L509.2,1562.4 L511.3,1562.4 L513.3,1562.3 L515.3,1562.3 L517.3,1562.3 L519.3,1562.3 L521.3,1562.2 L523.3,1562.2 L525.4,1562.2 L527.4,1562.2 L529.4,1562.1 L531.4,1562.1 L533.4,1562.1 L535.4,1562.1 L537.4,1562.0 L539.5,1562.0 L541.5,1562.0 L543.5,1562.0 L545.5,1561.9 L547.5,1561.9 L549.5,1561.9 L551.6,1561.8 L553.6,1561.8 L555.6,1561.8 L557.6,1561.8 L559.6,1561.7 L561.6,1561.7 L563.6,1561.7 L565.7,1561.7 L567.7,1561.6 L569.7,1561.6 L571.7,1561.5 L573.7,1561.5 L575.7,1561.5 L577.7,1561.4 L579.8,1561.4 L581.8,1561.3 L583.8,1561.3 L585.8,1561.2 L587.8,1561.2 L589.8,1561.1 L591.8,1561.0 L593.9,1561.0 L595.9,1560.9 L597.9,1560.8 L599.9,1560.7 L601.9,1560.6 L603.9,1560.5 L605.9,1560.4 L608.0,1560.3 L610.0,1560.2 L612.0,1560.1 L614.0,1559.9 L616.0,1559.8 L618.0,1559.7 L620.0,1559.5 L622.0,1559.4 L624.0,1559.2 L626.0,1559.1 L628.0,1558.9 L630.0,1558.7 L632.1,1558.5 L634.1,1558.3 L636.0,1558.1 L638.0,1557.8 L640.0,1557.5 L642.0,1557.2 L644.0,1556.9 L646.0,1556.6 L648.0,1556.2 L650.0,1555.9 L652.0,1555.8 L654.1,1555.6 L656.1,1555.5 L658.1,1555.3 L660.1,1555.1 L662.2,1554.8 L664.2,1554.6 L666.2,1554.3 L668.2,1554.0 L670.1,1553.7 L672.1,1553.4 L674.1,1553.1 L676.1,1552.7 L678.0,1552.3 L680.0,1552.0 L682.0,1551.5 L683.9,1551.1 L685.8,1550.7 L687.8,1550.2 L689.7,1549.7 L691.7,1549.2 L693.6,1548.7 L695.5,1548.2 L697.4,1547.7 L699.3,1547.1 L701.2,1546.5 L703.1,1546.0 L705.0,1545.4 L706.9,1544.8 L708.8,1544.1 L710.7,1543.5 L712.6,1542.8 L714.5,1542.2 L716.3,1541.5 L718.2,1540.8 L720.1,1540.1 L721.9,1539.4 L723.8,1538.7 L725.6,1537.9 L727.5,1537.2 L729.3,1536.4 L731.2,1535.7 L733.0,1534.9 L734.8,1534.1 L736.7,1533.3 L738.5,1532.5 L740.3,1531.7 L742.1,1530.8 L743.9,1530.0 L745.8,1529.2 L747.6,1528.3 L749.4,1527.4 L751.2,1526.6 L753.0,1525.7 L754.8,1524.8 L756.6,1523.9 L758.4,1523.0 L760.2,1522.1 L762.0,1521.2 L763.7,1520.3 L765.5,1519.4 L767.3,1518.4 L769.1,1517.5 L770.9,1516.6 L772.6,1515.6 L774.4,1514.7 L776.2,1513.7 L777.9,1512.8 L779.7,1511.8 L781.5,1510.8 L783.2,1509.9 L785.0,1508.9 L786.8,1507.9 L788.5,1506.9 L790.3,1506.0 L792.0,1505.0 L793.8,1504.0 L795.5,1503.0 L797.3,1502.0 L799.0,1501.0 L800.8,1500.1 L802.5,1499.1 L804.3,1498.1 L806.0,1497.1 L807.8,1496.1 L809.5,1495.1 L811.2,1494.1 L813.0,1493.1 L814.7,1492.1 L816.5,1491.1 L818.2,1490.1 L819.9,1489.1 L821.7,1488.1 L823.4,1487.1 L825.1,1486.1 L826.9,1485.1 L828.6,1484.1 L830.3,1483.1 L832.0,1482.0 L833.8,1481.0 L835.5,1480.0 L837.2,1479.0 L838.9,1478.0 L840.7,1477.0 L842.4,1476.0 L844.1,1474.9 L845.8,1473.9 L847.6,1472.9 L849.3,1471.9 L851.0,1470.9 L852.7,1469.9 L854.4,1468.8 L856.2,1467.8 L857.9,1466.8 L859.6,1465.8 L861.3,1464.7 L863.0,1463.7 L864.7,1462.7 L866.5,1461.7 L868.2,1460.7 L869.9,1459.6 L871.6,1458.6 L873.3,1457.6 L875.0,1456.6 L876.8,1455.5 L878.5,1454.5 L880.2,1453.5 L881.9,1452.4 L883.6,1451.4 L885.3,1450.4 L887.0,1449.4 L888.7,1448.3 L890.5,1447.3 L892.2,1446.3 L893.9,1445.3 L895.6,1444.2 L897.3,1443.2 L899.0,1442.2 L900.7,1441.1 L902.4,1440.1 L904.2,1439.1 L905.9,1438.1 L907.6,1437.0 L909.3,1436.0 L911.0,1435.0 L912.7,1434.0 L914.4,1432.9 L916.2,1431.9 L917.9,1430.9 L919.6,1429.9 L921.3,1428.8 L923.0,1427.8 L924.7,1426.8 L926.5,1425.8 L928.2,1424.7 L929.9,1423.7 L931.6,1422.7 L933.3,1421.7 L935.1,1420.7 L936.8,1419.6 L938.5,1418.6 L940.2,1417.6 L941.9,1416.6 L943.7,1415.6 L945.4,1414.5 L947.1,1413.5 L948.8,1412.5 L950.6,1411.5 L952.3,1410.5 L954.0,1409.5 L955.7,1408.5 L957.5,1407.5 L959.2,1406.4 L960.9,1405.4 L962.7,1404.4 L964.4,1403.4 L966.1,1402.4 L967.9,1401.4 L969.6,1400.4 L971.3,1399.4 L973.1,1398.4 L974.8,1397.4 L976.6,1396.4 L978.3,1395.4 L980.0,1394.4 L981.8,1393.4 L983.5,1392.4 L985.3,1391.4 L987.0,1390.5 L988.8,1389.5 L990.5,1388.5 L992.3,1387.5 L994.0,1386.5 L995.8,1385.5 L997.5,1384.6 L999.3,1383.6 L1001.1,1382.6 L1002.8,1381.6 L1004.6,1380.7 L1006.3,1379.7 L1008.1,1378.7 L1009.9,1377.7 L1011.6,1376.8 L1013.4,1375.8 L1015.2,1374.9 L1016.9,1373.9 L1018.7,1373.0 L1020.5,1372.0 L1022.3,1371.1 L1024.0,1370.1 L1025.8,1369.2 L1027.6,1368.2 L1029.4,1367.3 L1031.1,1366.3 L1032.9,1365.4 L1034.7,1364.5 L1036.5,1363.6 L1038.3,1362.6 L1040.1,1361.7 L1041.9,1360.8 L1043.7,1359.9 L1045.4,1359.0 L1047.2,1358.1 L1049.0,1357.2 L1050.8,1356.3 L1052.6,1355.4 L1054.4,1354.5 L1056.2,1353.6 L1058.0,1352.7 L1059.9,1351.8 L1061.7,1350.9 L1063.5,1350.0 L1065.3,1349.2 L1067.1,1348.3 L1068.9,1347.4 L1070.7,1346.6 L1072.5,1345.7 L1074.4,1344.9 L1076.2,1344.0 L1078.0,1343.2 L1079.8,1342.3 L1081.6,1341.5 L1083.5,1340.7 L1085.3,1339.8 L1087.1,1339.0 L1089.0,1338.2 L1090.8,1337.4 L1092.6,1336.6 L1094.5,1335.8 L1096.3,1335.0 L1098.1,1334.2 L1100.0,1333.4 L1101.8,1332.6 L1103.7,1331.8 L1105.5,1331.1 L1107.4,1330.3 L1109.2,1329.5 L1111.1,1328.8 L1112.9,1328.0 L1114.8,1327.3 L1116.6,1326.5 L1118.5,1325.8 L1120.4,1325.1 L1122.2,1324.3 L1124.1,1323.6 L1126.0,1322.9 L1127.8,1322.2 L1129.7,1321.5 L1131.6,1320.8 L1133.4,1320.1 L1135.3,1319.4 L1137.2,1318.7 L1139.1,1318.0 L1141.0,1317.4 L1142.8,1316.7 L1144.7,1316.1 L1146.6,1315.4 L1148.5,1314.8 L1150.4,1314.1 L1152.3,1313.5 L1154.2,1312.9 L1156.1,1312.3 L1158.0,1311.6 L1159.9,1311.0 L1161.8,1310.4 L1163.7,1309.9 L1165.6,1309.3 L1167.5,1308.7 L1169.4,1308.1 L1171.3,1307.6 L1173.2,1307.0 L1175.2,1306.5 L1177.1,1305.9 L1179.0,1305.4 L1180.9,1304.8 L1182.8,1304.3 L1184.8,1303.8 L1186.7,1303.3 L1188.6,1302.8 L1190.6,1302.3 L1192.5,1301.8 L1194.4,1301.4 L1196.4,1300.9 L1198.3,1300.4 L1200.3,1300.0 L1202.2,1299.5 L1204.2,1299.1 L1206.1,1298.7 L1208.1,1298.2 L1210.0,1297.8 L1212.0,1297.4 L1213.9,1297.0 L1215.9,1296.6 L1217.8,1296.3 L1219.8,1295.9 L1221.8,1295.5 L1223.7,1295.2 L1225.7,1294.8 L1227.7,1294.5 L1229.7,1294.1 L1231.7,1293.8 L1233.6,1293.5 L1235.6,1293.2 L1237.6,1292.9 L1239.6,1292.6 L1241.6,1292.3 L1243.6,1292.1 L1245.6,1291.8 L1247.6,1291.6 L1249.6,1291.3 L1251.6,1291.1 L1253.6,1290.9 L1255.6,1290.7 L1257.6,1290.5 L1259.6,1290.3 L1261.6,1290.1 L1263.6,1289.9 L1265.6,1289.7 L1267.6,1289.6 L1269.6,1289.4 L1271.6,1289.3 L1273.6,1289.2 L1275.7,1289.0 L1277.7,1288.9 L1279.7,1288.8 L1281.7,1288.7 L1283.7,1288.7 L1285.7,1288.6 L1287.8,1288.5 L1289.8,1288.5 L1291.8,1288.5 L1293.8,1288.4 L1295.8,1288.4 L1297.8,1288.4 L1299.9,1288.4 L1301.9,1288.4 L1303.9,1288.5 L1305.9,1288.5 L1307.9,1288.6 L1309.9,1288.6 L1312.0,1288.7 L1314.0,1288.8 L1316.0,1288.9 L1318.0,1289.0 L1320.0,1289.1 L1322.0,1289.2 L1324.0,1289.3 L1326.0,1289.5 L1328.0,1289.7 L1330.0,1289.8 L1332.0,1290.0 L1334.0,1290.2 L1336.0,1290.4 L1338.0,1290.6 L1340.0,1290.9 L1342.0,1291.1 L1344.0,1291.4 L1346.0,1291.6 L1348.0,1291.9 L1350.0,1292.2 L1351.9,1292.5 L1353.9,1292.8 L1355.9,1293.1 L1357.9,1293.5 L1359.8,1293.8 L1361.8,1294.2 L1363.8,1294.6 L1365.7,1294.9 L1367.7,1295.4 L1369.7,1295.8 L1371.6,1296.2 L1373.6,1296.6 L1375.5,1297.1 L1377.4,1297.5 L1379.4,1298.0 L1381.3,1298.5 L1383.2,1299.0 L1385.2,1299.5 L1387.1,1300.1 L1389.0,1300.6 L1390.9,1301.2 L1392.9,1301.7 L1394.8,1302.3 L1396.7,1302.9 L1398.6,1303.5 L1400.5,1304.1 L1402.4,1304.7 L1404.3,1305.4 L1406.1,1306.0 L1408.0,1306.7 L1409.9,1307.3 L1411.8,1308.0 L1413.7,1308.7 L1415.5,1309.4 L1417.4,1310.1 L1419.3,1310.8 L1421.1,1311.5 L1423.0,1312.3 L1424.8,1313.0 L1426.7,1313.8 L1428.5,1314.5 L1430.4,1315.3 L1432.2,1316.1 L1434.1,1316.9 L1435.9,1317.7 L1437.8,1318.5 L1439.6,1319.3 L1441.4,1320.1 L1443.2,1320.9 L1445.1,1321.7 L1446.9,1322.6 L1448.7,1323.4 L1450.5,1324.3 L1452.3,1325.1 L1454.1,1326.0 L1455.9,1326.9 L1457.7,1327.7 L1459.5,1328.6 L1461.3,1329.5 L1463.1,1330.4 L1464.9,1331.3 L1466.7,1332.2 L1468.5,1333.1 L1470.3,1334.0 L1472.1,1334.9 L1473.8,1335.9 L1475.6,1336.8 L1477.4,1337.7 L1479.2,1338.6 L1480.9,1339.6 L1482.7,1340.5 L1484.5,1341.5 L1486.2,1342.4 L1488.0,1343.4 L1489.8,1344.3 L1491.5,1345.3 L1493.3,1346.3 L1495.0,1347.2 L1496.8,1348.2 L1498.5,1349.2 L1500.3,1350.1 L1502.0,1351.1 L1503.8,1352.1 L1505.5,1353.1 L1507.3,1354.1 L1509.0,1355.0 L1510.8,1356.0 L1512.5,1357.0 L1514.3,1358.0 L1516.0,1359.0 L1517.8,1360.0 L1519.5,1361.0 L1521.2,1362.0 L1523.0,1363.0 L1524.7,1364.0 L1526.5,1365.0 L1528.2,1366.0 L1529.9,1367.0 L1531.7,1368.0 L1533.4,1369.0 L1535.1,1370.0 L1536.9,1371.0 L1538.6,1372.0 L1540.4,1373.0 L1542.1,1374.0 L1543.8,1375.0 L1545.6,1376.0 L1547.3,1377.0 L1549.0,1378.0 L1550.8,1379.0 L1552.5,1380.0 L1554.3,1381.0 L1556.0,1382.0 L1557.7,1383.0 L1559.5,1384.0 L1561.2,1385.0 L1563.0,1386.0 L1564.7,1387.0 L1566.5,1388.0 L1568.2,1389.0 L1569.9,1389.9 L1571.7,1390.9 L1573.4,1391.9 L1575.2,1392.9 L1576.9,1393.9 L1578.7,1394.8 L1580.5,1395.8 L1582.2,1396.8 L1584.0,1397.7 L1585.7,1398.7 L1587.5,1399.6 L1589.2,1400.6 L1591.0,1401.6 L1592.8,1402.5 L1594.5,1403.4 L1596.3,1404.4 L1598.1,1405.3 L1599.8,1406.3 L1601.6,1407.2 L1603.4,1408.1 L1605.2,1409.1 L1606.9,1410.0 L1608.7,1410.9 L1610.5,1411.9 L1612.3,1412.8 L1614.0,1413.7 L1615.8,1414.6 L1617.6,1415.5 L1619.4,1416.5 L1621.2,1417.4 L1623.0,1418.3 L1624.8,1419.2 L1626.5,1420.1 L1628.3,1421.0 L1630.1,1421.9 L1631.9,1422.8 L1633.7,1423.7 L1635.5,1424.6 L1637.3,1425.4 L1639.1,1426.3 L1640.9,1427.2 L1642.7,1428.1 L1644.5,1429.0 L1646.3,1429.9 L1648.1,1430.7 L1649.9,1431.6 L1651.7,1432.5 L1653.5,1433.4 L1655.3,1434.2 L1657.1,1435.1 L1658.9,1436.0 L1660.7,1436.8 L1662.5,1437.7 L1664.3,1438.5 L1666.2,1439.4 L1668.0,1440.2 L1669.8,1441.1 L1671.6,1441.9 L1673.4,1442.8 L1675.2,1443.6 L1677.1,1444.5 L1678.9,1445.3 L1680.7,1446.2 L1682.5,1447.0 L1684.3,1447.8 L1686.2,1448.7 L1688.0,1449.5 L1689.8,1450.3 L1691.6,1451.2 L1693.4,1452.0 L1695.3,1452.8 L1697.1,1453.7 L1698.9,1454.5 L1700.8,1455.3 L1702.6,1456.1 L1704.4,1456.9 L1706.2,1457.8 L1708.1,1458.6 L1709.9,1459.4 L1711.7,1460.2 L1713.6,1461.0 L1715.4,1461.8 L1717.2,1462.6 L1719.1,1463.4 L1720.9,1464.2 L1722.8,1465.0 L1724.6,1465.8 L1726.4,1466.6 L1728.3,1467.4 L1730.1,1468.2 L1732.0,1469.0 L1733.8,1469.8 L1735.6,1470.6 L1737.5,1471.4 L1739.3,1472.2 L1741.2,1473.0 L1743.0,1473.8 L1744.9,1474.6 L1746.7,1475.4 L1748.5,1476.1 L1750.4,1476.9 L1752.2,1477.7 L1754.1,1478.5 L1755.9,1479.3 L1757.8,1480.0 L1759.6,1480.8 L1761.5,1481.6 L1763.3,1482.4 L1765.2,1483.1 L1767.0,1483.9 L1768.9,1484.7 L1770.7,1485.5 L1772.6,1486.2 L1774.4,1487.0 L1776.3,1487.8 L1778.1,1488.5 L1780.0,1489.3 L1781.8,1490.1 L1783.7,1490.8 L1785.6,1491.6 L1787.4,1492.4 L1789.3,1493.1 L1791.1,1493.9 L1793.0,1494.6 L1794.8,1495.4 L1796.7,1496.1 L1798.5,1496.9 L1800.4,1497.7 L1802.3,1498.4 L1804.1,1499.2 L1806.0,1499.9 L1807.8,1500.7 L1809.7,1501.4 L1811.5,1502.2 L1813.4,1502.9 L1815.3,1503.7 L1817.1,1504.4 L1819.0,1505.2 L1820.8,1505.9 L1822.7,1506.7 L1824.6,1507.4 L1826.4,1508.2 L1828.3,1508.9 L1830.1,1509.7 L1832.0,1510.4 L1833.9,1511.2 L1835.7,1511.9 L1837.6,1512.6 L1839.4,1513.4 L1841.3,1514.1 L1843.2,1514.9 L1845.0,1515.6 L1846.9,1516.4 L1848.8,1517.1 L1850.6,1517.8 L1852.5,1518.6 L1854.3,1519.3 L1856.2,1520.1 L1858.1,1520.8 L1859.9,1521.5 L1861.8,1522.3 L1863.7,1523.0 L1865.5,1523.7 L1867.4,1524.5 L1869.2,1525.2 L1871.1,1525.9 L1873.0,1526.6 L1874.9,1527.3 L1876.7,1528.0 L1878.6,1528.7 L1880.5,1529.4 L1882.4,1530.1 L1884.3,1530.8 L1886.1,1531.4 L1888.0,1532.1 L1889.9,1532.7 L1891.8,1533.4 L1893.7,1534.0 L1895.6,1534.6 L1897.5,1535.3 L1899.4,1535.9 L1901.3,1536.5 L1903.2,1537.1 L1905.1,1537.6 L1907.1,1538.2 L1909.0,1538.8 L1910.9,1539.3 L1912.8,1539.9 L1914.8,1540.4 L1916.7,1540.9 L1918.6,1541.4 L1920.6,1542.0 L1922.5,1542.5 L1924.4,1543.0 L1926.4,1543.5 L1928.3,1543.9 L1930.3,1544.4 L1932.2,1544.9 L1934.2,1545.4 L1936.1,1545.9 L1938.1,1546.3 L1940.0,1546.8 L1942.0,1547.3 L1943.9,1547.7 L1945.9,1548.2 L1947.9,1548.6 L1949.8,1549.1 L1951.8,1549.5 L1953.7,1550.0 L1955.7,1550.4 L1957.6,1550.9 L1959.6,1551.3 L1961.6,1551.8 L1963.5,1552.2 L1965.5,1552.7 L1967.4,1553.1 L1969.4,1553.6 L1971.3,1554.1 L1973.3,1554.5 L1975.2,1555.0 L1977.2,1555.4 L1979.1,1555.9 L1981.1,1556.4 L1983.0,1556.9 L1985.0,1557.4 L1986.9,1557.9 L1988.9,1558.3 L1990.8,1558.8 L1992.8,1559.4 L1994.7,1559.9 L1996.6,1560.4 L1998.5,1560.9 L2000.5,1561.5 L2002.4,1562.0 L2004.4,1562.4 L2006.4,1562.8 L2008.4,1563.2 L2010.4,1563.5 L2012.4,1563.9 L2014.4,1564.3 L2016.4,1564.6 L2018.4,1565.0 L2020.4,1565.4 L2022.4,1565.7 L2024.4,1566.0 L2026.4,1566.4 L2028.4,1566.7 L2030.4,1567.1 L2032.4,1567.4 L2034.4,1567.8 L2036.4,1568.2 L2038.4,1568.6 L2040.4,1569.0 L2042.4,1569.3 L2044.4,1569.6 L2046.4,1569.8 L2048.4,1569.8 L2050.4,1569.7 L2052.5,1569.5 L2054.5,1569.2 L2056.5,1568.9 L2058.5,1568.5 L2060.5,1568.0 L2062.5,1567.6 L2064.5,1567.3 L2066.5,1566.9 L2068.5,1566.6 L2070.5,1566.3 L2072.5,1565.9 L2074.5,1565.6 L2076.5,1565.2 L2078.5,1564.9 L2080.5,1564.6 L2082.5,1564.3 L2084.6,1564.0 L2086.6,1563.8 L2088.6,1563.7 L2090.6,1563.5 L2092.6,1563.4 L2094.7,1563.3 L2096.7,1563.2 L2098.7,1563.1 L2100.7,1563.0 L2102.8,1562.9 L2104.8,1562.8 L2106.8,1562.7 L2108.9,1562.6 L2110.9,1562.6 L2112.9,1562.5 L2115.0,1562.4 L2117.0,1562.3 L2119.0,1562.3 L2121.0,1562.2 L2123.1,1562.1 L2125.1,1562.0 L2127.1,1562.0 L2129.2,1561.9 L2131.2,1561.8 L2133.2,1561.7 L2135.3,1561.6 L2137.3,1561.5 L2139.3,1561.4 L2141.3,1561.3 L2143.4,1561.2 L2145.4,1561.2 L2147.4,1561.1 L2149.5,1561.0 L2151.5,1560.9 L2153.5,1560.8 L2155.5,1560.7 L2157.6,1560.7 L2159.6,1560.6 L2161.6,1560.5 L2163.7,1560.5 L2165.7,1560.4 L2167.7,1560.4 L2169.8,1560.3 L2171.8,1560.3 L2173.8,1560.3 L2175.8,1560.3 L2177.9,1560.3 L2179.9,1560.3 L2181.9,1560.3 L2184.0,1560.3 L2186.0,1560.3 M349.0,1563.3 L355.0,1559.3 L359.5,1558.3 L364.0,1559.3 L370.0,1563.3" fill="none" stroke="#f0f" stroke-width="20.0" stroke-linejoin="round" stroke-linecap="butt"/>
</g>
<g>
<text transform="translate(276.5,1578.5) scale(1,1.050)" text-anchor="end" font-size="67" style="letter-spacing:-1.2px">0.0</text>
<text transform="translate(276.5,1210.5) scale(1,1.050)" text-anchor="end" font-size="67" style="letter-spacing:-1.2px">0.4</text>
<text transform="translate(276.5,842.5) scale(1,1.050)" text-anchor="end" font-size="67" style="letter-spacing:-1.2px">0.8</text>
<text transform="translate(276.5,474.5) scale(1,1.050)" text-anchor="end" font-size="67" style="letter-spacing:-1.2px">1.2</text>
<text transform="translate(276.5,106.5) scale(1,1.050)" text-anchor="end" font-size="67" style="letter-spacing:-1.2px">1.6</text>
<text transform="translate(327.0,1677.7) scale(1,1.061)" text-anchor="middle" font-size="66.3">400</text>
<text transform="translate(558.0,1677.7) scale(1,1.061)" text-anchor="middle" font-size="66.3">450</text>
<text transform="translate(789.0,1677.7) scale(1,1.061)" text-anchor="middle" font-size="66.3">500</text>
<text transform="translate(1020.0,1677.7) scale(1,1.061)" text-anchor="middle" font-size="66.3">550</text>
<text transform="translate(1251.0,1677.7) scale(1,1.061)" text-anchor="middle" font-size="66.3">600</text>
<text transform="translate(1482.0,1677.7) scale(1,1.061)" text-anchor="middle" font-size="66.3">650</text>
<text transform="translate(1713.0,1677.7) scale(1,1.061)" text-anchor="middle" font-size="66.3">700</text>
<text transform="translate(1944.0,1677.7) scale(1,1.061)" text-anchor="middle" font-size="66.3">750</text>
<text transform="translate(2175.0,1677.7) scale(1,1.061)" text-anchor="middle" font-size="66.3">800</text>
<text transform="translate(1249.6,1817.2) scale(1,1.0)" text-anchor="middle" font-size="89" style="font-kerning:none;letter-spacing:-1.05px">Wavelength (nm)</text>
<text transform="translate(133.9,891.7) rotate(-90) scale(1,1.0)" text-anchor="middle" font-size="90.6">Absorbance</text>
</g>
</svg>
</body></html>
